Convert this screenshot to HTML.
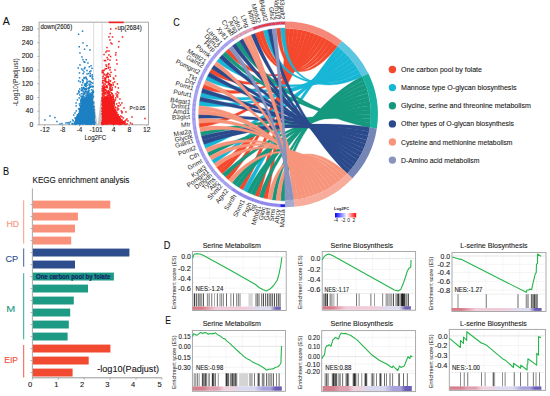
<!DOCTYPE html>
<html><head><meta charset="utf-8"><style>html,body{margin:0;padding:0;background:#fff;overflow:hidden}svg{display:block}</style></head>
<body><svg width="550" height="396" viewBox="0 0 550 396" font-family="'Liberation Sans', sans-serif">
<rect width="550" height="396" fill="#fff"/>
<text x="2.80" y="25.30" font-size="10.8" textLength="7.0" lengthAdjust="spacingAndGlyphs" fill="#111" stroke="#111" stroke-width="0.1">A</text>
<rect x="39.1" y="22.2" width="109.4" height="102.6" fill="none" stroke="#a0a0a0" stroke-width="0.9"/>
<line x1="37.300000000000004" y1="124.9" x2="39.1" y2="124.9" stroke="#888" stroke-width="0.6"/>
<text x="33.20" y="126.90" font-size="7.8" text-anchor="end" textLength="3.8" lengthAdjust="spacingAndGlyphs" fill="#161616" stroke="#161616" stroke-width="0.1">0</text>
<line x1="37.9" y1="118.1" x2="39.1" y2="118.1" stroke="#aaa" stroke-width="0.5"/>
<line x1="37.300000000000004" y1="111.2" x2="39.1" y2="111.2" stroke="#888" stroke-width="0.6"/>
<text x="33.20" y="113.20" font-size="7.8" text-anchor="end" textLength="7.6" lengthAdjust="spacingAndGlyphs" fill="#161616" stroke="#161616" stroke-width="0.1">40</text>
<line x1="37.9" y1="104.4" x2="39.1" y2="104.4" stroke="#aaa" stroke-width="0.5"/>
<line x1="37.300000000000004" y1="97.5" x2="39.1" y2="97.5" stroke="#888" stroke-width="0.6"/>
<text x="33.20" y="99.50" font-size="7.8" text-anchor="end" textLength="7.6" lengthAdjust="spacingAndGlyphs" fill="#161616" stroke="#161616" stroke-width="0.1">80</text>
<line x1="37.9" y1="90.7" x2="39.1" y2="90.7" stroke="#aaa" stroke-width="0.5"/>
<line x1="37.300000000000004" y1="83.8" x2="39.1" y2="83.8" stroke="#888" stroke-width="0.6"/>
<text x="33.20" y="85.80" font-size="7.8" text-anchor="end" textLength="11.5" lengthAdjust="spacingAndGlyphs" fill="#161616" stroke="#161616" stroke-width="0.1">120</text>
<line x1="37.9" y1="77.0" x2="39.1" y2="77.0" stroke="#aaa" stroke-width="0.5"/>
<line x1="37.300000000000004" y1="70.1" x2="39.1" y2="70.1" stroke="#888" stroke-width="0.6"/>
<text x="33.20" y="72.10" font-size="7.8" text-anchor="end" textLength="11.5" lengthAdjust="spacingAndGlyphs" fill="#161616" stroke="#161616" stroke-width="0.1">160</text>
<line x1="37.9" y1="63.2" x2="39.1" y2="63.2" stroke="#aaa" stroke-width="0.5"/>
<line x1="37.300000000000004" y1="56.4" x2="39.1" y2="56.4" stroke="#888" stroke-width="0.6"/>
<text x="33.20" y="58.40" font-size="7.8" text-anchor="end" textLength="11.5" lengthAdjust="spacingAndGlyphs" fill="#161616" stroke="#161616" stroke-width="0.1">200</text>
<line x1="37.9" y1="49.6" x2="39.1" y2="49.6" stroke="#aaa" stroke-width="0.5"/>
<line x1="37.300000000000004" y1="42.7" x2="39.1" y2="42.7" stroke="#888" stroke-width="0.6"/>
<text x="33.20" y="44.70" font-size="7.8" text-anchor="end" textLength="11.5" lengthAdjust="spacingAndGlyphs" fill="#161616" stroke="#161616" stroke-width="0.1">240</text>
<line x1="37.9" y1="35.9" x2="39.1" y2="35.9" stroke="#aaa" stroke-width="0.5"/>
<line x1="37.300000000000004" y1="29.0" x2="39.1" y2="29.0" stroke="#888" stroke-width="0.6"/>
<text x="33.20" y="31.00" font-size="7.8" text-anchor="end" textLength="11.5" lengthAdjust="spacingAndGlyphs" fill="#161616" stroke="#161616" stroke-width="0.1">280</text>
<line x1="44.8" y1="124.8" x2="44.8" y2="126.39999999999999" stroke="#888" stroke-width="0.6"/>
<text x="44.80" y="132.20" font-size="7.6" text-anchor="middle" textLength="9.8" lengthAdjust="spacingAndGlyphs" fill="#161616" stroke="#161616" stroke-width="0.1">-12</text>
<line x1="62.5" y1="124.8" x2="62.5" y2="126.39999999999999" stroke="#888" stroke-width="0.6"/>
<text x="62.50" y="132.20" font-size="7.6" text-anchor="middle" textLength="5.6" lengthAdjust="spacingAndGlyphs" fill="#161616" stroke="#161616" stroke-width="0.1">-8</text>
<line x1="79.5" y1="124.8" x2="79.5" y2="126.39999999999999" stroke="#888" stroke-width="0.6"/>
<text x="79.50" y="132.20" font-size="7.6" text-anchor="middle" textLength="5.6" lengthAdjust="spacingAndGlyphs" fill="#161616" stroke="#161616" stroke-width="0.1">-4</text>
<line x1="113.6" y1="124.8" x2="113.6" y2="126.39999999999999" stroke="#888" stroke-width="0.6"/>
<text x="113.60" y="132.20" font-size="7.6" text-anchor="middle" textLength="3.8" lengthAdjust="spacingAndGlyphs" fill="#161616" stroke="#161616" stroke-width="0.1">4</text>
<line x1="129.3" y1="124.8" x2="129.3" y2="126.39999999999999" stroke="#888" stroke-width="0.6"/>
<text x="129.30" y="132.20" font-size="7.6" text-anchor="middle" textLength="3.8" lengthAdjust="spacingAndGlyphs" fill="#161616" stroke="#161616" stroke-width="0.1">8</text>
<line x1="146.7" y1="124.8" x2="146.7" y2="126.39999999999999" stroke="#888" stroke-width="0.6"/>
<text x="146.70" y="132.20" font-size="7.6" text-anchor="middle" textLength="7.6" lengthAdjust="spacingAndGlyphs" fill="#161616" stroke="#161616" stroke-width="0.1">12</text>
<text x="89.50" y="132.20" font-size="7.6" textLength="13.3" lengthAdjust="spacingAndGlyphs" fill="#161616" stroke="#161616" stroke-width="0.1">-101</text>
<text x="84.40" y="140.20" font-size="6.8" textLength="21.8" lengthAdjust="spacingAndGlyphs" fill="#161616" stroke="#161616" stroke-width="0.1">Log2FC</text>
<text transform="translate(17.60,82.20) rotate(-90.0)" y="0" font-size="6.6" text-anchor="middle" textLength="48.0" lengthAdjust="spacingAndGlyphs" fill="#161616">-Log10(Padjust)</text>
<polygon points="93.0,100 94.2,100 96.9,121.5 97.3,124.6 94,124.6" fill="#c8c8c8"/>
<polygon points="100.6,100 101.9,100 101.9,124.6 97.7,124.6 98.1,121.5" fill="#c8c8c8"/>
<line x1="93.6" y1="22.6" x2="93.6" y2="124.5" stroke="#b4b4b4" stroke-width="0.45"/>
<line x1="102.1" y1="22.6" x2="102.1" y2="124.5" stroke="#b4b4b4" stroke-width="0.45"/>
<polygon points="82,100 86,97 92.8,96 93.5,110 95,124.6 72,124.6 76,121 78.5,113 80.5,104" fill="#1d80c4"/>
<polygon points="102.4,98 106,96 112,97 113.5,104 115,110 118,115 122,120 125,123.6 126,124.6 101.6,124.6" fill="#f41d1d"/>
<rect x="81.8" y="30.4" width="1.5" height="1.5" fill="#1d80c4"/>
<rect x="77.8" y="33.5" width="1.5" height="1.5" fill="#1d80c4"/>
<rect x="82.2" y="42.2" width="1.5" height="1.5" fill="#1d80c4"/>
<rect x="78.5" y="46.0" width="1.5" height="1.5" fill="#1d80c4"/>
<rect x="86.2" y="45.0" width="1.5" height="1.5" fill="#1d80c4"/>
<rect x="83.8" y="48.5" width="1.5" height="1.5" fill="#1d80c4"/>
<rect x="82.2" y="58.9" width="1.5" height="1.5" fill="#1d80c4"/>
<rect x="85.5" y="58.9" width="1.5" height="1.5" fill="#1d80c4"/>
<rect x="83.2" y="61.0" width="1.5" height="1.5" fill="#1d80c4"/>
<rect x="87.2" y="62.2" width="1.5" height="1.5" fill="#1d80c4"/>
<rect x="79.2" y="64.2" width="1.5" height="1.5" fill="#1d80c4"/>
<rect x="77.5" y="67.2" width="1.5" height="1.5" fill="#1d80c4"/>
<rect x="84.2" y="66.8" width="1.5" height="1.5" fill="#1d80c4"/>
<rect x="86.2" y="69.8" width="1.5" height="1.5" fill="#1d80c4"/>
<rect x="83.2" y="71.2" width="1.5" height="1.5" fill="#1d80c4"/>
<rect x="86.2" y="73.2" width="1.5" height="1.5" fill="#1d80c4"/>
<rect x="49.2" y="115.2" width="1.5" height="1.5" fill="#1d80c4"/>
<rect x="54.2" y="116.8" width="1.5" height="1.5" fill="#1d80c4"/>
<rect x="44.2" y="119.2" width="1.5" height="1.5" fill="#1d80c4"/>
<rect x="56.2" y="120.8" width="1.5" height="1.5" fill="#1d80c4"/>
<rect x="79.2" y="52.2" width="1.5" height="1.5" fill="#1d80c4"/>
<rect x="81.2" y="56.2" width="1.5" height="1.5" fill="#1d80c4"/>
<rect x="89.2" y="49.2" width="1.5" height="1.5" fill="#1d80c4"/>
<rect x="61.2" y="122.8" width="1.5" height="1.5" fill="#1d80c4"/>
<rect x="65.2" y="122.2" width="1.5" height="1.5" fill="#1d80c4"/>
<rect x="68.2" y="121.8" width="1.5" height="1.5" fill="#1d80c4"/>
<rect x="59.2" y="123.2" width="1.5" height="1.5" fill="#1d80c4"/>
<rect x="84.0" y="61.5" width="1.5" height="1.5" fill="#1d80c4"/>
<rect x="90.3" y="65.0" width="1.5" height="1.5" fill="#1d80c4"/>
<rect x="88.6" y="66.0" width="1.5" height="1.5" fill="#1d80c4"/>
<rect x="91.3" y="67.6" width="1.5" height="1.5" fill="#1d80c4"/>
<rect x="83.7" y="67.9" width="1.5" height="1.5" fill="#1d80c4"/>
<rect x="80.9" y="68.2" width="1.5" height="1.5" fill="#1d80c4"/>
<rect x="82.1" y="69.4" width="1.5" height="1.5" fill="#1d80c4"/>
<rect x="90.1" y="70.2" width="1.5" height="1.5" fill="#1d80c4"/>
<rect x="89.0" y="70.8" width="1.5" height="1.5" fill="#1d80c4"/>
<rect x="89.5" y="72.6" width="1.5" height="1.5" fill="#1d80c4"/>
<rect x="78.7" y="72.2" width="1.5" height="1.5" fill="#1d80c4"/>
<rect x="87.7" y="72.8" width="1.5" height="1.5" fill="#1d80c4"/>
<rect x="82.3" y="72.9" width="1.5" height="1.5" fill="#1d80c4"/>
<rect x="89.5" y="74.7" width="1.5" height="1.5" fill="#1d80c4"/>
<rect x="91.5" y="74.1" width="1.5" height="1.5" fill="#1d80c4"/>
<rect x="89.8" y="74.9" width="1.5" height="1.5" fill="#1d80c4"/>
<rect x="89.5" y="75.5" width="1.5" height="1.5" fill="#1d80c4"/>
<rect x="91.6" y="75.8" width="1.5" height="1.5" fill="#1d80c4"/>
<rect x="85.2" y="76.4" width="1.5" height="1.5" fill="#1d80c4"/>
<rect x="91.4" y="77.3" width="1.5" height="1.5" fill="#1d80c4"/>
<rect x="84.9" y="77.1" width="1.5" height="1.5" fill="#1d80c4"/>
<rect x="83.4" y="76.8" width="1.5" height="1.5" fill="#1d80c4"/>
<rect x="78.8" y="77.2" width="1.5" height="1.5" fill="#1d80c4"/>
<rect x="83.2" y="77.8" width="1.5" height="1.5" fill="#1d80c4"/>
<rect x="92.1" y="78.3" width="1.5" height="1.5" fill="#1d80c4"/>
<rect x="85.8" y="78.0" width="1.5" height="1.5" fill="#1d80c4"/>
<rect x="86.3" y="79.2" width="1.5" height="1.5" fill="#1d80c4"/>
<rect x="82.0" y="79.7" width="1.5" height="1.5" fill="#1d80c4"/>
<rect x="81.7" y="79.2" width="1.5" height="1.5" fill="#1d80c4"/>
<rect x="89.4" y="80.7" width="1.5" height="1.5" fill="#1d80c4"/>
<rect x="88.2" y="80.5" width="1.5" height="1.5" fill="#1d80c4"/>
<rect x="82.4" y="80.2" width="1.5" height="1.5" fill="#1d80c4"/>
<rect x="77.9" y="80.2" width="1.5" height="1.5" fill="#1d80c4"/>
<rect x="86.3" y="81.7" width="1.5" height="1.5" fill="#1d80c4"/>
<rect x="90.7" y="81.7" width="1.5" height="1.5" fill="#1d80c4"/>
<rect x="86.3" y="81.2" width="1.5" height="1.5" fill="#1d80c4"/>
<rect x="89.4" y="81.2" width="1.5" height="1.5" fill="#1d80c4"/>
<rect x="79.6" y="81.2" width="1.5" height="1.5" fill="#1d80c4"/>
<rect x="85.4" y="82.7" width="1.5" height="1.5" fill="#1d80c4"/>
<rect x="92.0" y="82.4" width="1.5" height="1.5" fill="#1d80c4"/>
<rect x="86.8" y="82.1" width="1.5" height="1.5" fill="#1d80c4"/>
<rect x="82.1" y="82.0" width="1.5" height="1.5" fill="#1d80c4"/>
<rect x="85.2" y="83.5" width="1.5" height="1.5" fill="#1d80c4"/>
<rect x="89.9" y="83.4" width="1.5" height="1.5" fill="#1d80c4"/>
<rect x="88.6" y="83.5" width="1.5" height="1.5" fill="#1d80c4"/>
<rect x="85.2" y="83.5" width="1.5" height="1.5" fill="#1d80c4"/>
<rect x="84.2" y="83.2" width="1.5" height="1.5" fill="#1d80c4"/>
<rect x="84.3" y="84.7" width="1.5" height="1.5" fill="#1d80c4"/>
<rect x="88.5" y="84.3" width="1.5" height="1.5" fill="#1d80c4"/>
<rect x="81.1" y="84.3" width="1.5" height="1.5" fill="#1d80c4"/>
<rect x="83.8" y="84.4" width="1.5" height="1.5" fill="#1d80c4"/>
<rect x="86.3" y="84.6" width="1.5" height="1.5" fill="#1d80c4"/>
<rect x="84.9" y="85.4" width="1.5" height="1.5" fill="#1d80c4"/>
<rect x="89.5" y="85.6" width="1.5" height="1.5" fill="#1d80c4"/>
<rect x="85.0" y="85.6" width="1.5" height="1.5" fill="#1d80c4"/>
<rect x="91.0" y="85.4" width="1.5" height="1.5" fill="#1d80c4"/>
<rect x="92.3" y="85.7" width="1.5" height="1.5" fill="#1d80c4"/>
<rect x="82.8" y="86.6" width="1.5" height="1.5" fill="#1d80c4"/>
<rect x="91.9" y="86.2" width="1.5" height="1.5" fill="#1d80c4"/>
<rect x="89.0" y="86.5" width="1.5" height="1.5" fill="#1d80c4"/>
<rect x="89.4" y="85.9" width="1.5" height="1.5" fill="#1d80c4"/>
<rect x="90.0" y="86.3" width="1.5" height="1.5" fill="#1d80c4"/>
<rect x="88.2" y="87.5" width="1.5" height="1.5" fill="#1d80c4"/>
<rect x="88.3" y="87.5" width="1.5" height="1.5" fill="#1d80c4"/>
<rect x="81.0" y="86.9" width="1.5" height="1.5" fill="#1d80c4"/>
<rect x="86.0" y="87.4" width="1.5" height="1.5" fill="#1d80c4"/>
<rect x="83.3" y="87.4" width="1.5" height="1.5" fill="#1d80c4"/>
<rect x="88.2" y="86.8" width="1.5" height="1.5" fill="#1d80c4"/>
<rect x="81.3" y="87.9" width="1.5" height="1.5" fill="#1d80c4"/>
<rect x="84.5" y="87.9" width="1.5" height="1.5" fill="#1d80c4"/>
<rect x="83.0" y="87.8" width="1.5" height="1.5" fill="#1d80c4"/>
<rect x="86.2" y="88.1" width="1.5" height="1.5" fill="#1d80c4"/>
<rect x="88.0" y="88.3" width="1.5" height="1.5" fill="#1d80c4"/>
<rect x="83.5" y="88.7" width="1.5" height="1.5" fill="#1d80c4"/>
<rect x="79.0" y="88.2" width="1.5" height="1.5" fill="#1d80c4"/>
<rect x="85.5" y="88.9" width="1.5" height="1.5" fill="#1d80c4"/>
<rect x="90.7" y="89.1" width="1.5" height="1.5" fill="#1d80c4"/>
<rect x="81.0" y="89.4" width="1.5" height="1.5" fill="#1d80c4"/>
<rect x="81.7" y="89.3" width="1.5" height="1.5" fill="#1d80c4"/>
<rect x="84.7" y="89.3" width="1.5" height="1.5" fill="#1d80c4"/>
<rect x="92.2" y="89.6" width="1.5" height="1.5" fill="#1d80c4"/>
<rect x="88.4" y="90.1" width="1.5" height="1.5" fill="#1d80c4"/>
<rect x="82.2" y="90.3" width="1.5" height="1.5" fill="#1d80c4"/>
<rect x="87.4" y="90.7" width="1.5" height="1.5" fill="#1d80c4"/>
<rect x="92.4" y="90.4" width="1.5" height="1.5" fill="#1d80c4"/>
<rect x="84.8" y="90.6" width="1.5" height="1.5" fill="#1d80c4"/>
<rect x="80.5" y="89.9" width="1.5" height="1.5" fill="#1d80c4"/>
<rect x="87.4" y="90.4" width="1.5" height="1.5" fill="#1d80c4"/>
<rect x="78.0" y="90.2" width="1.5" height="1.5" fill="#1d80c4"/>
<rect x="85.1" y="91.2" width="1.5" height="1.5" fill="#1d80c4"/>
<rect x="83.2" y="91.0" width="1.5" height="1.5" fill="#1d80c4"/>
<rect x="92.5" y="91.1" width="1.5" height="1.5" fill="#1d80c4"/>
<rect x="92.3" y="91.7" width="1.5" height="1.5" fill="#1d80c4"/>
<rect x="87.8" y="91.0" width="1.5" height="1.5" fill="#1d80c4"/>
<rect x="92.6" y="91.2" width="1.5" height="1.5" fill="#1d80c4"/>
<rect x="85.6" y="91.1" width="1.5" height="1.5" fill="#1d80c4"/>
<rect x="92.6" y="91.2" width="1.5" height="1.5" fill="#1d80c4"/>
<rect x="78.5" y="91.2" width="1.5" height="1.5" fill="#1d80c4"/>
<rect x="88.1" y="92.2" width="1.5" height="1.5" fill="#1d80c4"/>
<rect x="84.0" y="92.5" width="1.5" height="1.5" fill="#1d80c4"/>
<rect x="90.7" y="91.8" width="1.5" height="1.5" fill="#1d80c4"/>
<rect x="87.0" y="92.0" width="1.5" height="1.5" fill="#1d80c4"/>
<rect x="92.0" y="92.5" width="1.5" height="1.5" fill="#1d80c4"/>
<rect x="83.4" y="92.0" width="1.5" height="1.5" fill="#1d80c4"/>
<rect x="82.3" y="92.7" width="1.5" height="1.5" fill="#1d80c4"/>
<rect x="77.9" y="92.2" width="1.5" height="1.5" fill="#1d80c4"/>
<rect x="88.4" y="93.4" width="1.5" height="1.5" fill="#1d80c4"/>
<rect x="89.7" y="92.9" width="1.5" height="1.5" fill="#1d80c4"/>
<rect x="89.9" y="93.1" width="1.5" height="1.5" fill="#1d80c4"/>
<rect x="87.0" y="93.1" width="1.5" height="1.5" fill="#1d80c4"/>
<rect x="84.0" y="93.3" width="1.5" height="1.5" fill="#1d80c4"/>
<rect x="86.1" y="93.1" width="1.5" height="1.5" fill="#1d80c4"/>
<rect x="89.7" y="93.3" width="1.5" height="1.5" fill="#1d80c4"/>
<rect x="80.7" y="93.0" width="1.5" height="1.5" fill="#1d80c4"/>
<rect x="76.6" y="93.2" width="1.5" height="1.5" fill="#1d80c4"/>
<rect x="87.1" y="93.8" width="1.5" height="1.5" fill="#1d80c4"/>
<rect x="90.1" y="94.2" width="1.5" height="1.5" fill="#1d80c4"/>
<rect x="87.5" y="94.5" width="1.5" height="1.5" fill="#1d80c4"/>
<rect x="88.2" y="94.2" width="1.5" height="1.5" fill="#1d80c4"/>
<rect x="91.8" y="94.1" width="1.5" height="1.5" fill="#1d80c4"/>
<rect x="85.2" y="94.6" width="1.5" height="1.5" fill="#1d80c4"/>
<rect x="82.7" y="94.0" width="1.5" height="1.5" fill="#1d80c4"/>
<rect x="90.8" y="93.8" width="1.5" height="1.5" fill="#1d80c4"/>
<rect x="90.9" y="94.4" width="1.5" height="1.5" fill="#1d80c4"/>
<rect x="79.0" y="94.2" width="1.5" height="1.5" fill="#1d80c4"/>
<rect x="91.8" y="94.9" width="1.5" height="1.5" fill="#1d80c4"/>
<rect x="86.3" y="95.3" width="1.5" height="1.5" fill="#1d80c4"/>
<rect x="86.5" y="95.1" width="1.5" height="1.5" fill="#1d80c4"/>
<rect x="82.1" y="95.3" width="1.5" height="1.5" fill="#1d80c4"/>
<rect x="90.6" y="94.8" width="1.5" height="1.5" fill="#1d80c4"/>
<rect x="83.0" y="95.6" width="1.5" height="1.5" fill="#1d80c4"/>
<rect x="90.3" y="95.4" width="1.5" height="1.5" fill="#1d80c4"/>
<rect x="80.4" y="95.5" width="1.5" height="1.5" fill="#1d80c4"/>
<rect x="92.7" y="95.7" width="1.5" height="1.5" fill="#1d80c4"/>
<rect x="89.1" y="94.8" width="1.5" height="1.5" fill="#1d80c4"/>
<rect x="88.4" y="96.7" width="1.5" height="1.5" fill="#1d80c4"/>
<rect x="89.3" y="95.9" width="1.5" height="1.5" fill="#1d80c4"/>
<rect x="83.8" y="96.7" width="1.5" height="1.5" fill="#1d80c4"/>
<rect x="81.9" y="96.4" width="1.5" height="1.5" fill="#1d80c4"/>
<rect x="85.4" y="95.9" width="1.5" height="1.5" fill="#1d80c4"/>
<rect x="88.1" y="95.8" width="1.5" height="1.5" fill="#1d80c4"/>
<rect x="81.4" y="96.1" width="1.5" height="1.5" fill="#1d80c4"/>
<rect x="80.9" y="95.8" width="1.5" height="1.5" fill="#1d80c4"/>
<rect x="87.5" y="96.5" width="1.5" height="1.5" fill="#1d80c4"/>
<rect x="85.6" y="97.1" width="1.5" height="1.5" fill="#1d80c4"/>
<rect x="87.8" y="97.2" width="1.5" height="1.5" fill="#1d80c4"/>
<rect x="92.3" y="97.1" width="1.5" height="1.5" fill="#1d80c4"/>
<rect x="80.6" y="97.4" width="1.5" height="1.5" fill="#1d80c4"/>
<rect x="81.9" y="97.4" width="1.5" height="1.5" fill="#1d80c4"/>
<rect x="86.6" y="97.7" width="1.5" height="1.5" fill="#1d80c4"/>
<rect x="87.2" y="97.4" width="1.5" height="1.5" fill="#1d80c4"/>
<rect x="83.4" y="97.3" width="1.5" height="1.5" fill="#1d80c4"/>
<rect x="83.3" y="97.5" width="1.5" height="1.5" fill="#1d80c4"/>
<rect x="86.7" y="96.9" width="1.5" height="1.5" fill="#1d80c4"/>
<rect x="78.4" y="97.2" width="1.5" height="1.5" fill="#1d80c4"/>
<rect x="82.2" y="98.5" width="1.5" height="1.5" fill="#1d80c4"/>
<rect x="88.5" y="97.8" width="1.5" height="1.5" fill="#1d80c4"/>
<rect x="88.7" y="97.8" width="1.5" height="1.5" fill="#1d80c4"/>
<rect x="81.5" y="98.3" width="1.5" height="1.5" fill="#1d80c4"/>
<rect x="83.0" y="98.6" width="1.5" height="1.5" fill="#1d80c4"/>
<rect x="86.2" y="98.1" width="1.5" height="1.5" fill="#1d80c4"/>
<rect x="90.4" y="97.8" width="1.5" height="1.5" fill="#1d80c4"/>
<rect x="89.5" y="97.8" width="1.5" height="1.5" fill="#1d80c4"/>
<rect x="81.8" y="98.7" width="1.5" height="1.5" fill="#1d80c4"/>
<rect x="88.9" y="98.0" width="1.5" height="1.5" fill="#1d80c4"/>
<rect x="81.4" y="98.7" width="1.5" height="1.5" fill="#1d80c4"/>
<rect x="81.6" y="99.4" width="1.5" height="1.5" fill="#1d80c4"/>
<rect x="84.5" y="99.0" width="1.5" height="1.5" fill="#1d80c4"/>
<rect x="84.2" y="99.4" width="1.5" height="1.5" fill="#1d80c4"/>
<rect x="84.4" y="99.1" width="1.5" height="1.5" fill="#1d80c4"/>
<rect x="81.6" y="99.6" width="1.5" height="1.5" fill="#1d80c4"/>
<rect x="88.4" y="99.6" width="1.5" height="1.5" fill="#1d80c4"/>
<rect x="85.6" y="99.6" width="1.5" height="1.5" fill="#1d80c4"/>
<rect x="86.7" y="99.3" width="1.5" height="1.5" fill="#1d80c4"/>
<rect x="87.4" y="99.5" width="1.5" height="1.5" fill="#1d80c4"/>
<rect x="85.1" y="98.8" width="1.5" height="1.5" fill="#1d80c4"/>
<rect x="80.2" y="99.0" width="1.5" height="1.5" fill="#1d80c4"/>
<rect x="80.3" y="99.6" width="1.5" height="1.5" fill="#1d80c4"/>
<rect x="76.7" y="99.2" width="1.5" height="1.5" fill="#1d80c4"/>
<rect x="86.0" y="100.6" width="1.5" height="1.5" fill="#1d80c4"/>
<rect x="88.0" y="100.2" width="1.5" height="1.5" fill="#1d80c4"/>
<rect x="85.9" y="99.8" width="1.5" height="1.5" fill="#1d80c4"/>
<rect x="81.7" y="99.9" width="1.5" height="1.5" fill="#1d80c4"/>
<rect x="84.7" y="100.1" width="1.5" height="1.5" fill="#1d80c4"/>
<rect x="91.6" y="99.9" width="1.5" height="1.5" fill="#1d80c4"/>
<rect x="83.0" y="100.0" width="1.5" height="1.5" fill="#1d80c4"/>
<rect x="81.8" y="100.0" width="1.5" height="1.5" fill="#1d80c4"/>
<rect x="82.8" y="100.2" width="1.5" height="1.5" fill="#1d80c4"/>
<rect x="80.0" y="100.7" width="1.5" height="1.5" fill="#1d80c4"/>
<rect x="84.6" y="100.7" width="1.5" height="1.5" fill="#1d80c4"/>
<rect x="85.9" y="101.7" width="1.5" height="1.5" fill="#1d80c4"/>
<rect x="81.0" y="101.4" width="1.5" height="1.5" fill="#1d80c4"/>
<rect x="83.4" y="101.4" width="1.5" height="1.5" fill="#1d80c4"/>
<rect x="89.5" y="100.9" width="1.5" height="1.5" fill="#1d80c4"/>
<rect x="82.2" y="100.8" width="1.5" height="1.5" fill="#1d80c4"/>
<rect x="82.6" y="100.8" width="1.5" height="1.5" fill="#1d80c4"/>
<rect x="85.0" y="101.7" width="1.5" height="1.5" fill="#1d80c4"/>
<rect x="84.5" y="101.1" width="1.5" height="1.5" fill="#1d80c4"/>
<rect x="85.9" y="101.0" width="1.5" height="1.5" fill="#1d80c4"/>
<rect x="89.6" y="101.5" width="1.5" height="1.5" fill="#1d80c4"/>
<rect x="81.7" y="101.0" width="1.5" height="1.5" fill="#1d80c4"/>
<rect x="88.7" y="101.7" width="1.5" height="1.5" fill="#1d80c4"/>
<rect x="93.0" y="101.8" width="1.5" height="1.5" fill="#1d80c4"/>
<rect x="80.1" y="102.5" width="1.5" height="1.5" fill="#1d80c4"/>
<rect x="85.0" y="101.8" width="1.5" height="1.5" fill="#1d80c4"/>
<rect x="87.0" y="102.7" width="1.5" height="1.5" fill="#1d80c4"/>
<rect x="86.5" y="102.1" width="1.5" height="1.5" fill="#1d80c4"/>
<rect x="80.6" y="101.8" width="1.5" height="1.5" fill="#1d80c4"/>
<rect x="91.9" y="102.2" width="1.5" height="1.5" fill="#1d80c4"/>
<rect x="92.4" y="101.8" width="1.5" height="1.5" fill="#1d80c4"/>
<rect x="82.7" y="101.8" width="1.5" height="1.5" fill="#1d80c4"/>
<rect x="84.8" y="101.8" width="1.5" height="1.5" fill="#1d80c4"/>
<rect x="82.8" y="102.2" width="1.5" height="1.5" fill="#1d80c4"/>
<rect x="83.5" y="101.8" width="1.5" height="1.5" fill="#1d80c4"/>
<rect x="75.4" y="102.2" width="1.5" height="1.5" fill="#1d80c4"/>
<rect x="86.3" y="103.2" width="1.5" height="1.5" fill="#1d80c4"/>
<rect x="86.7" y="102.8" width="1.5" height="1.5" fill="#1d80c4"/>
<rect x="83.6" y="102.9" width="1.5" height="1.5" fill="#1d80c4"/>
<rect x="86.8" y="103.7" width="1.5" height="1.5" fill="#1d80c4"/>
<rect x="87.6" y="103.6" width="1.5" height="1.5" fill="#1d80c4"/>
<rect x="82.1" y="102.8" width="1.5" height="1.5" fill="#1d80c4"/>
<rect x="86.8" y="103.2" width="1.5" height="1.5" fill="#1d80c4"/>
<rect x="87.2" y="103.1" width="1.5" height="1.5" fill="#1d80c4"/>
<rect x="88.0" y="103.5" width="1.5" height="1.5" fill="#1d80c4"/>
<rect x="92.1" y="103.1" width="1.5" height="1.5" fill="#1d80c4"/>
<rect x="85.5" y="103.6" width="1.5" height="1.5" fill="#1d80c4"/>
<rect x="82.3" y="102.9" width="1.5" height="1.5" fill="#1d80c4"/>
<rect x="78.7" y="103.2" width="1.5" height="1.5" fill="#1d80c4"/>
<rect x="90.8" y="104.1" width="1.5" height="1.5" fill="#1d80c4"/>
<rect x="80.8" y="103.8" width="1.5" height="1.5" fill="#1d80c4"/>
<rect x="82.5" y="103.8" width="1.5" height="1.5" fill="#1d80c4"/>
<rect x="85.1" y="104.3" width="1.5" height="1.5" fill="#1d80c4"/>
<rect x="82.5" y="103.8" width="1.5" height="1.5" fill="#1d80c4"/>
<rect x="89.1" y="103.8" width="1.5" height="1.5" fill="#1d80c4"/>
<rect x="81.8" y="104.0" width="1.5" height="1.5" fill="#1d80c4"/>
<rect x="84.3" y="103.8" width="1.5" height="1.5" fill="#1d80c4"/>
<rect x="85.0" y="104.1" width="1.5" height="1.5" fill="#1d80c4"/>
<rect x="89.8" y="104.3" width="1.5" height="1.5" fill="#1d80c4"/>
<rect x="91.9" y="104.4" width="1.5" height="1.5" fill="#1d80c4"/>
<rect x="89.9" y="104.3" width="1.5" height="1.5" fill="#1d80c4"/>
<rect x="85.3" y="104.6" width="1.5" height="1.5" fill="#1d80c4"/>
<rect x="89.4" y="105.5" width="1.5" height="1.5" fill="#1d80c4"/>
<rect x="82.7" y="105.6" width="1.5" height="1.5" fill="#1d80c4"/>
<rect x="84.4" y="104.9" width="1.5" height="1.5" fill="#1d80c4"/>
<rect x="79.7" y="104.9" width="1.5" height="1.5" fill="#1d80c4"/>
<rect x="82.6" y="105.4" width="1.5" height="1.5" fill="#1d80c4"/>
<rect x="82.9" y="104.8" width="1.5" height="1.5" fill="#1d80c4"/>
<rect x="90.0" y="105.3" width="1.5" height="1.5" fill="#1d80c4"/>
<rect x="79.2" y="104.8" width="1.5" height="1.5" fill="#1d80c4"/>
<rect x="80.7" y="105.1" width="1.5" height="1.5" fill="#1d80c4"/>
<rect x="91.4" y="105.7" width="1.5" height="1.5" fill="#1d80c4"/>
<rect x="87.7" y="105.0" width="1.5" height="1.5" fill="#1d80c4"/>
<rect x="85.0" y="105.1" width="1.5" height="1.5" fill="#1d80c4"/>
<rect x="83.6" y="104.8" width="1.5" height="1.5" fill="#1d80c4"/>
<rect x="75.4" y="105.2" width="1.5" height="1.5" fill="#1d80c4"/>
<rect x="80.0" y="106.3" width="1.5" height="1.5" fill="#1d80c4"/>
<rect x="81.1" y="106.5" width="1.5" height="1.5" fill="#1d80c4"/>
<rect x="85.2" y="106.7" width="1.5" height="1.5" fill="#1d80c4"/>
<rect x="90.4" y="105.9" width="1.5" height="1.5" fill="#1d80c4"/>
<rect x="83.3" y="106.7" width="1.5" height="1.5" fill="#1d80c4"/>
<rect x="85.4" y="106.2" width="1.5" height="1.5" fill="#1d80c4"/>
<rect x="85.2" y="106.5" width="1.5" height="1.5" fill="#1d80c4"/>
<rect x="92.5" y="106.3" width="1.5" height="1.5" fill="#1d80c4"/>
<rect x="93.0" y="106.3" width="1.5" height="1.5" fill="#1d80c4"/>
<rect x="80.1" y="106.6" width="1.5" height="1.5" fill="#1d80c4"/>
<rect x="84.8" y="105.8" width="1.5" height="1.5" fill="#1d80c4"/>
<rect x="93.1" y="105.8" width="1.5" height="1.5" fill="#1d80c4"/>
<rect x="87.2" y="106.2" width="1.5" height="1.5" fill="#1d80c4"/>
<rect x="81.7" y="107.0" width="1.5" height="1.5" fill="#1d80c4"/>
<rect x="81.5" y="107.3" width="1.5" height="1.5" fill="#1d80c4"/>
<rect x="83.8" y="107.5" width="1.5" height="1.5" fill="#1d80c4"/>
<rect x="82.1" y="107.1" width="1.5" height="1.5" fill="#1d80c4"/>
<rect x="82.2" y="107.7" width="1.5" height="1.5" fill="#1d80c4"/>
<rect x="91.1" y="107.6" width="1.5" height="1.5" fill="#1d80c4"/>
<rect x="87.8" y="107.2" width="1.5" height="1.5" fill="#1d80c4"/>
<rect x="80.6" y="107.6" width="1.5" height="1.5" fill="#1d80c4"/>
<rect x="85.8" y="106.8" width="1.5" height="1.5" fill="#1d80c4"/>
<rect x="81.0" y="106.8" width="1.5" height="1.5" fill="#1d80c4"/>
<rect x="89.3" y="107.7" width="1.5" height="1.5" fill="#1d80c4"/>
<rect x="81.4" y="107.5" width="1.5" height="1.5" fill="#1d80c4"/>
<rect x="83.3" y="107.4" width="1.5" height="1.5" fill="#1d80c4"/>
<rect x="90.5" y="108.1" width="1.5" height="1.5" fill="#1d80c4"/>
<rect x="78.4" y="108.3" width="1.5" height="1.5" fill="#1d80c4"/>
<rect x="87.2" y="107.9" width="1.5" height="1.5" fill="#1d80c4"/>
<rect x="84.2" y="108.1" width="1.5" height="1.5" fill="#1d80c4"/>
<rect x="78.7" y="108.1" width="1.5" height="1.5" fill="#1d80c4"/>
<rect x="84.1" y="108.2" width="1.5" height="1.5" fill="#1d80c4"/>
<rect x="89.0" y="108.1" width="1.5" height="1.5" fill="#1d80c4"/>
<rect x="93.3" y="108.6" width="1.5" height="1.5" fill="#1d80c4"/>
<rect x="92.4" y="108.4" width="1.5" height="1.5" fill="#1d80c4"/>
<rect x="88.5" y="108.3" width="1.5" height="1.5" fill="#1d80c4"/>
<rect x="90.5" y="108.1" width="1.5" height="1.5" fill="#1d80c4"/>
<rect x="87.3" y="108.4" width="1.5" height="1.5" fill="#1d80c4"/>
<rect x="86.2" y="108.0" width="1.5" height="1.5" fill="#1d80c4"/>
<rect x="77.9" y="108.2" width="1.5" height="1.5" fill="#1d80c4"/>
<rect x="87.1" y="109.5" width="1.5" height="1.5" fill="#1d80c4"/>
<rect x="89.2" y="109.1" width="1.5" height="1.5" fill="#1d80c4"/>
<rect x="92.5" y="109.0" width="1.5" height="1.5" fill="#1d80c4"/>
<rect x="89.2" y="108.8" width="1.5" height="1.5" fill="#1d80c4"/>
<rect x="89.8" y="109.4" width="1.5" height="1.5" fill="#1d80c4"/>
<rect x="92.9" y="109.6" width="1.5" height="1.5" fill="#1d80c4"/>
<rect x="88.8" y="109.6" width="1.5" height="1.5" fill="#1d80c4"/>
<rect x="89.6" y="109.4" width="1.5" height="1.5" fill="#1d80c4"/>
<rect x="81.3" y="109.3" width="1.5" height="1.5" fill="#1d80c4"/>
<rect x="92.0" y="109.0" width="1.5" height="1.5" fill="#1d80c4"/>
<rect x="93.2" y="109.3" width="1.5" height="1.5" fill="#1d80c4"/>
<rect x="84.2" y="108.8" width="1.5" height="1.5" fill="#1d80c4"/>
<rect x="84.1" y="108.9" width="1.5" height="1.5" fill="#1d80c4"/>
<rect x="92.2" y="110.4" width="1.5" height="1.5" fill="#1d80c4"/>
<rect x="84.0" y="109.9" width="1.5" height="1.5" fill="#1d80c4"/>
<rect x="88.8" y="110.3" width="1.5" height="1.5" fill="#1d80c4"/>
<rect x="89.2" y="110.1" width="1.5" height="1.5" fill="#1d80c4"/>
<rect x="91.9" y="110.0" width="1.5" height="1.5" fill="#1d80c4"/>
<rect x="82.7" y="110.0" width="1.5" height="1.5" fill="#1d80c4"/>
<rect x="87.7" y="110.6" width="1.5" height="1.5" fill="#1d80c4"/>
<rect x="80.6" y="110.4" width="1.5" height="1.5" fill="#1d80c4"/>
<rect x="90.0" y="110.0" width="1.5" height="1.5" fill="#1d80c4"/>
<rect x="78.9" y="110.3" width="1.5" height="1.5" fill="#1d80c4"/>
<rect x="91.0" y="110.6" width="1.5" height="1.5" fill="#1d80c4"/>
<rect x="89.4" y="110.2" width="1.5" height="1.5" fill="#1d80c4"/>
<rect x="84.6" y="110.3" width="1.5" height="1.5" fill="#1d80c4"/>
<rect x="92.2" y="110.1" width="1.5" height="1.5" fill="#1d80c4"/>
<rect x="75.5" y="110.2" width="1.5" height="1.5" fill="#1d80c4"/>
<rect x="80.7" y="110.8" width="1.5" height="1.5" fill="#1d80c4"/>
<rect x="79.6" y="111.3" width="1.5" height="1.5" fill="#1d80c4"/>
<rect x="87.4" y="110.9" width="1.5" height="1.5" fill="#1d80c4"/>
<rect x="80.8" y="111.3" width="1.5" height="1.5" fill="#1d80c4"/>
<rect x="88.1" y="111.4" width="1.5" height="1.5" fill="#1d80c4"/>
<rect x="89.4" y="110.8" width="1.5" height="1.5" fill="#1d80c4"/>
<rect x="85.5" y="111.6" width="1.5" height="1.5" fill="#1d80c4"/>
<rect x="93.0" y="111.1" width="1.5" height="1.5" fill="#1d80c4"/>
<rect x="91.3" y="111.4" width="1.5" height="1.5" fill="#1d80c4"/>
<rect x="92.5" y="111.0" width="1.5" height="1.5" fill="#1d80c4"/>
<rect x="88.9" y="111.6" width="1.5" height="1.5" fill="#1d80c4"/>
<rect x="85.4" y="110.9" width="1.5" height="1.5" fill="#1d80c4"/>
<rect x="80.8" y="110.9" width="1.5" height="1.5" fill="#1d80c4"/>
<rect x="79.2" y="110.9" width="1.5" height="1.5" fill="#1d80c4"/>
<rect x="89.8" y="112.5" width="1.5" height="1.5" fill="#1d80c4"/>
<rect x="90.7" y="112.6" width="1.5" height="1.5" fill="#1d80c4"/>
<rect x="89.0" y="112.7" width="1.5" height="1.5" fill="#1d80c4"/>
<rect x="93.0" y="112.4" width="1.5" height="1.5" fill="#1d80c4"/>
<rect x="93.2" y="111.9" width="1.5" height="1.5" fill="#1d80c4"/>
<rect x="79.0" y="111.8" width="1.5" height="1.5" fill="#1d80c4"/>
<rect x="80.7" y="112.1" width="1.5" height="1.5" fill="#1d80c4"/>
<rect x="84.9" y="112.4" width="1.5" height="1.5" fill="#1d80c4"/>
<rect x="89.5" y="111.8" width="1.5" height="1.5" fill="#1d80c4"/>
<rect x="83.9" y="112.3" width="1.5" height="1.5" fill="#1d80c4"/>
<rect x="83.5" y="111.9" width="1.5" height="1.5" fill="#1d80c4"/>
<rect x="87.1" y="112.1" width="1.5" height="1.5" fill="#1d80c4"/>
<rect x="88.6" y="112.2" width="1.5" height="1.5" fill="#1d80c4"/>
<rect x="93.1" y="112.7" width="1.5" height="1.5" fill="#1d80c4"/>
<rect x="74.3" y="112.2" width="1.5" height="1.5" fill="#1d80c4"/>
<rect x="81.9" y="112.9" width="1.5" height="1.5" fill="#1d80c4"/>
<rect x="85.0" y="113.1" width="1.5" height="1.5" fill="#1d80c4"/>
<rect x="89.4" y="113.7" width="1.5" height="1.5" fill="#1d80c4"/>
<rect x="83.4" y="113.0" width="1.5" height="1.5" fill="#1d80c4"/>
<rect x="85.3" y="113.4" width="1.5" height="1.5" fill="#1d80c4"/>
<rect x="90.2" y="113.3" width="1.5" height="1.5" fill="#1d80c4"/>
<rect x="81.9" y="113.1" width="1.5" height="1.5" fill="#1d80c4"/>
<rect x="91.2" y="113.3" width="1.5" height="1.5" fill="#1d80c4"/>
<rect x="77.8" y="113.2" width="1.5" height="1.5" fill="#1d80c4"/>
<rect x="80.9" y="113.4" width="1.5" height="1.5" fill="#1d80c4"/>
<rect x="78.2" y="113.0" width="1.5" height="1.5" fill="#1d80c4"/>
<rect x="78.5" y="113.2" width="1.5" height="1.5" fill="#1d80c4"/>
<rect x="93.5" y="113.3" width="1.5" height="1.5" fill="#1d80c4"/>
<rect x="83.4" y="113.7" width="1.5" height="1.5" fill="#1d80c4"/>
<rect x="78.5" y="113.1" width="1.5" height="1.5" fill="#1d80c4"/>
<rect x="89.8" y="114.1" width="1.5" height="1.5" fill="#1d80c4"/>
<rect x="76.8" y="114.0" width="1.5" height="1.5" fill="#1d80c4"/>
<rect x="84.4" y="114.1" width="1.5" height="1.5" fill="#1d80c4"/>
<rect x="85.5" y="113.8" width="1.5" height="1.5" fill="#1d80c4"/>
<rect x="80.3" y="114.7" width="1.5" height="1.5" fill="#1d80c4"/>
<rect x="84.2" y="114.2" width="1.5" height="1.5" fill="#1d80c4"/>
<rect x="78.0" y="114.0" width="1.5" height="1.5" fill="#1d80c4"/>
<rect x="93.0" y="114.4" width="1.5" height="1.5" fill="#1d80c4"/>
<rect x="85.3" y="113.8" width="1.5" height="1.5" fill="#1d80c4"/>
<rect x="83.3" y="114.5" width="1.5" height="1.5" fill="#1d80c4"/>
<rect x="84.0" y="114.3" width="1.5" height="1.5" fill="#1d80c4"/>
<rect x="92.1" y="114.4" width="1.5" height="1.5" fill="#1d80c4"/>
<rect x="87.5" y="113.8" width="1.5" height="1.5" fill="#1d80c4"/>
<rect x="76.9" y="114.5" width="1.5" height="1.5" fill="#1d80c4"/>
<rect x="73.0" y="114.2" width="1.5" height="1.5" fill="#1d80c4"/>
<rect x="92.4" y="115.1" width="1.5" height="1.5" fill="#1d80c4"/>
<rect x="93.9" y="115.5" width="1.5" height="1.5" fill="#1d80c4"/>
<rect x="91.9" y="114.9" width="1.5" height="1.5" fill="#1d80c4"/>
<rect x="90.0" y="115.2" width="1.5" height="1.5" fill="#1d80c4"/>
<rect x="93.4" y="115.7" width="1.5" height="1.5" fill="#1d80c4"/>
<rect x="79.9" y="115.2" width="1.5" height="1.5" fill="#1d80c4"/>
<rect x="80.9" y="115.2" width="1.5" height="1.5" fill="#1d80c4"/>
<rect x="81.2" y="115.4" width="1.5" height="1.5" fill="#1d80c4"/>
<rect x="78.3" y="114.9" width="1.5" height="1.5" fill="#1d80c4"/>
<rect x="84.2" y="114.8" width="1.5" height="1.5" fill="#1d80c4"/>
<rect x="82.9" y="115.6" width="1.5" height="1.5" fill="#1d80c4"/>
<rect x="91.8" y="114.9" width="1.5" height="1.5" fill="#1d80c4"/>
<rect x="76.4" y="115.6" width="1.5" height="1.5" fill="#1d80c4"/>
<rect x="93.2" y="115.3" width="1.5" height="1.5" fill="#1d80c4"/>
<rect x="78.5" y="115.0" width="1.5" height="1.5" fill="#1d80c4"/>
<rect x="76.2" y="115.9" width="1.5" height="1.5" fill="#1d80c4"/>
<rect x="83.5" y="116.0" width="1.5" height="1.5" fill="#1d80c4"/>
<rect x="89.4" y="116.1" width="1.5" height="1.5" fill="#1d80c4"/>
<rect x="89.8" y="115.9" width="1.5" height="1.5" fill="#1d80c4"/>
<rect x="85.1" y="116.7" width="1.5" height="1.5" fill="#1d80c4"/>
<rect x="88.5" y="115.8" width="1.5" height="1.5" fill="#1d80c4"/>
<rect x="77.7" y="116.4" width="1.5" height="1.5" fill="#1d80c4"/>
<rect x="82.5" y="116.1" width="1.5" height="1.5" fill="#1d80c4"/>
<rect x="84.4" y="116.3" width="1.5" height="1.5" fill="#1d80c4"/>
<rect x="93.3" y="116.0" width="1.5" height="1.5" fill="#1d80c4"/>
<rect x="86.0" y="116.0" width="1.5" height="1.5" fill="#1d80c4"/>
<rect x="85.6" y="116.5" width="1.5" height="1.5" fill="#1d80c4"/>
<rect x="78.1" y="116.2" width="1.5" height="1.5" fill="#1d80c4"/>
<rect x="88.5" y="115.8" width="1.5" height="1.5" fill="#1d80c4"/>
<rect x="89.7" y="116.2" width="1.5" height="1.5" fill="#1d80c4"/>
<rect x="84.9" y="116.4" width="1.5" height="1.5" fill="#1d80c4"/>
<rect x="84.6" y="116.8" width="1.5" height="1.5" fill="#1d80c4"/>
<rect x="82.5" y="117.1" width="1.5" height="1.5" fill="#1d80c4"/>
<rect x="75.7" y="117.0" width="1.5" height="1.5" fill="#1d80c4"/>
<rect x="83.7" y="117.4" width="1.5" height="1.5" fill="#1d80c4"/>
<rect x="92.6" y="117.1" width="1.5" height="1.5" fill="#1d80c4"/>
<rect x="85.2" y="117.5" width="1.5" height="1.5" fill="#1d80c4"/>
<rect x="92.8" y="117.7" width="1.5" height="1.5" fill="#1d80c4"/>
<rect x="93.7" y="117.1" width="1.5" height="1.5" fill="#1d80c4"/>
<rect x="78.4" y="117.7" width="1.5" height="1.5" fill="#1d80c4"/>
<rect x="76.7" y="117.2" width="1.5" height="1.5" fill="#1d80c4"/>
<rect x="89.0" y="117.3" width="1.5" height="1.5" fill="#1d80c4"/>
<rect x="82.5" y="117.7" width="1.5" height="1.5" fill="#1d80c4"/>
<rect x="80.8" y="117.3" width="1.5" height="1.5" fill="#1d80c4"/>
<rect x="90.8" y="116.9" width="1.5" height="1.5" fill="#1d80c4"/>
<rect x="81.8" y="117.2" width="1.5" height="1.5" fill="#1d80c4"/>
<rect x="74.4" y="117.2" width="1.5" height="1.5" fill="#1d80c4"/>
<rect x="75.7" y="117.8" width="1.5" height="1.5" fill="#1d80c4"/>
<rect x="81.2" y="117.9" width="1.5" height="1.5" fill="#1d80c4"/>
<rect x="93.4" y="118.0" width="1.5" height="1.5" fill="#1d80c4"/>
<rect x="79.9" y="118.5" width="1.5" height="1.5" fill="#1d80c4"/>
<rect x="89.0" y="118.0" width="1.5" height="1.5" fill="#1d80c4"/>
<rect x="90.7" y="118.4" width="1.5" height="1.5" fill="#1d80c4"/>
<rect x="82.1" y="118.4" width="1.5" height="1.5" fill="#1d80c4"/>
<rect x="79.3" y="118.0" width="1.5" height="1.5" fill="#1d80c4"/>
<rect x="91.6" y="118.2" width="1.5" height="1.5" fill="#1d80c4"/>
<rect x="92.0" y="117.9" width="1.5" height="1.5" fill="#1d80c4"/>
<rect x="77.2" y="117.8" width="1.5" height="1.5" fill="#1d80c4"/>
<rect x="88.9" y="118.3" width="1.5" height="1.5" fill="#1d80c4"/>
<rect x="74.7" y="117.8" width="1.5" height="1.5" fill="#1d80c4"/>
<rect x="90.6" y="118.2" width="1.5" height="1.5" fill="#1d80c4"/>
<rect x="91.5" y="117.8" width="1.5" height="1.5" fill="#1d80c4"/>
<rect x="86.0" y="117.9" width="1.5" height="1.5" fill="#1d80c4"/>
<rect x="88.6" y="118.4" width="1.5" height="1.5" fill="#1d80c4"/>
<rect x="93.0" y="118.9" width="1.5" height="1.5" fill="#1d80c4"/>
<rect x="75.0" y="119.4" width="1.5" height="1.5" fill="#1d80c4"/>
<rect x="75.6" y="118.8" width="1.5" height="1.5" fill="#1d80c4"/>
<rect x="83.1" y="119.4" width="1.5" height="1.5" fill="#1d80c4"/>
<rect x="91.9" y="119.5" width="1.5" height="1.5" fill="#1d80c4"/>
<rect x="75.2" y="119.4" width="1.5" height="1.5" fill="#1d80c4"/>
<rect x="90.9" y="118.9" width="1.5" height="1.5" fill="#1d80c4"/>
<rect x="89.1" y="119.0" width="1.5" height="1.5" fill="#1d80c4"/>
<rect x="79.8" y="118.8" width="1.5" height="1.5" fill="#1d80c4"/>
<rect x="89.1" y="119.3" width="1.5" height="1.5" fill="#1d80c4"/>
<rect x="92.1" y="119.2" width="1.5" height="1.5" fill="#1d80c4"/>
<rect x="76.9" y="119.0" width="1.5" height="1.5" fill="#1d80c4"/>
<rect x="79.1" y="119.7" width="1.5" height="1.5" fill="#1d80c4"/>
<rect x="77.9" y="118.8" width="1.5" height="1.5" fill="#1d80c4"/>
<rect x="80.9" y="118.8" width="1.5" height="1.5" fill="#1d80c4"/>
<rect x="82.4" y="119.4" width="1.5" height="1.5" fill="#1d80c4"/>
<rect x="87.0" y="118.9" width="1.5" height="1.5" fill="#1d80c4"/>
<rect x="71.8" y="119.2" width="1.5" height="1.5" fill="#1d80c4"/>
<rect x="82.4" y="120.3" width="1.5" height="1.5" fill="#1d80c4"/>
<rect x="92.2" y="119.9" width="1.5" height="1.5" fill="#1d80c4"/>
<rect x="78.6" y="120.2" width="1.5" height="1.5" fill="#1d80c4"/>
<rect x="84.3" y="120.7" width="1.5" height="1.5" fill="#1d80c4"/>
<rect x="84.7" y="120.4" width="1.5" height="1.5" fill="#1d80c4"/>
<rect x="81.9" y="120.5" width="1.5" height="1.5" fill="#1d80c4"/>
<rect x="90.6" y="120.0" width="1.5" height="1.5" fill="#1d80c4"/>
<rect x="75.3" y="120.0" width="1.5" height="1.5" fill="#1d80c4"/>
<rect x="80.5" y="120.6" width="1.5" height="1.5" fill="#1d80c4"/>
<rect x="78.6" y="120.4" width="1.5" height="1.5" fill="#1d80c4"/>
<rect x="86.5" y="120.7" width="1.5" height="1.5" fill="#1d80c4"/>
<rect x="75.5" y="120.5" width="1.5" height="1.5" fill="#1d80c4"/>
<rect x="80.1" y="119.9" width="1.5" height="1.5" fill="#1d80c4"/>
<rect x="86.3" y="120.6" width="1.5" height="1.5" fill="#1d80c4"/>
<rect x="85.3" y="119.8" width="1.5" height="1.5" fill="#1d80c4"/>
<rect x="93.5" y="120.1" width="1.5" height="1.5" fill="#1d80c4"/>
<rect x="86.4" y="120.5" width="1.5" height="1.5" fill="#1d80c4"/>
<rect x="78.5" y="120.2" width="1.5" height="1.5" fill="#1d80c4"/>
<rect x="72.6" y="120.2" width="1.5" height="1.5" fill="#1d80c4"/>
<rect x="87.9" y="121.2" width="1.5" height="1.5" fill="#1d80c4"/>
<rect x="91.3" y="120.8" width="1.5" height="1.5" fill="#1d80c4"/>
<rect x="78.8" y="120.9" width="1.5" height="1.5" fill="#1d80c4"/>
<rect x="92.9" y="121.5" width="1.5" height="1.5" fill="#1d80c4"/>
<rect x="91.9" y="121.3" width="1.5" height="1.5" fill="#1d80c4"/>
<rect x="74.5" y="121.2" width="1.5" height="1.5" fill="#1d80c4"/>
<rect x="77.2" y="120.8" width="1.5" height="1.5" fill="#1d80c4"/>
<rect x="84.6" y="121.0" width="1.5" height="1.5" fill="#1d80c4"/>
<rect x="74.6" y="121.3" width="1.5" height="1.5" fill="#1d80c4"/>
<rect x="92.7" y="121.7" width="1.5" height="1.5" fill="#1d80c4"/>
<rect x="82.5" y="120.9" width="1.5" height="1.5" fill="#1d80c4"/>
<rect x="89.1" y="120.9" width="1.5" height="1.5" fill="#1d80c4"/>
<rect x="84.0" y="120.8" width="1.5" height="1.5" fill="#1d80c4"/>
<rect x="93.9" y="121.3" width="1.5" height="1.5" fill="#1d80c4"/>
<rect x="81.8" y="121.0" width="1.5" height="1.5" fill="#1d80c4"/>
<rect x="84.3" y="121.7" width="1.5" height="1.5" fill="#1d80c4"/>
<rect x="81.6" y="121.0" width="1.5" height="1.5" fill="#1d80c4"/>
<rect x="83.5" y="121.7" width="1.5" height="1.5" fill="#1d80c4"/>
<rect x="69.7" y="121.2" width="1.5" height="1.5" fill="#1d80c4"/>
<rect x="78.1" y="122.6" width="1.5" height="1.5" fill="#1d80c4"/>
<rect x="82.9" y="121.9" width="1.5" height="1.5" fill="#1d80c4"/>
<rect x="71.6" y="122.7" width="1.5" height="1.5" fill="#1d80c4"/>
<rect x="81.4" y="122.2" width="1.5" height="1.5" fill="#1d80c4"/>
<rect x="92.2" y="122.3" width="1.5" height="1.5" fill="#1d80c4"/>
<rect x="82.3" y="122.0" width="1.5" height="1.5" fill="#1d80c4"/>
<rect x="88.1" y="122.0" width="1.5" height="1.5" fill="#1d80c4"/>
<rect x="81.6" y="122.5" width="1.5" height="1.5" fill="#1d80c4"/>
<rect x="84.8" y="121.9" width="1.5" height="1.5" fill="#1d80c4"/>
<rect x="75.2" y="122.4" width="1.5" height="1.5" fill="#1d80c4"/>
<rect x="87.7" y="121.9" width="1.5" height="1.5" fill="#1d80c4"/>
<rect x="94.1" y="121.9" width="1.5" height="1.5" fill="#1d80c4"/>
<rect x="74.3" y="121.8" width="1.5" height="1.5" fill="#1d80c4"/>
<rect x="81.0" y="122.4" width="1.5" height="1.5" fill="#1d80c4"/>
<rect x="90.8" y="121.9" width="1.5" height="1.5" fill="#1d80c4"/>
<rect x="87.0" y="121.9" width="1.5" height="1.5" fill="#1d80c4"/>
<rect x="84.2" y="122.0" width="1.5" height="1.5" fill="#1d80c4"/>
<rect x="78.8" y="121.8" width="1.5" height="1.5" fill="#1d80c4"/>
<rect x="87.5" y="121.9" width="1.5" height="1.5" fill="#1d80c4"/>
<rect x="88.6" y="122.1" width="1.5" height="1.5" fill="#1d80c4"/>
<rect x="84.4" y="122.4" width="1.5" height="1.5" fill="#1d80c4"/>
<rect x="66.8" y="122.2" width="1.5" height="1.5" fill="#1d80c4"/>
<rect x="75.7" y="123.1" width="1.5" height="1.5" fill="#1d80c4"/>
<rect x="91.0" y="122.9" width="1.5" height="1.5" fill="#1d80c4"/>
<rect x="79.2" y="123.2" width="1.5" height="1.5" fill="#1d80c4"/>
<rect x="93.6" y="122.9" width="1.5" height="1.5" fill="#1d80c4"/>
<rect x="85.3" y="123.5" width="1.5" height="1.5" fill="#1d80c4"/>
<rect x="87.2" y="122.8" width="1.5" height="1.5" fill="#1d80c4"/>
<rect x="92.8" y="123.1" width="1.5" height="1.5" fill="#1d80c4"/>
<rect x="90.4" y="123.4" width="1.5" height="1.5" fill="#1d80c4"/>
<rect x="79.3" y="123.6" width="1.5" height="1.5" fill="#1d80c4"/>
<rect x="85.9" y="123.1" width="1.5" height="1.5" fill="#1d80c4"/>
<rect x="87.3" y="123.3" width="1.5" height="1.5" fill="#1d80c4"/>
<rect x="86.8" y="123.4" width="1.5" height="1.5" fill="#1d80c4"/>
<rect x="89.0" y="122.9" width="1.5" height="1.5" fill="#1d80c4"/>
<rect x="81.2" y="122.8" width="1.5" height="1.5" fill="#1d80c4"/>
<rect x="88.8" y="123.5" width="1.5" height="1.5" fill="#1d80c4"/>
<rect x="90.0" y="122.8" width="1.5" height="1.5" fill="#1d80c4"/>
<rect x="82.2" y="123.2" width="1.5" height="1.5" fill="#1d80c4"/>
<rect x="71.5" y="123.0" width="1.5" height="1.5" fill="#1d80c4"/>
<rect x="93.6" y="123.6" width="1.5" height="1.5" fill="#1d80c4"/>
<rect x="74.6" y="123.6" width="1.5" height="1.5" fill="#1d80c4"/>
<rect x="85.2" y="123.1" width="1.5" height="1.5" fill="#1d80c4"/>
<rect x="85.1" y="123.0" width="1.5" height="1.5" fill="#1d80c4"/>
<rect x="68.4" y="123.2" width="1.5" height="1.5" fill="#1d80c4"/>
<rect x="110.0" y="28.2" width="1.5" height="1.5" fill="#f41d1d"/>
<rect x="115.2" y="27.8" width="1.5" height="1.5" fill="#f41d1d"/>
<rect x="109.5" y="32.8" width="1.5" height="1.5" fill="#f41d1d"/>
<rect x="108.2" y="36.2" width="1.5" height="1.5" fill="#f41d1d"/>
<rect x="111.8" y="36.2" width="1.5" height="1.5" fill="#f41d1d"/>
<rect x="121.8" y="36.2" width="1.5" height="1.5" fill="#f41d1d"/>
<rect x="109.2" y="39.2" width="1.5" height="1.5" fill="#f41d1d"/>
<rect x="110.2" y="42.2" width="1.5" height="1.5" fill="#f41d1d"/>
<rect x="118.2" y="40.8" width="1.5" height="1.5" fill="#f41d1d"/>
<rect x="111.2" y="43.2" width="1.5" height="1.5" fill="#f41d1d"/>
<rect x="106.2" y="46.8" width="1.5" height="1.5" fill="#f41d1d"/>
<rect x="117.8" y="46.2" width="1.5" height="1.5" fill="#f41d1d"/>
<rect x="108.2" y="50.2" width="1.5" height="1.5" fill="#f41d1d"/>
<rect x="115.2" y="52.0" width="1.5" height="1.5" fill="#f41d1d"/>
<rect x="108.2" y="54.2" width="1.5" height="1.5" fill="#f41d1d"/>
<rect x="109.8" y="55.8" width="1.5" height="1.5" fill="#f41d1d"/>
<rect x="144.2" y="117.8" width="1.5" height="1.5" fill="#f41d1d"/>
<rect x="131.2" y="116.2" width="1.5" height="1.5" fill="#f41d1d"/>
<rect x="121.2" y="102.2" width="1.5" height="1.5" fill="#f41d1d"/>
<rect x="117.2" y="105.2" width="1.5" height="1.5" fill="#f41d1d"/>
<rect x="127.2" y="120.2" width="1.5" height="1.5" fill="#f41d1d"/>
<rect x="125.2" y="111.2" width="1.5" height="1.5" fill="#f41d1d"/>
<rect x="123.2" y="107.2" width="1.5" height="1.5" fill="#f41d1d"/>
<rect x="106.3" y="50.2" width="1.5" height="1.5" fill="#f41d1d"/>
<rect x="105.2" y="51.3" width="1.5" height="1.5" fill="#f41d1d"/>
<rect x="103.3" y="53.8" width="1.5" height="1.5" fill="#f41d1d"/>
<rect x="114.9" y="54.2" width="1.5" height="1.5" fill="#f41d1d"/>
<rect x="106.4" y="56.8" width="1.5" height="1.5" fill="#f41d1d"/>
<rect x="107.2" y="58.6" width="1.5" height="1.5" fill="#f41d1d"/>
<rect x="109.2" y="59.4" width="1.5" height="1.5" fill="#f41d1d"/>
<rect x="115.8" y="59.2" width="1.5" height="1.5" fill="#f41d1d"/>
<rect x="103.6" y="59.8" width="1.5" height="1.5" fill="#f41d1d"/>
<rect x="104.8" y="59.9" width="1.5" height="1.5" fill="#f41d1d"/>
<rect x="108.2" y="63.1" width="1.5" height="1.5" fill="#f41d1d"/>
<rect x="116.3" y="63.2" width="1.5" height="1.5" fill="#f41d1d"/>
<rect x="107.8" y="64.0" width="1.5" height="1.5" fill="#f41d1d"/>
<rect x="105.3" y="64.2" width="1.5" height="1.5" fill="#f41d1d"/>
<rect x="105.8" y="65.5" width="1.5" height="1.5" fill="#f41d1d"/>
<rect x="107.8" y="66.5" width="1.5" height="1.5" fill="#f41d1d"/>
<rect x="109.4" y="66.7" width="1.5" height="1.5" fill="#f41d1d"/>
<rect x="107.6" y="67.4" width="1.5" height="1.5" fill="#f41d1d"/>
<rect x="105.6" y="67.9" width="1.5" height="1.5" fill="#f41d1d"/>
<rect x="104.6" y="68.0" width="1.5" height="1.5" fill="#f41d1d"/>
<rect x="103.4" y="69.3" width="1.5" height="1.5" fill="#f41d1d"/>
<rect x="109.2" y="69.1" width="1.5" height="1.5" fill="#f41d1d"/>
<rect x="114.3" y="69.2" width="1.5" height="1.5" fill="#f41d1d"/>
<rect x="102.9" y="70.0" width="1.5" height="1.5" fill="#f41d1d"/>
<rect x="101.7" y="69.9" width="1.5" height="1.5" fill="#f41d1d"/>
<rect x="101.7" y="71.3" width="1.5" height="1.5" fill="#f41d1d"/>
<rect x="110.3" y="71.6" width="1.5" height="1.5" fill="#f41d1d"/>
<rect x="102.3" y="71.9" width="1.5" height="1.5" fill="#f41d1d"/>
<rect x="101.7" y="71.8" width="1.5" height="1.5" fill="#f41d1d"/>
<rect x="107.1" y="72.5" width="1.5" height="1.5" fill="#f41d1d"/>
<rect x="105.7" y="73.7" width="1.5" height="1.5" fill="#f41d1d"/>
<rect x="107.1" y="73.3" width="1.5" height="1.5" fill="#f41d1d"/>
<rect x="103.2" y="73.2" width="1.5" height="1.5" fill="#f41d1d"/>
<rect x="103.7" y="74.0" width="1.5" height="1.5" fill="#f41d1d"/>
<rect x="109.1" y="73.8" width="1.5" height="1.5" fill="#f41d1d"/>
<rect x="106.5" y="74.0" width="1.5" height="1.5" fill="#f41d1d"/>
<rect x="102.4" y="75.5" width="1.5" height="1.5" fill="#f41d1d"/>
<rect x="105.3" y="75.1" width="1.5" height="1.5" fill="#f41d1d"/>
<rect x="109.5" y="75.5" width="1.5" height="1.5" fill="#f41d1d"/>
<rect x="114.9" y="75.2" width="1.5" height="1.5" fill="#f41d1d"/>
<rect x="106.4" y="75.8" width="1.5" height="1.5" fill="#f41d1d"/>
<rect x="107.5" y="76.7" width="1.5" height="1.5" fill="#f41d1d"/>
<rect x="107.5" y="75.8" width="1.5" height="1.5" fill="#f41d1d"/>
<rect x="105.7" y="76.9" width="1.5" height="1.5" fill="#f41d1d"/>
<rect x="104.2" y="77.2" width="1.5" height="1.5" fill="#f41d1d"/>
<rect x="102.2" y="77.4" width="1.5" height="1.5" fill="#f41d1d"/>
<rect x="112.7" y="77.2" width="1.5" height="1.5" fill="#f41d1d"/>
<rect x="104.4" y="78.7" width="1.5" height="1.5" fill="#f41d1d"/>
<rect x="104.3" y="77.8" width="1.5" height="1.5" fill="#f41d1d"/>
<rect x="104.8" y="78.7" width="1.5" height="1.5" fill="#f41d1d"/>
<rect x="113.1" y="78.2" width="1.5" height="1.5" fill="#f41d1d"/>
<rect x="108.0" y="79.2" width="1.5" height="1.5" fill="#f41d1d"/>
<rect x="102.4" y="79.6" width="1.5" height="1.5" fill="#f41d1d"/>
<rect x="104.6" y="79.4" width="1.5" height="1.5" fill="#f41d1d"/>
<rect x="102.1" y="80.0" width="1.5" height="1.5" fill="#f41d1d"/>
<rect x="104.2" y="80.0" width="1.5" height="1.5" fill="#f41d1d"/>
<rect x="109.4" y="80.3" width="1.5" height="1.5" fill="#f41d1d"/>
<rect x="104.8" y="80.3" width="1.5" height="1.5" fill="#f41d1d"/>
<rect x="109.7" y="80.3" width="1.5" height="1.5" fill="#f41d1d"/>
<rect x="107.5" y="81.2" width="1.5" height="1.5" fill="#f41d1d"/>
<rect x="105.6" y="80.9" width="1.5" height="1.5" fill="#f41d1d"/>
<rect x="105.8" y="81.6" width="1.5" height="1.5" fill="#f41d1d"/>
<rect x="104.5" y="81.1" width="1.5" height="1.5" fill="#f41d1d"/>
<rect x="107.4" y="81.3" width="1.5" height="1.5" fill="#f41d1d"/>
<rect x="113.9" y="81.2" width="1.5" height="1.5" fill="#f41d1d"/>
<rect x="101.9" y="81.9" width="1.5" height="1.5" fill="#f41d1d"/>
<rect x="108.9" y="82.7" width="1.5" height="1.5" fill="#f41d1d"/>
<rect x="102.1" y="81.8" width="1.5" height="1.5" fill="#f41d1d"/>
<rect x="107.6" y="82.0" width="1.5" height="1.5" fill="#f41d1d"/>
<rect x="107.9" y="81.8" width="1.5" height="1.5" fill="#f41d1d"/>
<rect x="112.3" y="82.2" width="1.5" height="1.5" fill="#f41d1d"/>
<rect x="108.3" y="83.3" width="1.5" height="1.5" fill="#f41d1d"/>
<rect x="109.9" y="83.6" width="1.5" height="1.5" fill="#f41d1d"/>
<rect x="107.6" y="83.6" width="1.5" height="1.5" fill="#f41d1d"/>
<rect x="103.2" y="83.2" width="1.5" height="1.5" fill="#f41d1d"/>
<rect x="104.6" y="83.4" width="1.5" height="1.5" fill="#f41d1d"/>
<rect x="116.7" y="83.2" width="1.5" height="1.5" fill="#f41d1d"/>
<rect x="109.3" y="84.7" width="1.5" height="1.5" fill="#f41d1d"/>
<rect x="110.8" y="84.1" width="1.5" height="1.5" fill="#f41d1d"/>
<rect x="110.0" y="84.7" width="1.5" height="1.5" fill="#f41d1d"/>
<rect x="102.7" y="84.5" width="1.5" height="1.5" fill="#f41d1d"/>
<rect x="108.7" y="84.2" width="1.5" height="1.5" fill="#f41d1d"/>
<rect x="112.5" y="84.2" width="1.5" height="1.5" fill="#f41d1d"/>
<rect x="110.8" y="85.2" width="1.5" height="1.5" fill="#f41d1d"/>
<rect x="104.0" y="85.4" width="1.5" height="1.5" fill="#f41d1d"/>
<rect x="105.8" y="85.4" width="1.5" height="1.5" fill="#f41d1d"/>
<rect x="106.0" y="85.0" width="1.5" height="1.5" fill="#f41d1d"/>
<rect x="101.8" y="85.6" width="1.5" height="1.5" fill="#f41d1d"/>
<rect x="106.5" y="86.3" width="1.5" height="1.5" fill="#f41d1d"/>
<rect x="106.5" y="86.7" width="1.5" height="1.5" fill="#f41d1d"/>
<rect x="109.3" y="86.1" width="1.5" height="1.5" fill="#f41d1d"/>
<rect x="104.8" y="86.4" width="1.5" height="1.5" fill="#f41d1d"/>
<rect x="103.0" y="86.7" width="1.5" height="1.5" fill="#f41d1d"/>
<rect x="101.9" y="86.2" width="1.5" height="1.5" fill="#f41d1d"/>
<rect x="114.7" y="86.2" width="1.5" height="1.5" fill="#f41d1d"/>
<rect x="103.7" y="87.7" width="1.5" height="1.5" fill="#f41d1d"/>
<rect x="109.4" y="87.0" width="1.5" height="1.5" fill="#f41d1d"/>
<rect x="106.1" y="86.8" width="1.5" height="1.5" fill="#f41d1d"/>
<rect x="102.6" y="86.9" width="1.5" height="1.5" fill="#f41d1d"/>
<rect x="111.5" y="87.1" width="1.5" height="1.5" fill="#f41d1d"/>
<rect x="103.9" y="86.8" width="1.5" height="1.5" fill="#f41d1d"/>
<rect x="117.6" y="87.2" width="1.5" height="1.5" fill="#f41d1d"/>
<rect x="110.9" y="88.6" width="1.5" height="1.5" fill="#f41d1d"/>
<rect x="109.4" y="88.0" width="1.5" height="1.5" fill="#f41d1d"/>
<rect x="103.1" y="88.0" width="1.5" height="1.5" fill="#f41d1d"/>
<rect x="102.0" y="87.9" width="1.5" height="1.5" fill="#f41d1d"/>
<rect x="108.8" y="88.2" width="1.5" height="1.5" fill="#f41d1d"/>
<rect x="101.5" y="88.1" width="1.5" height="1.5" fill="#f41d1d"/>
<rect x="110.1" y="88.6" width="1.5" height="1.5" fill="#f41d1d"/>
<rect x="110.8" y="89.3" width="1.5" height="1.5" fill="#f41d1d"/>
<rect x="105.3" y="89.3" width="1.5" height="1.5" fill="#f41d1d"/>
<rect x="104.3" y="88.8" width="1.5" height="1.5" fill="#f41d1d"/>
<rect x="104.1" y="89.2" width="1.5" height="1.5" fill="#f41d1d"/>
<rect x="102.6" y="88.8" width="1.5" height="1.5" fill="#f41d1d"/>
<rect x="103.9" y="89.1" width="1.5" height="1.5" fill="#f41d1d"/>
<rect x="111.3" y="89.2" width="1.5" height="1.5" fill="#f41d1d"/>
<rect x="107.6" y="90.1" width="1.5" height="1.5" fill="#f41d1d"/>
<rect x="105.5" y="90.1" width="1.5" height="1.5" fill="#f41d1d"/>
<rect x="108.0" y="90.6" width="1.5" height="1.5" fill="#f41d1d"/>
<rect x="109.7" y="90.0" width="1.5" height="1.5" fill="#f41d1d"/>
<rect x="102.9" y="89.8" width="1.5" height="1.5" fill="#f41d1d"/>
<rect x="107.5" y="90.0" width="1.5" height="1.5" fill="#f41d1d"/>
<rect x="101.4" y="90.1" width="1.5" height="1.5" fill="#f41d1d"/>
<rect x="103.8" y="90.0" width="1.5" height="1.5" fill="#f41d1d"/>
<rect x="104.4" y="91.5" width="1.5" height="1.5" fill="#f41d1d"/>
<rect x="103.5" y="91.7" width="1.5" height="1.5" fill="#f41d1d"/>
<rect x="102.6" y="91.3" width="1.5" height="1.5" fill="#f41d1d"/>
<rect x="108.9" y="91.5" width="1.5" height="1.5" fill="#f41d1d"/>
<rect x="106.6" y="91.6" width="1.5" height="1.5" fill="#f41d1d"/>
<rect x="108.1" y="91.4" width="1.5" height="1.5" fill="#f41d1d"/>
<rect x="102.2" y="90.9" width="1.5" height="1.5" fill="#f41d1d"/>
<rect x="106.3" y="91.3" width="1.5" height="1.5" fill="#f41d1d"/>
<rect x="116.5" y="91.2" width="1.5" height="1.5" fill="#f41d1d"/>
<rect x="106.5" y="92.3" width="1.5" height="1.5" fill="#f41d1d"/>
<rect x="110.5" y="92.1" width="1.5" height="1.5" fill="#f41d1d"/>
<rect x="107.4" y="92.4" width="1.5" height="1.5" fill="#f41d1d"/>
<rect x="108.5" y="92.1" width="1.5" height="1.5" fill="#f41d1d"/>
<rect x="104.4" y="92.2" width="1.5" height="1.5" fill="#f41d1d"/>
<rect x="107.9" y="92.4" width="1.5" height="1.5" fill="#f41d1d"/>
<rect x="102.8" y="92.2" width="1.5" height="1.5" fill="#f41d1d"/>
<rect x="107.4" y="91.9" width="1.5" height="1.5" fill="#f41d1d"/>
<rect x="117.8" y="92.2" width="1.5" height="1.5" fill="#f41d1d"/>
<rect x="106.8" y="93.0" width="1.5" height="1.5" fill="#f41d1d"/>
<rect x="101.6" y="93.0" width="1.5" height="1.5" fill="#f41d1d"/>
<rect x="103.1" y="93.2" width="1.5" height="1.5" fill="#f41d1d"/>
<rect x="111.4" y="92.8" width="1.5" height="1.5" fill="#f41d1d"/>
<rect x="105.2" y="93.4" width="1.5" height="1.5" fill="#f41d1d"/>
<rect x="108.2" y="92.8" width="1.5" height="1.5" fill="#f41d1d"/>
<rect x="103.8" y="93.0" width="1.5" height="1.5" fill="#f41d1d"/>
<rect x="111.2" y="93.2" width="1.5" height="1.5" fill="#f41d1d"/>
<rect x="115.3" y="93.2" width="1.5" height="1.5" fill="#f41d1d"/>
<rect x="103.0" y="94.4" width="1.5" height="1.5" fill="#f41d1d"/>
<rect x="109.4" y="94.2" width="1.5" height="1.5" fill="#f41d1d"/>
<rect x="107.4" y="94.5" width="1.5" height="1.5" fill="#f41d1d"/>
<rect x="112.1" y="94.4" width="1.5" height="1.5" fill="#f41d1d"/>
<rect x="101.8" y="94.3" width="1.5" height="1.5" fill="#f41d1d"/>
<rect x="108.8" y="94.1" width="1.5" height="1.5" fill="#f41d1d"/>
<rect x="109.0" y="94.1" width="1.5" height="1.5" fill="#f41d1d"/>
<rect x="108.2" y="94.4" width="1.5" height="1.5" fill="#f41d1d"/>
<rect x="108.9" y="94.7" width="1.5" height="1.5" fill="#f41d1d"/>
<rect x="116.8" y="94.2" width="1.5" height="1.5" fill="#f41d1d"/>
<rect x="103.9" y="95.4" width="1.5" height="1.5" fill="#f41d1d"/>
<rect x="108.4" y="94.8" width="1.5" height="1.5" fill="#f41d1d"/>
<rect x="109.9" y="95.0" width="1.5" height="1.5" fill="#f41d1d"/>
<rect x="106.9" y="95.3" width="1.5" height="1.5" fill="#f41d1d"/>
<rect x="109.6" y="95.5" width="1.5" height="1.5" fill="#f41d1d"/>
<rect x="106.6" y="95.7" width="1.5" height="1.5" fill="#f41d1d"/>
<rect x="106.4" y="95.3" width="1.5" height="1.5" fill="#f41d1d"/>
<rect x="112.7" y="95.1" width="1.5" height="1.5" fill="#f41d1d"/>
<rect x="109.5" y="95.7" width="1.5" height="1.5" fill="#f41d1d"/>
<rect x="102.2" y="95.5" width="1.5" height="1.5" fill="#f41d1d"/>
<rect x="116.0" y="95.2" width="1.5" height="1.5" fill="#f41d1d"/>
<rect x="111.3" y="95.9" width="1.5" height="1.5" fill="#f41d1d"/>
<rect x="106.9" y="96.4" width="1.5" height="1.5" fill="#f41d1d"/>
<rect x="109.4" y="96.7" width="1.5" height="1.5" fill="#f41d1d"/>
<rect x="110.6" y="96.6" width="1.5" height="1.5" fill="#f41d1d"/>
<rect x="102.0" y="96.2" width="1.5" height="1.5" fill="#f41d1d"/>
<rect x="111.9" y="96.7" width="1.5" height="1.5" fill="#f41d1d"/>
<rect x="110.1" y="96.1" width="1.5" height="1.5" fill="#f41d1d"/>
<rect x="110.2" y="96.3" width="1.5" height="1.5" fill="#f41d1d"/>
<rect x="109.0" y="96.4" width="1.5" height="1.5" fill="#f41d1d"/>
<rect x="111.3" y="96.5" width="1.5" height="1.5" fill="#f41d1d"/>
<rect x="112.6" y="96.2" width="1.5" height="1.5" fill="#f41d1d"/>
<rect x="116.9" y="96.2" width="1.5" height="1.5" fill="#f41d1d"/>
<rect x="101.8" y="97.7" width="1.5" height="1.5" fill="#f41d1d"/>
<rect x="105.0" y="97.2" width="1.5" height="1.5" fill="#f41d1d"/>
<rect x="101.7" y="96.9" width="1.5" height="1.5" fill="#f41d1d"/>
<rect x="112.2" y="97.0" width="1.5" height="1.5" fill="#f41d1d"/>
<rect x="104.8" y="97.6" width="1.5" height="1.5" fill="#f41d1d"/>
<rect x="104.1" y="97.4" width="1.5" height="1.5" fill="#f41d1d"/>
<rect x="108.0" y="97.6" width="1.5" height="1.5" fill="#f41d1d"/>
<rect x="106.9" y="97.1" width="1.5" height="1.5" fill="#f41d1d"/>
<rect x="104.3" y="97.1" width="1.5" height="1.5" fill="#f41d1d"/>
<rect x="101.2" y="96.9" width="1.5" height="1.5" fill="#f41d1d"/>
<rect x="115.0" y="97.2" width="1.5" height="1.5" fill="#f41d1d"/>
<rect x="112.6" y="98.1" width="1.5" height="1.5" fill="#f41d1d"/>
<rect x="104.2" y="98.0" width="1.5" height="1.5" fill="#f41d1d"/>
<rect x="108.8" y="98.2" width="1.5" height="1.5" fill="#f41d1d"/>
<rect x="102.6" y="98.3" width="1.5" height="1.5" fill="#f41d1d"/>
<rect x="104.5" y="97.9" width="1.5" height="1.5" fill="#f41d1d"/>
<rect x="110.7" y="97.9" width="1.5" height="1.5" fill="#f41d1d"/>
<rect x="106.5" y="98.5" width="1.5" height="1.5" fill="#f41d1d"/>
<rect x="107.8" y="98.6" width="1.5" height="1.5" fill="#f41d1d"/>
<rect x="105.0" y="98.7" width="1.5" height="1.5" fill="#f41d1d"/>
<rect x="101.7" y="98.6" width="1.5" height="1.5" fill="#f41d1d"/>
<rect x="106.3" y="97.8" width="1.5" height="1.5" fill="#f41d1d"/>
<rect x="119.2" y="98.2" width="1.5" height="1.5" fill="#f41d1d"/>
<rect x="110.2" y="99.6" width="1.5" height="1.5" fill="#f41d1d"/>
<rect x="101.3" y="99.1" width="1.5" height="1.5" fill="#f41d1d"/>
<rect x="106.9" y="99.7" width="1.5" height="1.5" fill="#f41d1d"/>
<rect x="112.3" y="98.9" width="1.5" height="1.5" fill="#f41d1d"/>
<rect x="113.3" y="99.3" width="1.5" height="1.5" fill="#f41d1d"/>
<rect x="104.9" y="98.8" width="1.5" height="1.5" fill="#f41d1d"/>
<rect x="106.4" y="99.3" width="1.5" height="1.5" fill="#f41d1d"/>
<rect x="106.7" y="99.1" width="1.5" height="1.5" fill="#f41d1d"/>
<rect x="112.8" y="99.2" width="1.5" height="1.5" fill="#f41d1d"/>
<rect x="105.0" y="99.5" width="1.5" height="1.5" fill="#f41d1d"/>
<rect x="104.2" y="99.2" width="1.5" height="1.5" fill="#f41d1d"/>
<rect x="114.8" y="99.2" width="1.5" height="1.5" fill="#f41d1d"/>
<rect x="108.9" y="100.3" width="1.5" height="1.5" fill="#f41d1d"/>
<rect x="109.5" y="100.4" width="1.5" height="1.5" fill="#f41d1d"/>
<rect x="107.7" y="100.1" width="1.5" height="1.5" fill="#f41d1d"/>
<rect x="103.0" y="99.8" width="1.5" height="1.5" fill="#f41d1d"/>
<rect x="102.7" y="100.2" width="1.5" height="1.5" fill="#f41d1d"/>
<rect x="101.3" y="100.4" width="1.5" height="1.5" fill="#f41d1d"/>
<rect x="105.4" y="100.0" width="1.5" height="1.5" fill="#f41d1d"/>
<rect x="105.1" y="100.2" width="1.5" height="1.5" fill="#f41d1d"/>
<rect x="103.8" y="100.6" width="1.5" height="1.5" fill="#f41d1d"/>
<rect x="107.2" y="99.8" width="1.5" height="1.5" fill="#f41d1d"/>
<rect x="102.3" y="100.6" width="1.5" height="1.5" fill="#f41d1d"/>
<rect x="108.4" y="100.0" width="1.5" height="1.5" fill="#f41d1d"/>
<rect x="113.9" y="100.2" width="1.5" height="1.5" fill="#f41d1d"/>
<rect x="113.0" y="101.4" width="1.5" height="1.5" fill="#f41d1d"/>
<rect x="101.8" y="101.2" width="1.5" height="1.5" fill="#f41d1d"/>
<rect x="111.7" y="101.3" width="1.5" height="1.5" fill="#f41d1d"/>
<rect x="103.8" y="101.0" width="1.5" height="1.5" fill="#f41d1d"/>
<rect x="102.0" y="101.3" width="1.5" height="1.5" fill="#f41d1d"/>
<rect x="103.5" y="101.2" width="1.5" height="1.5" fill="#f41d1d"/>
<rect x="112.4" y="101.7" width="1.5" height="1.5" fill="#f41d1d"/>
<rect x="107.4" y="101.5" width="1.5" height="1.5" fill="#f41d1d"/>
<rect x="102.9" y="101.7" width="1.5" height="1.5" fill="#f41d1d"/>
<rect x="112.1" y="101.2" width="1.5" height="1.5" fill="#f41d1d"/>
<rect x="112.3" y="101.0" width="1.5" height="1.5" fill="#f41d1d"/>
<rect x="113.5" y="101.1" width="1.5" height="1.5" fill="#f41d1d"/>
<rect x="113.1" y="102.5" width="1.5" height="1.5" fill="#f41d1d"/>
<rect x="102.1" y="102.0" width="1.5" height="1.5" fill="#f41d1d"/>
<rect x="109.5" y="102.7" width="1.5" height="1.5" fill="#f41d1d"/>
<rect x="109.8" y="101.8" width="1.5" height="1.5" fill="#f41d1d"/>
<rect x="105.6" y="102.1" width="1.5" height="1.5" fill="#f41d1d"/>
<rect x="103.3" y="102.0" width="1.5" height="1.5" fill="#f41d1d"/>
<rect x="107.7" y="102.1" width="1.5" height="1.5" fill="#f41d1d"/>
<rect x="104.6" y="102.2" width="1.5" height="1.5" fill="#f41d1d"/>
<rect x="113.2" y="102.3" width="1.5" height="1.5" fill="#f41d1d"/>
<rect x="110.8" y="102.7" width="1.5" height="1.5" fill="#f41d1d"/>
<rect x="101.6" y="102.6" width="1.5" height="1.5" fill="#f41d1d"/>
<rect x="102.4" y="101.9" width="1.5" height="1.5" fill="#f41d1d"/>
<rect x="118.4" y="102.2" width="1.5" height="1.5" fill="#f41d1d"/>
<rect x="107.3" y="103.5" width="1.5" height="1.5" fill="#f41d1d"/>
<rect x="106.7" y="102.9" width="1.5" height="1.5" fill="#f41d1d"/>
<rect x="104.0" y="102.9" width="1.5" height="1.5" fill="#f41d1d"/>
<rect x="101.6" y="103.7" width="1.5" height="1.5" fill="#f41d1d"/>
<rect x="113.4" y="103.1" width="1.5" height="1.5" fill="#f41d1d"/>
<rect x="106.5" y="103.0" width="1.5" height="1.5" fill="#f41d1d"/>
<rect x="111.3" y="103.2" width="1.5" height="1.5" fill="#f41d1d"/>
<rect x="103.4" y="103.6" width="1.5" height="1.5" fill="#f41d1d"/>
<rect x="113.2" y="102.8" width="1.5" height="1.5" fill="#f41d1d"/>
<rect x="107.1" y="103.0" width="1.5" height="1.5" fill="#f41d1d"/>
<rect x="109.4" y="103.1" width="1.5" height="1.5" fill="#f41d1d"/>
<rect x="115.9" y="103.2" width="1.5" height="1.5" fill="#f41d1d"/>
<rect x="107.7" y="104.2" width="1.5" height="1.5" fill="#f41d1d"/>
<rect x="110.1" y="104.2" width="1.5" height="1.5" fill="#f41d1d"/>
<rect x="113.6" y="104.2" width="1.5" height="1.5" fill="#f41d1d"/>
<rect x="111.5" y="104.7" width="1.5" height="1.5" fill="#f41d1d"/>
<rect x="109.3" y="104.3" width="1.5" height="1.5" fill="#f41d1d"/>
<rect x="111.5" y="104.5" width="1.5" height="1.5" fill="#f41d1d"/>
<rect x="103.7" y="104.2" width="1.5" height="1.5" fill="#f41d1d"/>
<rect x="103.2" y="103.8" width="1.5" height="1.5" fill="#f41d1d"/>
<rect x="110.1" y="104.1" width="1.5" height="1.5" fill="#f41d1d"/>
<rect x="104.5" y="103.8" width="1.5" height="1.5" fill="#f41d1d"/>
<rect x="101.4" y="104.4" width="1.5" height="1.5" fill="#f41d1d"/>
<rect x="105.8" y="104.2" width="1.5" height="1.5" fill="#f41d1d"/>
<rect x="119.7" y="104.2" width="1.5" height="1.5" fill="#f41d1d"/>
<rect x="104.1" y="105.7" width="1.5" height="1.5" fill="#f41d1d"/>
<rect x="103.6" y="105.3" width="1.5" height="1.5" fill="#f41d1d"/>
<rect x="109.8" y="105.0" width="1.5" height="1.5" fill="#f41d1d"/>
<rect x="113.1" y="105.4" width="1.5" height="1.5" fill="#f41d1d"/>
<rect x="110.7" y="104.9" width="1.5" height="1.5" fill="#f41d1d"/>
<rect x="112.3" y="105.0" width="1.5" height="1.5" fill="#f41d1d"/>
<rect x="109.4" y="105.5" width="1.5" height="1.5" fill="#f41d1d"/>
<rect x="105.4" y="105.0" width="1.5" height="1.5" fill="#f41d1d"/>
<rect x="105.6" y="105.7" width="1.5" height="1.5" fill="#f41d1d"/>
<rect x="110.0" y="105.2" width="1.5" height="1.5" fill="#f41d1d"/>
<rect x="108.7" y="105.4" width="1.5" height="1.5" fill="#f41d1d"/>
<rect x="104.6" y="104.8" width="1.5" height="1.5" fill="#f41d1d"/>
<rect x="118.0" y="105.2" width="1.5" height="1.5" fill="#f41d1d"/>
<rect x="114.5" y="106.4" width="1.5" height="1.5" fill="#f41d1d"/>
<rect x="112.8" y="106.7" width="1.5" height="1.5" fill="#f41d1d"/>
<rect x="107.9" y="106.2" width="1.5" height="1.5" fill="#f41d1d"/>
<rect x="107.6" y="106.1" width="1.5" height="1.5" fill="#f41d1d"/>
<rect x="111.6" y="106.3" width="1.5" height="1.5" fill="#f41d1d"/>
<rect x="102.8" y="106.7" width="1.5" height="1.5" fill="#f41d1d"/>
<rect x="108.3" y="106.5" width="1.5" height="1.5" fill="#f41d1d"/>
<rect x="108.6" y="106.3" width="1.5" height="1.5" fill="#f41d1d"/>
<rect x="109.0" y="105.9" width="1.5" height="1.5" fill="#f41d1d"/>
<rect x="102.9" y="106.5" width="1.5" height="1.5" fill="#f41d1d"/>
<rect x="105.9" y="105.9" width="1.5" height="1.5" fill="#f41d1d"/>
<rect x="112.3" y="106.5" width="1.5" height="1.5" fill="#f41d1d"/>
<rect x="102.9" y="107.5" width="1.5" height="1.5" fill="#f41d1d"/>
<rect x="104.1" y="107.4" width="1.5" height="1.5" fill="#f41d1d"/>
<rect x="110.9" y="107.0" width="1.5" height="1.5" fill="#f41d1d"/>
<rect x="101.1" y="107.3" width="1.5" height="1.5" fill="#f41d1d"/>
<rect x="112.2" y="107.3" width="1.5" height="1.5" fill="#f41d1d"/>
<rect x="114.9" y="107.0" width="1.5" height="1.5" fill="#f41d1d"/>
<rect x="111.4" y="107.2" width="1.5" height="1.5" fill="#f41d1d"/>
<rect x="109.3" y="107.1" width="1.5" height="1.5" fill="#f41d1d"/>
<rect x="104.3" y="107.3" width="1.5" height="1.5" fill="#f41d1d"/>
<rect x="109.6" y="107.7" width="1.5" height="1.5" fill="#f41d1d"/>
<rect x="109.6" y="107.2" width="1.5" height="1.5" fill="#f41d1d"/>
<rect x="110.2" y="107.4" width="1.5" height="1.5" fill="#f41d1d"/>
<rect x="116.7" y="107.2" width="1.5" height="1.5" fill="#f41d1d"/>
<rect x="106.6" y="107.8" width="1.5" height="1.5" fill="#f41d1d"/>
<rect x="103.5" y="108.1" width="1.5" height="1.5" fill="#f41d1d"/>
<rect x="110.9" y="108.4" width="1.5" height="1.5" fill="#f41d1d"/>
<rect x="108.1" y="108.6" width="1.5" height="1.5" fill="#f41d1d"/>
<rect x="105.8" y="108.1" width="1.5" height="1.5" fill="#f41d1d"/>
<rect x="111.9" y="108.4" width="1.5" height="1.5" fill="#f41d1d"/>
<rect x="107.2" y="108.6" width="1.5" height="1.5" fill="#f41d1d"/>
<rect x="101.5" y="108.3" width="1.5" height="1.5" fill="#f41d1d"/>
<rect x="113.4" y="108.6" width="1.5" height="1.5" fill="#f41d1d"/>
<rect x="103.9" y="108.6" width="1.5" height="1.5" fill="#f41d1d"/>
<rect x="108.7" y="108.7" width="1.5" height="1.5" fill="#f41d1d"/>
<rect x="105.8" y="108.4" width="1.5" height="1.5" fill="#f41d1d"/>
<rect x="110.3" y="108.7" width="1.5" height="1.5" fill="#f41d1d"/>
<rect x="117.8" y="108.2" width="1.5" height="1.5" fill="#f41d1d"/>
<rect x="111.1" y="108.8" width="1.5" height="1.5" fill="#f41d1d"/>
<rect x="113.5" y="108.9" width="1.5" height="1.5" fill="#f41d1d"/>
<rect x="103.9" y="109.7" width="1.5" height="1.5" fill="#f41d1d"/>
<rect x="108.4" y="109.5" width="1.5" height="1.5" fill="#f41d1d"/>
<rect x="106.1" y="109.0" width="1.5" height="1.5" fill="#f41d1d"/>
<rect x="106.5" y="109.7" width="1.5" height="1.5" fill="#f41d1d"/>
<rect x="103.9" y="109.7" width="1.5" height="1.5" fill="#f41d1d"/>
<rect x="114.0" y="109.4" width="1.5" height="1.5" fill="#f41d1d"/>
<rect x="105.0" y="109.5" width="1.5" height="1.5" fill="#f41d1d"/>
<rect x="114.4" y="109.3" width="1.5" height="1.5" fill="#f41d1d"/>
<rect x="104.3" y="109.4" width="1.5" height="1.5" fill="#f41d1d"/>
<rect x="115.1" y="109.3" width="1.5" height="1.5" fill="#f41d1d"/>
<rect x="117.0" y="109.2" width="1.5" height="1.5" fill="#f41d1d"/>
<rect x="101.8" y="109.8" width="1.5" height="1.5" fill="#f41d1d"/>
<rect x="106.7" y="110.0" width="1.5" height="1.5" fill="#f41d1d"/>
<rect x="108.5" y="109.8" width="1.5" height="1.5" fill="#f41d1d"/>
<rect x="109.4" y="110.4" width="1.5" height="1.5" fill="#f41d1d"/>
<rect x="105.8" y="110.3" width="1.5" height="1.5" fill="#f41d1d"/>
<rect x="109.0" y="110.5" width="1.5" height="1.5" fill="#f41d1d"/>
<rect x="109.7" y="110.4" width="1.5" height="1.5" fill="#f41d1d"/>
<rect x="109.5" y="110.6" width="1.5" height="1.5" fill="#f41d1d"/>
<rect x="102.5" y="109.9" width="1.5" height="1.5" fill="#f41d1d"/>
<rect x="114.0" y="110.6" width="1.5" height="1.5" fill="#f41d1d"/>
<rect x="101.2" y="110.6" width="1.5" height="1.5" fill="#f41d1d"/>
<rect x="110.2" y="110.6" width="1.5" height="1.5" fill="#f41d1d"/>
<rect x="111.6" y="110.1" width="1.5" height="1.5" fill="#f41d1d"/>
<rect x="120.6" y="110.2" width="1.5" height="1.5" fill="#f41d1d"/>
<rect x="108.2" y="111.0" width="1.5" height="1.5" fill="#f41d1d"/>
<rect x="106.6" y="111.7" width="1.5" height="1.5" fill="#f41d1d"/>
<rect x="108.1" y="111.0" width="1.5" height="1.5" fill="#f41d1d"/>
<rect x="116.1" y="111.7" width="1.5" height="1.5" fill="#f41d1d"/>
<rect x="103.7" y="110.9" width="1.5" height="1.5" fill="#f41d1d"/>
<rect x="112.2" y="111.1" width="1.5" height="1.5" fill="#f41d1d"/>
<rect x="108.3" y="111.4" width="1.5" height="1.5" fill="#f41d1d"/>
<rect x="105.2" y="111.3" width="1.5" height="1.5" fill="#f41d1d"/>
<rect x="104.2" y="111.0" width="1.5" height="1.5" fill="#f41d1d"/>
<rect x="109.4" y="111.2" width="1.5" height="1.5" fill="#f41d1d"/>
<rect x="114.7" y="110.9" width="1.5" height="1.5" fill="#f41d1d"/>
<rect x="115.1" y="111.0" width="1.5" height="1.5" fill="#f41d1d"/>
<rect x="106.3" y="110.9" width="1.5" height="1.5" fill="#f41d1d"/>
<rect x="105.9" y="111.7" width="1.5" height="1.5" fill="#f41d1d"/>
<rect x="121.4" y="111.2" width="1.5" height="1.5" fill="#f41d1d"/>
<rect x="111.9" y="111.9" width="1.5" height="1.5" fill="#f41d1d"/>
<rect x="107.8" y="111.9" width="1.5" height="1.5" fill="#f41d1d"/>
<rect x="104.9" y="112.1" width="1.5" height="1.5" fill="#f41d1d"/>
<rect x="103.6" y="112.4" width="1.5" height="1.5" fill="#f41d1d"/>
<rect x="109.2" y="112.0" width="1.5" height="1.5" fill="#f41d1d"/>
<rect x="105.0" y="111.9" width="1.5" height="1.5" fill="#f41d1d"/>
<rect x="102.8" y="112.2" width="1.5" height="1.5" fill="#f41d1d"/>
<rect x="102.2" y="112.3" width="1.5" height="1.5" fill="#f41d1d"/>
<rect x="105.0" y="112.5" width="1.5" height="1.5" fill="#f41d1d"/>
<rect x="105.2" y="112.6" width="1.5" height="1.5" fill="#f41d1d"/>
<rect x="115.8" y="112.7" width="1.5" height="1.5" fill="#f41d1d"/>
<rect x="104.6" y="112.7" width="1.5" height="1.5" fill="#f41d1d"/>
<rect x="108.4" y="112.6" width="1.5" height="1.5" fill="#f41d1d"/>
<rect x="108.3" y="112.3" width="1.5" height="1.5" fill="#f41d1d"/>
<rect x="121.2" y="112.2" width="1.5" height="1.5" fill="#f41d1d"/>
<rect x="115.1" y="113.5" width="1.5" height="1.5" fill="#f41d1d"/>
<rect x="107.8" y="112.8" width="1.5" height="1.5" fill="#f41d1d"/>
<rect x="105.3" y="113.2" width="1.5" height="1.5" fill="#f41d1d"/>
<rect x="106.9" y="113.3" width="1.5" height="1.5" fill="#f41d1d"/>
<rect x="101.1" y="113.2" width="1.5" height="1.5" fill="#f41d1d"/>
<rect x="115.2" y="113.7" width="1.5" height="1.5" fill="#f41d1d"/>
<rect x="112.0" y="113.4" width="1.5" height="1.5" fill="#f41d1d"/>
<rect x="110.6" y="113.7" width="1.5" height="1.5" fill="#f41d1d"/>
<rect x="113.6" y="113.2" width="1.5" height="1.5" fill="#f41d1d"/>
<rect x="108.9" y="113.7" width="1.5" height="1.5" fill="#f41d1d"/>
<rect x="109.8" y="113.3" width="1.5" height="1.5" fill="#f41d1d"/>
<rect x="105.9" y="113.4" width="1.5" height="1.5" fill="#f41d1d"/>
<rect x="108.8" y="113.7" width="1.5" height="1.5" fill="#f41d1d"/>
<rect x="116.9" y="113.7" width="1.5" height="1.5" fill="#f41d1d"/>
<rect x="102.2" y="114.1" width="1.5" height="1.5" fill="#f41d1d"/>
<rect x="114.4" y="114.3" width="1.5" height="1.5" fill="#f41d1d"/>
<rect x="105.2" y="113.9" width="1.5" height="1.5" fill="#f41d1d"/>
<rect x="105.1" y="113.9" width="1.5" height="1.5" fill="#f41d1d"/>
<rect x="103.3" y="114.5" width="1.5" height="1.5" fill="#f41d1d"/>
<rect x="104.1" y="113.9" width="1.5" height="1.5" fill="#f41d1d"/>
<rect x="111.1" y="113.9" width="1.5" height="1.5" fill="#f41d1d"/>
<rect x="114.5" y="114.4" width="1.5" height="1.5" fill="#f41d1d"/>
<rect x="115.3" y="114.5" width="1.5" height="1.5" fill="#f41d1d"/>
<rect x="112.9" y="114.0" width="1.5" height="1.5" fill="#f41d1d"/>
<rect x="107.9" y="114.1" width="1.5" height="1.5" fill="#f41d1d"/>
<rect x="107.4" y="114.7" width="1.5" height="1.5" fill="#f41d1d"/>
<rect x="108.1" y="114.5" width="1.5" height="1.5" fill="#f41d1d"/>
<rect x="117.7" y="114.2" width="1.5" height="1.5" fill="#f41d1d"/>
<rect x="110.8" y="115.5" width="1.5" height="1.5" fill="#f41d1d"/>
<rect x="105.0" y="115.0" width="1.5" height="1.5" fill="#f41d1d"/>
<rect x="107.4" y="115.2" width="1.5" height="1.5" fill="#f41d1d"/>
<rect x="108.1" y="115.7" width="1.5" height="1.5" fill="#f41d1d"/>
<rect x="111.4" y="115.0" width="1.5" height="1.5" fill="#f41d1d"/>
<rect x="106.9" y="115.3" width="1.5" height="1.5" fill="#f41d1d"/>
<rect x="103.7" y="115.1" width="1.5" height="1.5" fill="#f41d1d"/>
<rect x="102.1" y="115.4" width="1.5" height="1.5" fill="#f41d1d"/>
<rect x="115.8" y="115.6" width="1.5" height="1.5" fill="#f41d1d"/>
<rect x="111.2" y="115.1" width="1.5" height="1.5" fill="#f41d1d"/>
<rect x="110.5" y="115.3" width="1.5" height="1.5" fill="#f41d1d"/>
<rect x="104.0" y="115.3" width="1.5" height="1.5" fill="#f41d1d"/>
<rect x="109.5" y="114.9" width="1.5" height="1.5" fill="#f41d1d"/>
<rect x="108.5" y="115.6" width="1.5" height="1.5" fill="#f41d1d"/>
<rect x="120.0" y="115.2" width="1.5" height="1.5" fill="#f41d1d"/>
<rect x="112.2" y="116.3" width="1.5" height="1.5" fill="#f41d1d"/>
<rect x="106.3" y="116.2" width="1.5" height="1.5" fill="#f41d1d"/>
<rect x="108.2" y="116.4" width="1.5" height="1.5" fill="#f41d1d"/>
<rect x="116.7" y="116.1" width="1.5" height="1.5" fill="#f41d1d"/>
<rect x="110.6" y="116.3" width="1.5" height="1.5" fill="#f41d1d"/>
<rect x="112.9" y="116.0" width="1.5" height="1.5" fill="#f41d1d"/>
<rect x="105.4" y="116.7" width="1.5" height="1.5" fill="#f41d1d"/>
<rect x="103.6" y="116.4" width="1.5" height="1.5" fill="#f41d1d"/>
<rect x="105.6" y="116.2" width="1.5" height="1.5" fill="#f41d1d"/>
<rect x="109.0" y="116.0" width="1.5" height="1.5" fill="#f41d1d"/>
<rect x="104.1" y="116.7" width="1.5" height="1.5" fill="#f41d1d"/>
<rect x="101.7" y="115.9" width="1.5" height="1.5" fill="#f41d1d"/>
<rect x="114.2" y="116.1" width="1.5" height="1.5" fill="#f41d1d"/>
<rect x="104.5" y="116.5" width="1.5" height="1.5" fill="#f41d1d"/>
<rect x="118.5" y="116.0" width="1.5" height="1.5" fill="#f41d1d"/>
<rect x="121.2" y="116.2" width="1.5" height="1.5" fill="#f41d1d"/>
<rect x="112.1" y="117.6" width="1.5" height="1.5" fill="#f41d1d"/>
<rect x="113.3" y="116.9" width="1.5" height="1.5" fill="#f41d1d"/>
<rect x="109.2" y="117.5" width="1.5" height="1.5" fill="#f41d1d"/>
<rect x="103.8" y="116.8" width="1.5" height="1.5" fill="#f41d1d"/>
<rect x="119.5" y="117.7" width="1.5" height="1.5" fill="#f41d1d"/>
<rect x="113.1" y="116.8" width="1.5" height="1.5" fill="#f41d1d"/>
<rect x="114.1" y="117.7" width="1.5" height="1.5" fill="#f41d1d"/>
<rect x="115.6" y="117.5" width="1.5" height="1.5" fill="#f41d1d"/>
<rect x="109.2" y="117.4" width="1.5" height="1.5" fill="#f41d1d"/>
<rect x="118.3" y="117.2" width="1.5" height="1.5" fill="#f41d1d"/>
<rect x="102.3" y="116.9" width="1.5" height="1.5" fill="#f41d1d"/>
<rect x="118.8" y="117.5" width="1.5" height="1.5" fill="#f41d1d"/>
<rect x="118.4" y="116.9" width="1.5" height="1.5" fill="#f41d1d"/>
<rect x="102.9" y="117.4" width="1.5" height="1.5" fill="#f41d1d"/>
<rect x="109.0" y="117.2" width="1.5" height="1.5" fill="#f41d1d"/>
<rect x="105.3" y="117.5" width="1.5" height="1.5" fill="#f41d1d"/>
<rect x="115.6" y="117.5" width="1.5" height="1.5" fill="#f41d1d"/>
<rect x="122.6" y="117.2" width="1.5" height="1.5" fill="#f41d1d"/>
<rect x="110.0" y="118.1" width="1.5" height="1.5" fill="#f41d1d"/>
<rect x="110.1" y="118.7" width="1.5" height="1.5" fill="#f41d1d"/>
<rect x="116.6" y="117.9" width="1.5" height="1.5" fill="#f41d1d"/>
<rect x="114.0" y="118.6" width="1.5" height="1.5" fill="#f41d1d"/>
<rect x="107.7" y="118.6" width="1.5" height="1.5" fill="#f41d1d"/>
<rect x="119.3" y="117.8" width="1.5" height="1.5" fill="#f41d1d"/>
<rect x="113.1" y="118.1" width="1.5" height="1.5" fill="#f41d1d"/>
<rect x="110.0" y="118.3" width="1.5" height="1.5" fill="#f41d1d"/>
<rect x="117.7" y="118.4" width="1.5" height="1.5" fill="#f41d1d"/>
<rect x="118.3" y="118.0" width="1.5" height="1.5" fill="#f41d1d"/>
<rect x="116.5" y="118.1" width="1.5" height="1.5" fill="#f41d1d"/>
<rect x="104.5" y="118.6" width="1.5" height="1.5" fill="#f41d1d"/>
<rect x="112.2" y="118.0" width="1.5" height="1.5" fill="#f41d1d"/>
<rect x="118.4" y="118.2" width="1.5" height="1.5" fill="#f41d1d"/>
<rect x="114.1" y="118.7" width="1.5" height="1.5" fill="#f41d1d"/>
<rect x="107.3" y="118.3" width="1.5" height="1.5" fill="#f41d1d"/>
<rect x="111.6" y="118.0" width="1.5" height="1.5" fill="#f41d1d"/>
<rect x="126.2" y="118.2" width="1.5" height="1.5" fill="#f41d1d"/>
<rect x="106.3" y="119.4" width="1.5" height="1.5" fill="#f41d1d"/>
<rect x="113.4" y="119.1" width="1.5" height="1.5" fill="#f41d1d"/>
<rect x="114.6" y="119.1" width="1.5" height="1.5" fill="#f41d1d"/>
<rect x="116.8" y="119.1" width="1.5" height="1.5" fill="#f41d1d"/>
<rect x="117.7" y="119.0" width="1.5" height="1.5" fill="#f41d1d"/>
<rect x="104.4" y="119.1" width="1.5" height="1.5" fill="#f41d1d"/>
<rect x="103.5" y="119.6" width="1.5" height="1.5" fill="#f41d1d"/>
<rect x="121.2" y="119.2" width="1.5" height="1.5" fill="#f41d1d"/>
<rect x="105.8" y="119.6" width="1.5" height="1.5" fill="#f41d1d"/>
<rect x="118.2" y="119.0" width="1.5" height="1.5" fill="#f41d1d"/>
<rect x="107.1" y="119.2" width="1.5" height="1.5" fill="#f41d1d"/>
<rect x="103.6" y="119.0" width="1.5" height="1.5" fill="#f41d1d"/>
<rect x="109.0" y="118.9" width="1.5" height="1.5" fill="#f41d1d"/>
<rect x="103.9" y="119.4" width="1.5" height="1.5" fill="#f41d1d"/>
<rect x="107.0" y="119.7" width="1.5" height="1.5" fill="#f41d1d"/>
<rect x="120.5" y="119.4" width="1.5" height="1.5" fill="#f41d1d"/>
<rect x="106.5" y="119.5" width="1.5" height="1.5" fill="#f41d1d"/>
<rect x="107.8" y="119.6" width="1.5" height="1.5" fill="#f41d1d"/>
<rect x="125.4" y="119.2" width="1.5" height="1.5" fill="#f41d1d"/>
<rect x="116.1" y="120.5" width="1.5" height="1.5" fill="#f41d1d"/>
<rect x="108.3" y="119.9" width="1.5" height="1.5" fill="#f41d1d"/>
<rect x="108.9" y="120.7" width="1.5" height="1.5" fill="#f41d1d"/>
<rect x="101.7" y="120.0" width="1.5" height="1.5" fill="#f41d1d"/>
<rect x="107.6" y="120.2" width="1.5" height="1.5" fill="#f41d1d"/>
<rect x="119.8" y="119.9" width="1.5" height="1.5" fill="#f41d1d"/>
<rect x="103.2" y="119.8" width="1.5" height="1.5" fill="#f41d1d"/>
<rect x="108.3" y="120.5" width="1.5" height="1.5" fill="#f41d1d"/>
<rect x="110.7" y="120.4" width="1.5" height="1.5" fill="#f41d1d"/>
<rect x="112.0" y="120.1" width="1.5" height="1.5" fill="#f41d1d"/>
<rect x="109.7" y="119.8" width="1.5" height="1.5" fill="#f41d1d"/>
<rect x="121.5" y="120.5" width="1.5" height="1.5" fill="#f41d1d"/>
<rect x="103.0" y="120.0" width="1.5" height="1.5" fill="#f41d1d"/>
<rect x="117.9" y="120.3" width="1.5" height="1.5" fill="#f41d1d"/>
<rect x="117.1" y="120.5" width="1.5" height="1.5" fill="#f41d1d"/>
<rect x="104.1" y="120.6" width="1.5" height="1.5" fill="#f41d1d"/>
<rect x="105.3" y="119.9" width="1.5" height="1.5" fill="#f41d1d"/>
<rect x="117.1" y="120.6" width="1.5" height="1.5" fill="#f41d1d"/>
<rect x="107.5" y="120.1" width="1.5" height="1.5" fill="#f41d1d"/>
<rect x="124.3" y="120.2" width="1.5" height="1.5" fill="#f41d1d"/>
<rect x="123.7" y="120.9" width="1.5" height="1.5" fill="#f41d1d"/>
<rect x="122.6" y="121.6" width="1.5" height="1.5" fill="#f41d1d"/>
<rect x="123.8" y="121.0" width="1.5" height="1.5" fill="#f41d1d"/>
<rect x="105.5" y="121.2" width="1.5" height="1.5" fill="#f41d1d"/>
<rect x="104.8" y="121.7" width="1.5" height="1.5" fill="#f41d1d"/>
<rect x="114.0" y="121.6" width="1.5" height="1.5" fill="#f41d1d"/>
<rect x="112.2" y="121.2" width="1.5" height="1.5" fill="#f41d1d"/>
<rect x="122.9" y="120.9" width="1.5" height="1.5" fill="#f41d1d"/>
<rect x="106.1" y="121.6" width="1.5" height="1.5" fill="#f41d1d"/>
<rect x="114.5" y="121.5" width="1.5" height="1.5" fill="#f41d1d"/>
<rect x="123.8" y="121.5" width="1.5" height="1.5" fill="#f41d1d"/>
<rect x="114.9" y="121.5" width="1.5" height="1.5" fill="#f41d1d"/>
<rect x="113.1" y="121.0" width="1.5" height="1.5" fill="#f41d1d"/>
<rect x="108.4" y="121.7" width="1.5" height="1.5" fill="#f41d1d"/>
<rect x="113.0" y="120.8" width="1.5" height="1.5" fill="#f41d1d"/>
<rect x="115.7" y="121.7" width="1.5" height="1.5" fill="#f41d1d"/>
<rect x="115.3" y="121.2" width="1.5" height="1.5" fill="#f41d1d"/>
<rect x="111.4" y="121.4" width="1.5" height="1.5" fill="#f41d1d"/>
<rect x="115.0" y="121.2" width="1.5" height="1.5" fill="#f41d1d"/>
<rect x="121.7" y="121.6" width="1.5" height="1.5" fill="#f41d1d"/>
<rect x="118.4" y="121.9" width="1.5" height="1.5" fill="#f41d1d"/>
<rect x="112.8" y="122.0" width="1.5" height="1.5" fill="#f41d1d"/>
<rect x="105.9" y="122.7" width="1.5" height="1.5" fill="#f41d1d"/>
<rect x="106.5" y="122.6" width="1.5" height="1.5" fill="#f41d1d"/>
<rect x="121.2" y="122.2" width="1.5" height="1.5" fill="#f41d1d"/>
<rect x="101.5" y="121.9" width="1.5" height="1.5" fill="#f41d1d"/>
<rect x="116.6" y="122.5" width="1.5" height="1.5" fill="#f41d1d"/>
<rect x="109.5" y="122.3" width="1.5" height="1.5" fill="#f41d1d"/>
<rect x="104.8" y="122.4" width="1.5" height="1.5" fill="#f41d1d"/>
<rect x="119.9" y="122.5" width="1.5" height="1.5" fill="#f41d1d"/>
<rect x="114.6" y="122.3" width="1.5" height="1.5" fill="#f41d1d"/>
<rect x="100.9" y="122.0" width="1.5" height="1.5" fill="#f41d1d"/>
<rect x="110.8" y="121.8" width="1.5" height="1.5" fill="#f41d1d"/>
<rect x="102.7" y="122.7" width="1.5" height="1.5" fill="#f41d1d"/>
<rect x="117.5" y="122.3" width="1.5" height="1.5" fill="#f41d1d"/>
<rect x="117.7" y="122.6" width="1.5" height="1.5" fill="#f41d1d"/>
<rect x="116.4" y="122.2" width="1.5" height="1.5" fill="#f41d1d"/>
<rect x="110.4" y="122.7" width="1.5" height="1.5" fill="#f41d1d"/>
<rect x="124.1" y="121.9" width="1.5" height="1.5" fill="#f41d1d"/>
<rect x="120.8" y="122.4" width="1.5" height="1.5" fill="#f41d1d"/>
<rect x="109.2" y="122.4" width="1.5" height="1.5" fill="#f41d1d"/>
<rect x="129.7" y="122.2" width="1.5" height="1.5" fill="#f41d1d"/>
<rect x="116.6" y="122.8" width="1.5" height="1.5" fill="#f41d1d"/>
<rect x="125.1" y="123.7" width="1.5" height="1.5" fill="#f41d1d"/>
<rect x="121.3" y="123.0" width="1.5" height="1.5" fill="#f41d1d"/>
<rect x="120.3" y="122.9" width="1.5" height="1.5" fill="#f41d1d"/>
<rect x="115.6" y="123.1" width="1.5" height="1.5" fill="#f41d1d"/>
<rect x="113.5" y="123.0" width="1.5" height="1.5" fill="#f41d1d"/>
<rect x="102.8" y="123.2" width="1.5" height="1.5" fill="#f41d1d"/>
<rect x="107.2" y="122.9" width="1.5" height="1.5" fill="#f41d1d"/>
<rect x="109.8" y="122.9" width="1.5" height="1.5" fill="#f41d1d"/>
<rect x="101.5" y="123.7" width="1.5" height="1.5" fill="#f41d1d"/>
<rect x="102.3" y="123.6" width="1.5" height="1.5" fill="#f41d1d"/>
<rect x="112.1" y="122.9" width="1.5" height="1.5" fill="#f41d1d"/>
<rect x="112.4" y="123.3" width="1.5" height="1.5" fill="#f41d1d"/>
<rect x="102.4" y="123.3" width="1.5" height="1.5" fill="#f41d1d"/>
<rect x="101.1" y="123.0" width="1.5" height="1.5" fill="#f41d1d"/>
<rect x="120.0" y="123.6" width="1.5" height="1.5" fill="#f41d1d"/>
<rect x="105.6" y="123.2" width="1.5" height="1.5" fill="#f41d1d"/>
<rect x="126.3" y="123.1" width="1.5" height="1.5" fill="#f41d1d"/>
<rect x="104.0" y="123.0" width="1.5" height="1.5" fill="#f41d1d"/>
<rect x="124.1" y="123.1" width="1.5" height="1.5" fill="#f41d1d"/>
<rect x="118.8" y="123.7" width="1.5" height="1.5" fill="#f41d1d"/>
<rect x="117.6" y="122.9" width="1.5" height="1.5" fill="#f41d1d"/>
<rect x="113.8" y="123.1" width="1.5" height="1.5" fill="#f41d1d"/>
<rect x="131.4" y="123.2" width="1.5" height="1.5" fill="#f41d1d"/>
<rect x="108.7" y="21.6" width="15" height="1.6" fill="#f41d1d"/>
<text x="40.40" y="29.40" font-size="6.8" textLength="31.8" lengthAdjust="spacingAndGlyphs" fill="#161616" stroke="#161616" stroke-width="0.1">down(2606)</text>
<text x="117.40" y="30.00" font-size="6.8" textLength="24.4" lengthAdjust="spacingAndGlyphs" fill="#161616" stroke="#161616" stroke-width="0.1">up(2684)</text>
<text x="129.60" y="110.30" font-size="5.6" textLength="15.6" lengthAdjust="spacingAndGlyphs" fill="#161616" stroke="#161616" stroke-width="0.1">P&lt;0.05</text>
<text x="3.00" y="174.80" font-size="10.8" textLength="6.1" lengthAdjust="spacingAndGlyphs" fill="#111" stroke="#111" stroke-width="0.1">B</text>
<text x="32.50" y="182.90" font-size="8.4" textLength="96.8" lengthAdjust="spacingAndGlyphs" fill="#161616" stroke="#161616" stroke-width="0.1">KEGG enrichment analysis</text>
<line x1="32.4" y1="188.4" x2="32.4" y2="377.8" stroke="#a0a0a0" stroke-width="0.9"/>
<line x1="32.4" y1="377.8" x2="161.9" y2="377.8" stroke="#8c8c8c" stroke-width="0.9"/>
<line x1="32.4" y1="377.8" x2="32.4" y2="379.8" stroke="#8c8c8c" stroke-width="0.6"/>
<text x="30.10" y="387.40" font-size="7.8" text-anchor="middle" textLength="4.2" lengthAdjust="spacingAndGlyphs" fill="#161616" stroke="#161616" stroke-width="0.1">0</text>
<line x1="58.3" y1="377.8" x2="58.3" y2="379.8" stroke="#8c8c8c" stroke-width="0.6"/>
<text x="56.30" y="387.40" font-size="7.8" text-anchor="middle" textLength="4.2" lengthAdjust="spacingAndGlyphs" fill="#161616" stroke="#161616" stroke-width="0.1">1</text>
<line x1="84.2" y1="377.8" x2="84.2" y2="379.8" stroke="#8c8c8c" stroke-width="0.6"/>
<text x="82.20" y="387.40" font-size="7.8" text-anchor="middle" textLength="4.2" lengthAdjust="spacingAndGlyphs" fill="#161616" stroke="#161616" stroke-width="0.1">2</text>
<line x1="110.1" y1="377.8" x2="110.1" y2="379.8" stroke="#8c8c8c" stroke-width="0.6"/>
<text x="107.30" y="387.40" font-size="7.8" text-anchor="middle" textLength="4.2" lengthAdjust="spacingAndGlyphs" fill="#161616" stroke="#161616" stroke-width="0.1">3</text>
<line x1="136.0" y1="377.8" x2="136.0" y2="379.8" stroke="#8c8c8c" stroke-width="0.6"/>
<text x="133.20" y="387.40" font-size="7.8" text-anchor="middle" textLength="4.2" lengthAdjust="spacingAndGlyphs" fill="#161616" stroke="#161616" stroke-width="0.1">4</text>
<line x1="161.9" y1="377.8" x2="161.9" y2="379.8" stroke="#8c8c8c" stroke-width="0.6"/>
<text x="159.60" y="387.40" font-size="7.8" text-anchor="middle" textLength="4.2" lengthAdjust="spacingAndGlyphs" fill="#161616" stroke="#161616" stroke-width="0.1">5</text>
<rect x="32.9" y="200.6" width="77.4" height="7.9" fill="#f9917a"/>
<line x1="30.4" y1="204.6" x2="32.4" y2="204.6" stroke="#8c8c8c" stroke-width="0.6"/>
<rect x="32.9" y="212.6" width="45.0" height="7.9" fill="#f9917a"/>
<line x1="30.4" y1="216.6" x2="32.4" y2="216.6" stroke="#8c8c8c" stroke-width="0.6"/>
<rect x="32.9" y="224.6" width="42.1" height="7.9" fill="#f9917a"/>
<line x1="30.4" y1="228.6" x2="32.4" y2="228.6" stroke="#8c8c8c" stroke-width="0.6"/>
<rect x="32.9" y="236.6" width="38.3" height="7.9" fill="#f9917a"/>
<line x1="30.4" y1="240.6" x2="32.4" y2="240.6" stroke="#8c8c8c" stroke-width="0.6"/>
<rect x="32.9" y="248.6" width="96.5" height="7.9" fill="#2d4d8c"/>
<line x1="30.4" y1="252.6" x2="32.4" y2="252.6" stroke="#8c8c8c" stroke-width="0.6"/>
<rect x="32.9" y="260.6" width="42.1" height="7.9" fill="#2d4d8c"/>
<line x1="30.4" y1="264.6" x2="32.4" y2="264.6" stroke="#8c8c8c" stroke-width="0.6"/>
<rect x="32.9" y="272.6" width="81.0" height="7.9" fill="#1c9a84"/>
<line x1="30.4" y1="276.6" x2="32.4" y2="276.6" stroke="#8c8c8c" stroke-width="0.6"/>
<rect x="32.9" y="284.6" width="55.1" height="7.9" fill="#1c9a84"/>
<line x1="30.4" y1="288.6" x2="32.4" y2="288.6" stroke="#8c8c8c" stroke-width="0.6"/>
<rect x="32.9" y="296.6" width="40.9" height="7.9" fill="#1c9a84"/>
<line x1="30.4" y1="300.6" x2="32.4" y2="300.6" stroke="#8c8c8c" stroke-width="0.6"/>
<rect x="32.9" y="308.6" width="37.3" height="7.9" fill="#1c9a84"/>
<line x1="30.4" y1="312.6" x2="32.4" y2="312.6" stroke="#8c8c8c" stroke-width="0.6"/>
<rect x="32.9" y="320.6" width="35.9" height="7.9" fill="#1c9a84"/>
<line x1="30.4" y1="324.6" x2="32.4" y2="324.6" stroke="#8c8c8c" stroke-width="0.6"/>
<rect x="32.9" y="332.6" width="34.7" height="7.9" fill="#1c9a84"/>
<line x1="30.4" y1="336.6" x2="32.4" y2="336.6" stroke="#8c8c8c" stroke-width="0.6"/>
<rect x="32.9" y="344.6" width="77.5" height="7.9" fill="#f24a30"/>
<line x1="30.4" y1="348.6" x2="32.4" y2="348.6" stroke="#8c8c8c" stroke-width="0.6"/>
<rect x="32.9" y="356.6" width="55.8" height="7.9" fill="#f24a30"/>
<line x1="30.4" y1="360.6" x2="32.4" y2="360.6" stroke="#8c8c8c" stroke-width="0.6"/>
<rect x="32.9" y="368.6" width="39.7" height="7.9" fill="#f24a30"/>
<line x1="30.4" y1="372.6" x2="32.4" y2="372.6" stroke="#8c8c8c" stroke-width="0.6"/>
<text x="36.00" y="278.90" font-size="6.6" textLength="74.3" lengthAdjust="spacingAndGlyphs" font-weight="bold" fill="#16286a" stroke="#16286a" stroke-width="0.2">One carbon pool by folate</text>
<line x1="23.7" y1="200.3" x2="23.7" y2="243.6" stroke="#f9917a" stroke-width="0.9"/>
<text x="6.50" y="226.90" font-size="9.6" textLength="12.7" lengthAdjust="spacingAndGlyphs" fill="#f9917a" stroke="#f9917a" stroke-width="0.1">HD</text>
<line x1="23.7" y1="248.5" x2="23.7" y2="266.7" stroke="#2d4d8c" stroke-width="0.9"/>
<text x="5.50" y="261.60" font-size="9.6" textLength="12.7" lengthAdjust="spacingAndGlyphs" fill="#2d4d8c" stroke="#2d4d8c" stroke-width="0.1">CP</text>
<line x1="23.7" y1="273.2" x2="23.7" y2="339.3" stroke="#1c9a84" stroke-width="0.9"/>
<text x="6.30" y="311.80" font-size="9.6" textLength="9.0" lengthAdjust="spacingAndGlyphs" fill="#1c9a84" stroke="#1c9a84" stroke-width="0.1">M</text>
<line x1="23.7" y1="345" x2="23.7" y2="377.5" stroke="#f24a30" stroke-width="0.9"/>
<text x="4.20" y="363.20" font-size="9.6" textLength="13.8" lengthAdjust="spacingAndGlyphs" fill="#f24a30" stroke="#f24a30" stroke-width="0.1">EIP</text>
<text x="97.20" y="372.00" font-size="9.0" textLength="61.8" lengthAdjust="spacingAndGlyphs" fill="#161616" stroke="#161616" stroke-width="0.1">-log10(Padjust)</text>
<text x="173.20" y="25.60" font-size="10.8" textLength="6.5" lengthAdjust="spacingAndGlyphs" fill="#111" stroke="#111" stroke-width="0.1">C</text>
<path d="M334.01,43.98 A85.8,85.8 0 0 1 337.52,46.55 C313.89,77.08 282.38,88.61 276.26,28.44 A86.4,86.4 0 0 1 280.62,28.11 C283.69,88.51 311.96,75.67 334.01,43.98 Z" fill="#f4482c" stroke="#f4482c" stroke-width="0.3"/>
<path d="M330.39,41.59 A85.8,85.8 0 0 1 334.01,43.98 C311.96,75.67 277.24,89.67 259.14,31.96 A86.4,86.4 0 0 1 263.34,30.76 C278.50,89.31 309.96,74.35 330.39,41.59 Z" fill="#f4482c" stroke="#f4482c" stroke-width="0.3"/>
<path d="M326.64,39.38 A85.8,85.8 0 0 1 330.39,41.59 C309.96,74.35 276.00,90.09 254.99,33.38 A86.4,86.4 0 0 1 259.14,31.96 C277.24,89.67 307.90,73.14 326.64,39.38 Z" fill="#f4482c" stroke="#f4482c" stroke-width="0.3"/>
<path d="M322.79,37.37 A85.8,85.8 0 0 1 326.64,39.38 C307.90,73.14 267.14,95.61 225.47,51.78 A86.4,86.4 0 0 1 228.72,48.84 C268.12,94.73 305.78,72.03 322.79,37.37 Z" fill="#f4482c" stroke="#f4482c" stroke-width="0.3"/>
<path d="M318.84,35.55 A85.8,85.8 0 0 1 322.79,37.37 C305.78,72.03 262.34,101.82 209.46,72.47 A86.4,86.4 0 0 1 211.68,68.70 C263.00,100.69 303.61,71.03 318.84,35.55 Z" fill="#f4482c" stroke="#f4482c" stroke-width="0.3"/>
<path d="M314.80,33.94 A85.8,85.8 0 0 1 318.84,35.55 C303.61,71.03 260.27,106.64 202.56,88.54 A86.4,86.4 0 0 1 203.98,84.39 C260.69,105.40 301.39,70.15 314.80,33.94 Z" fill="#f4482c" stroke="#f4482c" stroke-width="0.3"/>
<path d="M310.69,32.53 A85.8,85.8 0 0 1 314.80,33.94 C301.39,70.15 259.38,118.33 199.60,127.48 A86.4,86.4 0 0 1 199.04,123.14 C259.21,117.02 299.13,69.37 310.69,32.53 Z" fill="#f4482c" stroke="#f4482c" stroke-width="0.3"/>
<path d="M306.51,31.34 A85.8,85.8 0 0 1 310.69,32.53 C299.13,69.37 265.33,131.28 219.44,170.68 A86.4,86.4 0 0 1 216.68,167.29 C264.50,130.27 296.83,68.72 306.51,31.34 Z" fill="#f4482c" stroke="#f4482c" stroke-width="0.3"/>
<path d="M302.27,30.36 A85.8,85.8 0 0 1 306.51,31.34 C296.83,68.72 266.21,132.26 222.38,173.93 A86.4,86.4 0 0 1 219.44,170.68 C265.33,131.28 294.50,68.18 302.27,30.36 Z" fill="#f4482c" stroke="#f4482c" stroke-width="0.3"/>
<path d="M297.99,29.59 A85.8,85.8 0 0 1 302.27,30.36 C294.50,68.18 268.12,134.07 228.72,179.96 A86.4,86.4 0 0 1 225.47,177.02 C267.14,133.19 292.15,67.75 297.99,29.59 Z" fill="#f4482c" stroke="#f4482c" stroke-width="0.3"/>
<path d="M293.68,29.04 A85.8,85.8 0 0 1 297.99,29.59 C292.15,67.75 272.42,137.06 243.07,189.94 A86.4,86.4 0 0 1 239.30,187.72 C271.29,136.40 289.77,67.45 293.68,29.04 Z" fill="#f4482c" stroke="#f4482c" stroke-width="0.3"/>
<path d="M289.35,28.71 A85.8,85.8 0 0 1 293.68,29.04 C289.77,67.45 277.24,139.13 259.14,196.84 A86.4,86.4 0 0 1 254.99,195.42 C276.00,138.71 287.39,67.27 289.35,28.71 Z" fill="#f4482c" stroke="#f4482c" stroke-width="0.3"/>
<path d="M285.00,28.60 A85.8,85.8 0 0 1 289.35,28.71 C287.39,67.27 279.78,139.79 267.61,199.03 A86.4,86.4 0 0 1 263.34,198.04 C278.50,139.49 285.00,67.21 285.00,28.60 Z" fill="#f4482c" stroke="#f4482c" stroke-width="0.3"/>
<path d="M360.02,72.76 A85.8,85.8 0 0 1 362.03,76.61 C327.37,93.62 283.69,88.51 280.62,28.11 A86.4,86.4 0 0 1 285.00,28.00 C285.00,88.48 326.26,91.50 360.02,72.76 Z" fill="#18b6d6" stroke="#18b6d6" stroke-width="0.3"/>
<path d="M357.81,69.01 A85.8,85.8 0 0 1 360.02,72.76 C326.26,91.50 278.50,89.31 263.34,30.76 A86.4,86.4 0 0 1 267.61,29.77 C279.78,89.01 325.05,89.44 357.81,69.01 Z" fill="#18b6d6" stroke="#18b6d6" stroke-width="0.3"/>
<path d="M355.42,65.39 A85.8,85.8 0 0 1 357.81,69.01 C325.05,89.44 264.50,98.53 216.68,61.51 A86.4,86.4 0 0 1 219.44,58.12 C265.33,97.52 323.73,87.44 355.42,65.39 Z" fill="#18b6d6" stroke="#18b6d6" stroke-width="0.3"/>
<path d="M352.85,61.88 A85.8,85.8 0 0 1 355.42,65.39 C323.73,87.44 261.18,104.18 205.60,80.33 A86.4,86.4 0 0 1 207.43,76.35 C261.73,102.98 322.32,85.51 352.85,61.88 Z" fill="#18b6d6" stroke="#18b6d6" stroke-width="0.3"/>
<path d="M350.10,58.51 A85.8,85.8 0 0 1 352.85,61.88 C322.32,85.51 259.61,109.18 200.37,97.01 A86.4,86.4 0 0 1 201.36,92.74 C259.91,107.90 320.81,83.66 350.10,58.51 Z" fill="#18b6d6" stroke="#18b6d6" stroke-width="0.3"/>
<path d="M347.19,55.29 A85.8,85.8 0 0 1 350.10,58.51 C320.81,83.66 259.21,111.78 199.04,105.66 A86.4,86.4 0 0 1 199.60,101.32 C259.38,110.47 319.20,81.89 347.19,55.29 Z" fill="#18b6d6" stroke="#18b6d6" stroke-width="0.3"/>
<path d="M344.11,52.21 A85.8,85.8 0 0 1 347.19,55.29 C319.20,81.89 261.18,124.62 205.60,148.47 A86.4,86.4 0 0 1 203.98,144.41 C260.69,123.40 317.51,80.20 344.11,52.21 Z" fill="#18b6d6" stroke="#18b6d6" stroke-width="0.3"/>
<path d="M340.89,49.30 A85.8,85.8 0 0 1 344.11,52.21 C317.51,80.20 263.73,129.21 214.09,163.76 A86.4,86.4 0 0 1 211.68,160.10 C263.00,128.11 315.74,78.59 340.89,49.30 Z" fill="#18b6d6" stroke="#18b6d6" stroke-width="0.3"/>
<path d="M337.52,46.55 A85.8,85.8 0 0 1 340.89,49.30 C315.74,78.59 273.58,137.67 246.95,191.97 A86.4,86.4 0 0 1 243.07,189.94 C272.42,137.06 313.89,77.08 337.52,46.55 Z" fill="#18b6d6" stroke="#18b6d6" stroke-width="0.3"/>
<path d="M370.36,123.08 A85.8,85.8 0 0 1 369.81,127.39 C331.65,121.55 270.19,93.13 235.64,43.49 A86.4,86.4 0 0 1 239.30,41.08 C271.29,92.40 331.95,119.17 370.36,123.08 Z" fill="#14997f" stroke="#14997f" stroke-width="0.3"/>
<path d="M370.69,118.75 A85.8,85.8 0 0 1 370.36,123.08 C331.95,119.17 266.21,96.54 222.38,54.87 A86.4,86.4 0 0 1 225.47,51.78 C267.14,95.61 332.13,116.79 370.69,118.75 Z" fill="#14997f" stroke="#14997f" stroke-width="0.3"/>
<path d="M370.80,114.40 A85.8,85.8 0 0 1 370.69,118.75 C332.13,116.79 259.91,120.90 201.36,136.06 A86.4,86.4 0 0 1 200.37,131.79 C259.61,119.62 332.19,114.40 370.80,114.40 Z" fill="#14997f" stroke="#14997f" stroke-width="0.3"/>
<path d="M370.69,110.05 A85.8,85.8 0 0 1 370.80,114.40 C332.19,114.40 262.34,126.98 209.46,156.33 A86.4,86.4 0 0 1 207.43,152.45 C261.73,125.82 332.13,112.01 370.69,110.05 Z" fill="#14997f" stroke="#14997f" stroke-width="0.3"/>
<path d="M370.36,105.72 A85.8,85.8 0 0 1 370.69,110.05 C332.13,112.01 267.14,133.19 225.47,177.02 A86.4,86.4 0 0 1 222.38,173.93 C266.21,132.26 331.95,109.63 370.36,105.72 Z" fill="#14997f" stroke="#14997f" stroke-width="0.3"/>
<path d="M369.81,101.41 A85.8,85.8 0 0 1 370.36,105.72 C331.95,109.63 270.19,135.67 235.64,185.31 A86.4,86.4 0 0 1 232.11,182.72 C269.13,134.90 331.65,107.25 369.81,101.41 Z" fill="#14997f" stroke="#14997f" stroke-width="0.3"/>
<path d="M369.04,97.13 A85.8,85.8 0 0 1 369.81,101.41 C331.65,107.25 271.29,136.40 239.30,187.72 A86.4,86.4 0 0 1 235.64,185.31 C270.19,135.67 331.22,104.90 369.04,97.13 Z" fill="#14997f" stroke="#14997f" stroke-width="0.3"/>
<path d="M368.06,92.89 A85.8,85.8 0 0 1 369.04,97.13 C331.22,104.90 274.78,138.22 250.93,193.80 A86.4,86.4 0 0 1 246.95,191.97 C273.58,137.67 330.68,102.57 368.06,92.89 Z" fill="#14997f" stroke="#14997f" stroke-width="0.3"/>
<path d="M366.87,88.71 A85.8,85.8 0 0 1 368.06,92.89 C330.68,102.57 276.00,138.71 254.99,195.42 A86.4,86.4 0 0 1 250.93,193.80 C274.78,138.22 330.03,100.27 366.87,88.71 Z" fill="#14997f" stroke="#14997f" stroke-width="0.3"/>
<path d="M365.46,84.60 A85.8,85.8 0 0 1 366.87,88.71 C330.03,100.27 278.50,139.49 263.34,198.04 A86.4,86.4 0 0 1 259.14,196.84 C277.24,139.13 329.25,98.01 365.46,84.60 Z" fill="#14997f" stroke="#14997f" stroke-width="0.3"/>
<path d="M363.85,80.56 A85.8,85.8 0 0 1 365.46,84.60 C329.25,98.01 282.38,140.19 276.26,200.36 A86.4,86.4 0 0 1 271.92,199.80 C281.07,140.02 328.37,95.79 363.85,80.56 Z" fill="#14997f" stroke="#14997f" stroke-width="0.3"/>
<path d="M362.03,76.61 A85.8,85.8 0 0 1 363.85,80.56 C328.37,95.79 285.00,140.32 285.00,200.80 A86.4,86.4 0 0 1 280.62,200.69 C283.69,140.29 327.37,93.62 362.03,76.61 Z" fill="#14997f" stroke="#14997f" stroke-width="0.3"/>
<path d="M350.10,170.29 A85.8,85.8 0 0 1 347.19,173.51 C319.20,146.91 279.78,89.01 267.61,29.77 A86.4,86.4 0 0 1 271.92,29.00 C281.07,88.78 320.81,145.14 350.10,170.29 Z" fill="#2b4a8c" stroke="#2b4a8c" stroke-width="0.3"/>
<path d="M352.85,166.92 A85.8,85.8 0 0 1 350.10,170.29 C320.81,145.14 274.78,90.58 250.93,35.00 A86.4,86.4 0 0 1 254.99,33.38 C276.00,90.09 322.32,143.29 352.85,166.92 Z" fill="#2b4a8c" stroke="#2b4a8c" stroke-width="0.3"/>
<path d="M355.42,163.41 A85.8,85.8 0 0 1 352.85,166.92 C322.32,143.29 271.29,92.40 239.30,41.08 A86.4,86.4 0 0 1 243.07,38.86 C272.42,91.74 323.73,141.36 355.42,163.41 Z" fill="#2b4a8c" stroke="#2b4a8c" stroke-width="0.3"/>
<path d="M357.81,159.79 A85.8,85.8 0 0 1 355.42,163.41 C323.73,141.36 269.13,93.90 232.11,46.08 A86.4,86.4 0 0 1 235.64,43.49 C270.19,93.13 325.05,139.36 357.81,159.79 Z" fill="#2b4a8c" stroke="#2b4a8c" stroke-width="0.3"/>
<path d="M360.02,156.04 A85.8,85.8 0 0 1 357.81,159.79 C325.05,139.36 265.33,97.52 219.44,58.12 A86.4,86.4 0 0 1 222.38,54.87 C266.21,96.54 326.26,137.30 360.02,156.04 Z" fill="#2b4a8c" stroke="#2b4a8c" stroke-width="0.3"/>
<path d="M362.03,152.19 A85.8,85.8 0 0 1 360.02,156.04 C326.26,137.30 263.00,100.69 211.68,68.70 A86.4,86.4 0 0 1 214.09,65.04 C263.73,99.59 327.37,135.18 362.03,152.19 Z" fill="#2b4a8c" stroke="#2b4a8c" stroke-width="0.3"/>
<path d="M363.85,148.24 A85.8,85.8 0 0 1 362.03,152.19 C327.37,135.18 261.73,102.98 207.43,76.35 A86.4,86.4 0 0 1 209.46,72.47 C262.34,101.82 328.37,133.01 363.85,148.24 Z" fill="#2b4a8c" stroke="#2b4a8c" stroke-width="0.3"/>
<path d="M365.46,144.20 A85.8,85.8 0 0 1 363.85,148.24 C328.37,133.01 259.91,107.90 201.36,92.74 A86.4,86.4 0 0 1 202.56,88.54 C260.27,106.64 329.25,130.79 365.46,144.20 Z" fill="#2b4a8c" stroke="#2b4a8c" stroke-width="0.3"/>
<path d="M366.87,140.09 A85.8,85.8 0 0 1 365.46,144.20 C329.25,130.79 259.38,110.47 199.60,101.32 A86.4,86.4 0 0 1 200.37,97.01 C259.61,109.18 330.03,128.53 366.87,140.09 Z" fill="#2b4a8c" stroke="#2b4a8c" stroke-width="0.3"/>
<path d="M368.06,135.91 A85.8,85.8 0 0 1 366.87,140.09 C330.03,128.53 259.11,115.71 198.71,118.78 A86.4,86.4 0 0 1 198.60,114.40 C259.08,114.40 330.68,126.23 368.06,135.91 Z" fill="#2b4a8c" stroke="#2b4a8c" stroke-width="0.3"/>
<path d="M369.04,131.67 A85.8,85.8 0 0 1 368.06,135.91 C330.68,126.23 260.27,122.16 202.56,140.26 A86.4,86.4 0 0 1 201.36,136.06 C259.91,120.90 331.22,123.90 369.04,131.67 Z" fill="#2b4a8c" stroke="#2b4a8c" stroke-width="0.3"/>
<path d="M369.81,127.39 A85.8,85.8 0 0 1 369.04,131.67 C331.22,123.90 260.69,123.40 203.98,144.41 A86.4,86.4 0 0 1 202.56,140.26 C260.27,122.16 331.65,121.55 369.81,127.39 Z" fill="#2b4a8c" stroke="#2b4a8c" stroke-width="0.3"/>
<path d="M297.99,199.21 A85.8,85.8 0 0 1 293.68,199.76 C289.77,161.35 273.58,91.13 246.95,36.83 A86.4,86.4 0 0 1 250.93,35.00 C274.78,90.58 292.15,161.05 297.99,199.21 Z" fill="#f7957c" stroke="#f7957c" stroke-width="0.3"/>
<path d="M302.27,198.44 A85.8,85.8 0 0 1 297.99,199.21 C292.15,161.05 272.42,91.74 243.07,38.86 A86.4,86.4 0 0 1 246.95,36.83 C273.58,91.13 294.50,160.62 302.27,198.44 Z" fill="#f7957c" stroke="#f7957c" stroke-width="0.3"/>
<path d="M306.51,197.46 A85.8,85.8 0 0 1 302.27,198.44 C294.50,160.62 263.73,99.59 214.09,65.04 A86.4,86.4 0 0 1 216.68,61.51 C264.50,98.53 296.83,160.08 306.51,197.46 Z" fill="#f7957c" stroke="#f7957c" stroke-width="0.3"/>
<path d="M310.69,196.27 A85.8,85.8 0 0 1 306.51,197.46 C296.83,160.08 260.69,105.40 203.98,84.39 A86.4,86.4 0 0 1 205.60,80.33 C261.18,104.18 299.13,159.43 310.69,196.27 Z" fill="#f7957c" stroke="#f7957c" stroke-width="0.3"/>
<path d="M314.80,194.86 A85.8,85.8 0 0 1 310.69,196.27 C299.13,159.43 259.11,113.09 198.71,110.02 A86.4,86.4 0 0 1 199.04,105.66 C259.21,111.78 301.39,158.65 314.80,194.86 Z" fill="#f7957c" stroke="#f7957c" stroke-width="0.3"/>
<path d="M318.84,193.25 A85.8,85.8 0 0 1 314.80,194.86 C301.39,158.65 259.08,114.40 198.60,114.40 A86.4,86.4 0 0 1 198.71,110.02 C259.11,113.09 303.61,157.77 318.84,193.25 Z" fill="#f7957c" stroke="#f7957c" stroke-width="0.3"/>
<path d="M322.79,191.43 A85.8,85.8 0 0 1 318.84,193.25 C303.61,157.77 259.21,117.02 199.04,123.14 A86.4,86.4 0 0 1 198.71,118.78 C259.11,115.71 305.78,156.77 322.79,191.43 Z" fill="#f7957c" stroke="#f7957c" stroke-width="0.3"/>
<path d="M326.64,189.42 A85.8,85.8 0 0 1 322.79,191.43 C305.78,156.77 259.61,119.62 200.37,131.79 A86.4,86.4 0 0 1 199.60,127.48 C259.38,118.33 307.90,155.66 326.64,189.42 Z" fill="#f7957c" stroke="#f7957c" stroke-width="0.3"/>
<path d="M330.39,187.21 A85.8,85.8 0 0 1 326.64,189.42 C307.90,155.66 261.73,125.82 207.43,152.45 A86.4,86.4 0 0 1 205.60,148.47 C261.18,124.62 309.96,154.45 330.39,187.21 Z" fill="#f7957c" stroke="#f7957c" stroke-width="0.3"/>
<path d="M334.01,184.82 A85.8,85.8 0 0 1 330.39,187.21 C309.96,154.45 263.00,128.11 211.68,160.10 A86.4,86.4 0 0 1 209.46,156.33 C262.34,126.98 311.96,153.13 334.01,184.82 Z" fill="#f7957c" stroke="#f7957c" stroke-width="0.3"/>
<path d="M337.52,182.25 A85.8,85.8 0 0 1 334.01,184.82 C311.96,153.13 264.50,130.27 216.68,167.29 A86.4,86.4 0 0 1 214.09,163.76 C263.73,129.21 313.89,151.72 337.52,182.25 Z" fill="#f7957c" stroke="#f7957c" stroke-width="0.3"/>
<path d="M340.89,179.50 A85.8,85.8 0 0 1 337.52,182.25 C313.89,151.72 269.13,134.90 232.11,182.72 A86.4,86.4 0 0 1 228.72,179.96 C268.12,134.07 315.74,150.21 340.89,179.50 Z" fill="#f7957c" stroke="#f7957c" stroke-width="0.3"/>
<path d="M344.11,176.59 A85.8,85.8 0 0 1 340.89,179.50 C315.74,150.21 281.07,140.02 271.92,199.80 A86.4,86.4 0 0 1 267.61,199.03 C279.78,139.79 317.51,148.60 344.11,176.59 Z" fill="#f7957c" stroke="#f7957c" stroke-width="0.3"/>
<path d="M347.19,173.51 A85.8,85.8 0 0 1 344.11,176.59 C317.51,148.60 283.69,140.29 280.62,200.69 A86.4,86.4 0 0 1 276.26,200.36 C282.38,140.19 319.20,146.91 347.19,173.51 Z" fill="#f7957c" stroke="#f7957c" stroke-width="0.3"/>
<path d="M289.35,200.09 A85.8,85.8 0 0 1 285.00,200.20 C285.00,161.59 281.07,88.78 271.92,29.00 A86.4,86.4 0 0 1 276.26,28.44 C282.38,88.61 287.39,161.53 289.35,200.09 Z" fill="#8893bf" stroke="#8893bf" stroke-width="0.3"/>
<path d="M293.68,199.76 A85.8,85.8 0 0 1 289.35,200.09 C287.39,161.53 268.12,94.73 228.72,48.84 A86.4,86.4 0 0 1 232.11,46.08 C269.13,93.90 289.77,161.35 293.68,199.76 Z" fill="#8893bf" stroke="#8893bf" stroke-width="0.3"/>
<path d="M285.00,21.50 A92.9,92.9 0 0 1 341.86,40.94 L337.52,46.55 A85.8,85.8 0 0 0 285.00,28.60 Z" fill="#f6887a"/>
<path d="M341.86,40.94 A92.9,92.9 0 0 1 368.41,73.49 L362.03,76.61 A85.8,85.8 0 0 0 337.52,46.55 Z" fill="#5cc6e0"/>
<path d="M368.41,73.49 A92.9,92.9 0 0 1 376.83,128.47 L369.81,127.39 A85.8,85.8 0 0 0 362.03,76.61 Z" fill="#18b09e"/>
<path d="M376.83,128.47 A92.9,92.9 0 0 1 352.33,178.41 L347.19,173.51 A85.8,85.8 0 0 0 369.81,127.39 Z" fill="#7585b6"/>
<path d="M352.33,178.41 A92.9,92.9 0 0 1 294.40,206.82 L293.68,199.76 A85.8,85.8 0 0 0 347.19,173.51 Z" fill="#f8ad9c"/>
<path d="M294.40,206.82 A92.9,92.9 0 0 1 285.00,207.30 L285.00,200.20 A85.8,85.8 0 0 0 293.68,199.76 Z" fill="#a5acd0"/>
<path d="M280.30,21.82 A92.7,92.7 0 0 1 285.00,21.70 L285.00,24.50 A89.9,89.9 0 0 0 280.45,24.62 Z" fill="#ee3a3e" stroke="#7a70d8" stroke-width="0.35"/>
<text transform="translate(282.59,19.43) rotate(88.5)" font-size="6.5" text-anchor="end" dy="2.2" fill="#1e1e1e">B3galt2</text>
<path d="M275.62,22.18 A92.7,92.7 0 0 1 280.30,21.82 L280.45,24.62 A89.9,89.9 0 0 0 275.90,24.96 Z" fill="#ee3a3e" stroke="#7a70d8" stroke-width="0.35"/>
<text transform="translate(277.79,19.67) rotate(85.6)" font-size="6.5" text-anchor="end" dy="2.2" fill="#1e1e1e">Aldh1l2</text>
<path d="M270.96,22.77 A92.7,92.7 0 0 1 275.62,22.18 L275.90,24.96 A89.9,89.9 0 0 0 271.39,25.54 Z" fill="#ee3a3e" stroke="#7a70d8" stroke-width="0.35"/>
<text transform="translate(273.00,20.16) rotate(82.7)" font-size="6.5" text-anchor="end" dy="2.2" fill="#1e1e1e">Gls2</text>
<path d="M261.76,24.66 A92.7,92.7 0 0 1 270.96,22.77 L271.39,25.54 A89.9,89.9 0 0 0 262.47,27.37 Z" fill="#ee3a3e" stroke="#7a70d8" stroke-width="0.35"/>
<text transform="translate(265.88,21.34) rotate(78.4)" font-size="6.5" text-anchor="end" dy="2.2" fill="#1e1e1e">B4galt2</text>
<path d="M257.25,25.95 A92.7,92.7 0 0 1 261.76,24.66 L262.47,27.37 A89.9,89.9 0 0 0 258.09,28.62 Z" fill="#ee3a3e" stroke="#7a70d8" stroke-width="0.35"/>
<text transform="translate(258.87,23.07) rotate(74.0)" font-size="6.5" text-anchor="end" dy="2.2" fill="#1e1e1e">Mthfd2</text>
<path d="M252.80,27.47 A92.7,92.7 0 0 1 257.25,25.95 L258.09,28.62 A89.9,89.9 0 0 0 253.78,30.10 Z" fill="#ee3a3e" stroke="#7a70d8" stroke-width="0.35"/>
<text transform="translate(254.27,24.51) rotate(71.1)" font-size="6.5" text-anchor="end" dy="2.2" fill="#1e1e1e">Mthfr</text>
<path d="M244.18,31.17 A92.7,92.7 0 0 1 252.80,27.47 L253.78,30.10 A89.9,89.9 0 0 0 245.41,33.69 Z" fill="#f0a0a6" stroke="#7a70d8" stroke-width="0.35"/>
<text transform="translate(247.54,27.10) rotate(66.8)" font-size="6.5" text-anchor="end" dy="2.2" fill="#1e1e1e">Lfng</text>
<path d="M240.01,33.35 A92.7,92.7 0 0 1 244.18,31.17 L245.41,33.69 A89.9,89.9 0 0 0 241.37,35.80 Z" fill="#f0a0a6" stroke="#7a70d8" stroke-width="0.35"/>
<text transform="translate(241.02,30.20) rotate(62.4)" font-size="6.5" text-anchor="end" dy="2.2" fill="#1e1e1e">Cdo1</text>
<path d="M235.97,35.73 A92.7,92.7 0 0 1 240.01,33.35 L241.37,35.80 A89.9,89.9 0 0 0 237.45,38.11 Z" fill="#f0a0a6" stroke="#7a70d8" stroke-width="0.35"/>
<text transform="translate(236.81,32.53) rotate(59.5)" font-size="6.5" text-anchor="end" dy="2.2" fill="#1e1e1e">Arsg</text>
<path d="M232.04,38.32 A92.7,92.7 0 0 1 235.97,35.73 L237.45,38.11 A89.9,89.9 0 0 0 233.64,40.61 Z" fill="#f0a0a6" stroke="#7a70d8" stroke-width="0.35"/>
<text transform="translate(232.72,35.08) rotate(56.6)" font-size="6.5" text-anchor="end" dy="2.2" fill="#1e1e1e">Cryab</text>
<path d="M224.62,44.06 A92.7,92.7 0 0 1 232.04,38.32 L233.64,40.61 A89.9,89.9 0 0 0 226.44,46.19 Z" fill="#aca4f2" stroke="#7a70d8" stroke-width="0.35"/>
<text transform="translate(226.85,39.28) rotate(52.3)" font-size="6.5" text-anchor="end" dy="2.2" fill="#1e1e1e">Xylt1</text>
<path d="M221.13,47.21 A92.7,92.7 0 0 1 224.62,44.06 L226.44,46.19 A89.9,89.9 0 0 0 223.06,49.24 Z" fill="#aca4f2" stroke="#7a70d8" stroke-width="0.35"/>
<text transform="translate(221.31,43.91) rotate(47.9)" font-size="6.5" text-anchor="end" dy="2.2" fill="#1e1e1e">Large1</text>
<path d="M217.81,50.53 A92.7,92.7 0 0 1 221.13,47.21 L223.06,49.24 A89.9,89.9 0 0 0 219.84,52.46 Z" fill="#aca4f2" stroke="#7a70d8" stroke-width="0.35"/>
<text transform="translate(217.82,47.22) rotate(45.0)" font-size="6.5" text-anchor="end" dy="2.2" fill="#1e1e1e">Dpm2</text>
<path d="M214.66,54.02 A92.7,92.7 0 0 1 217.81,50.53 L219.84,52.46 A89.9,89.9 0 0 0 216.79,55.84 Z" fill="#aca4f2" stroke="#7a70d8" stroke-width="0.35"/>
<text transform="translate(214.51,50.71) rotate(42.1)" font-size="6.5" text-anchor="end" dy="2.2" fill="#1e1e1e">Fkrp</text>
<path d="M208.92,61.44 A92.7,92.7 0 0 1 214.66,54.02 L216.79,55.84 A89.9,89.9 0 0 0 211.21,63.04 Z" fill="#aca4f2" stroke="#7a70d8" stroke-width="0.35"/>
<text transform="translate(209.88,56.25) rotate(37.7)" font-size="6.5" text-anchor="end" dy="2.2" fill="#1e1e1e">Pomk</text>
<path d="M206.33,65.37 A92.7,92.7 0 0 1 208.92,61.44 L211.21,63.04 A89.9,89.9 0 0 0 208.71,66.85 Z" fill="#aca4f2" stroke="#7a70d8" stroke-width="0.35"/>
<text transform="translate(205.68,62.12) rotate(33.4)" font-size="6.5" text-anchor="end" dy="2.2" fill="#1e1e1e">Mettl21</text>
<path d="M203.95,69.41 A92.7,92.7 0 0 1 206.33,65.37 L208.71,66.85 A89.9,89.9 0 0 0 206.40,70.77 Z" fill="#aca4f2" stroke="#7a70d8" stroke-width="0.35"/>
<text transform="translate(203.13,66.21) rotate(30.5)" font-size="6.5" text-anchor="end" dy="2.2" fill="#1e1e1e">Galnt2</text>
<path d="M199.81,77.84 A92.7,92.7 0 0 1 203.95,69.41 L206.40,70.77 A89.9,89.9 0 0 0 202.39,78.95 Z" fill="#aca4f2" stroke="#7a70d8" stroke-width="0.35"/>
<text transform="translate(199.71,72.56) rotate(26.1)" font-size="6.5" text-anchor="end" dy="2.2" fill="#1e1e1e">Pomgnt2</text>
<path d="M198.07,82.20 A92.7,92.7 0 0 1 199.81,77.84 L202.39,78.95 A89.9,89.9 0 0 0 200.70,83.18 Z" fill="#aca4f2" stroke="#7a70d8" stroke-width="0.35"/>
<text transform="translate(196.78,79.16) rotate(21.8)" font-size="6.5" text-anchor="end" dy="2.2" fill="#1e1e1e">Tkt</text>
<path d="M196.55,86.65 A92.7,92.7 0 0 1 198.07,82.20 L200.70,83.18 A89.9,89.9 0 0 0 199.22,87.49 Z" fill="#aca4f2" stroke="#7a70d8" stroke-width="0.35"/>
<text transform="translate(195.11,83.67) rotate(18.9)" font-size="6.5" text-anchor="end" dy="2.2" fill="#1e1e1e">Dnr</text>
<path d="M195.26,91.16 A92.7,92.7 0 0 1 196.55,86.65 L199.22,87.49 A89.9,89.9 0 0 0 197.97,91.87 Z" fill="#aca4f2" stroke="#7a70d8" stroke-width="0.35"/>
<text transform="translate(193.67,88.27) rotate(16.0)" font-size="6.5" text-anchor="end" dy="2.2" fill="#1e1e1e">Pomt1</text>
<path d="M193.37,100.36 A92.7,92.7 0 0 1 195.26,91.16 L197.97,91.87 A89.9,89.9 0 0 0 196.14,100.79 Z" fill="#aca4f2" stroke="#7a70d8" stroke-width="0.35"/>
<text transform="translate(191.94,95.28) rotate(11.6)" font-size="6.5" text-anchor="end" dy="2.2" fill="#1e1e1e">Pofut1</text>
<path d="M192.78,105.02 A92.7,92.7 0 0 1 193.37,100.36 L196.14,100.79 A89.9,89.9 0 0 0 195.56,105.30 Z" fill="#aca4f2" stroke="#7a70d8" stroke-width="0.35"/>
<text transform="translate(190.76,102.40) rotate(7.3)" font-size="6.5" text-anchor="end" dy="2.2" fill="#1e1e1e">B4gat1</text>
<path d="M192.42,109.70 A92.7,92.7 0 0 1 192.78,105.02 L195.56,105.30 A89.9,89.9 0 0 0 195.22,109.85 Z" fill="#aca4f2" stroke="#7a70d8" stroke-width="0.35"/>
<text transform="translate(190.27,107.19) rotate(4.4)" font-size="6.5" text-anchor="end" dy="2.2" fill="#1e1e1e">Dnmt1</text>
<path d="M192.30,114.40 A92.7,92.7 0 0 1 192.42,109.70 L195.22,109.85 A89.9,89.9 0 0 0 195.10,114.40 Z" fill="#aca4f2" stroke="#7a70d8" stroke-width="0.35"/>
<text transform="translate(190.03,111.99) rotate(1.5)" font-size="6.5" text-anchor="end" dy="2.2" fill="#1e1e1e">Amd1</text>
<path d="M192.42,119.10 A92.7,92.7 0 0 1 192.30,114.40 L195.10,114.40 A89.9,89.9 0 0 0 195.22,118.95 Z" fill="#aca4f2" stroke="#7a70d8" stroke-width="0.35"/>
<text transform="translate(190.03,116.81) rotate(-1.5)" font-size="6.5" text-anchor="end" dy="2.2" fill="#1e1e1e">B3glct</text>
<path d="M193.37,128.44 A92.7,92.7 0 0 1 192.42,119.10 L195.22,118.95 A89.9,89.9 0 0 0 196.14,128.01 Z" fill="#aca4f2" stroke="#7a70d8" stroke-width="0.35"/>
<text transform="translate(190.49,124.01) rotate(-5.8)" font-size="6.5" text-anchor="end" dy="2.2" fill="#1e1e1e">Mtr</text>
<path d="M194.20,133.06 A92.7,92.7 0 0 1 193.37,128.44 L196.14,128.01 A89.9,89.9 0 0 0 196.94,132.50 Z" fill="#aca4f2" stroke="#7a70d8" stroke-width="0.35"/>
<text transform="translate(191.49,131.16) rotate(-10.2)" font-size="6.5" text-anchor="end" dy="2.2" fill="#1e1e1e">Mat2a</text>
<path d="M195.26,137.64 A92.7,92.7 0 0 1 194.20,133.06 L196.94,132.50 A89.9,89.9 0 0 0 197.97,136.93 Z" fill="#aca4f2" stroke="#7a70d8" stroke-width="0.35"/>
<text transform="translate(192.46,135.87) rotate(-13.1)" font-size="6.5" text-anchor="end" dy="2.2" fill="#1e1e1e">Glyctk</text>
<path d="M196.55,142.15 A92.7,92.7 0 0 1 195.26,137.64 L197.97,136.93 A89.9,89.9 0 0 0 199.22,141.31 Z" fill="#aca4f2" stroke="#7a70d8" stroke-width="0.35"/>
<text transform="translate(193.67,140.53) rotate(-16.0)" font-size="6.5" text-anchor="end" dy="2.2" fill="#1e1e1e">Galnt1</text>
<path d="M199.81,150.96 A92.7,92.7 0 0 1 196.55,142.15 L199.22,141.31 A89.9,89.9 0 0 0 202.39,149.85 Z" fill="#aca4f2" stroke="#7a70d8" stroke-width="0.35"/>
<text transform="translate(195.91,147.39) rotate(-20.3)" font-size="6.5" text-anchor="end" dy="2.2" fill="#1e1e1e">Pomt2</text>
<path d="M201.77,155.22 A92.7,92.7 0 0 1 199.81,150.96 L202.39,149.85 A89.9,89.9 0 0 0 204.29,153.99 Z" fill="#aca4f2" stroke="#7a70d8" stroke-width="0.35"/>
<text transform="translate(198.68,154.06) rotate(-24.7)" font-size="6.5" text-anchor="end" dy="2.2" fill="#1e1e1e">Cth</text>
<path d="M206.33,163.43 A92.7,92.7 0 0 1 201.77,155.22 L204.29,153.99 A89.9,89.9 0 0 0 208.71,161.95 Z" fill="#aca4f2" stroke="#7a70d8" stroke-width="0.35"/>
<text transform="translate(201.94,160.50) rotate(-29.0)" font-size="6.5" text-anchor="end" dy="2.2" fill="#1e1e1e">Gnmt</text>
<path d="M208.92,167.36 A92.7,92.7 0 0 1 206.33,163.43 L208.71,161.95 A89.9,89.9 0 0 0 211.21,165.76 Z" fill="#aca4f2" stroke="#7a70d8" stroke-width="0.35"/>
<text transform="translate(205.68,166.68) rotate(-33.4)" font-size="6.5" text-anchor="end" dy="2.2" fill="#1e1e1e">Kyat3</text>
<path d="M211.70,171.14 A92.7,92.7 0 0 1 208.92,167.36 L211.21,165.76 A89.9,89.9 0 0 0 213.91,169.43 Z" fill="#aca4f2" stroke="#7a70d8" stroke-width="0.35"/>
<text transform="translate(208.43,170.63) rotate(-36.3)" font-size="6.5" text-anchor="end" dy="2.2" fill="#1e1e1e">Pomgnt1</text>
<path d="M214.66,174.78 A92.7,92.7 0 0 1 211.70,171.14 L213.91,169.43 A89.9,89.9 0 0 0 216.79,172.96 Z" fill="#aca4f2" stroke="#7a70d8" stroke-width="0.35"/>
<text transform="translate(211.37,174.43) rotate(-39.2)" font-size="6.5" text-anchor="end" dy="2.2" fill="#1e1e1e">Dmgdh</text>
<path d="M217.81,178.27 A92.7,92.7 0 0 1 214.66,174.78 L216.79,172.96 A89.9,89.9 0 0 0 219.84,176.34 Z" fill="#aca4f2" stroke="#7a70d8" stroke-width="0.35"/>
<text transform="translate(214.51,178.09) rotate(-42.1)" font-size="6.5" text-anchor="end" dy="2.2" fill="#1e1e1e">Tyms</text>
<path d="M221.13,181.59 A92.7,92.7 0 0 1 217.81,178.27 L219.84,176.34 A89.9,89.9 0 0 0 223.06,179.56 Z" fill="#aca4f2" stroke="#7a70d8" stroke-width="0.35"/>
<text transform="translate(217.82,181.58) rotate(-45.0)" font-size="6.5" text-anchor="end" dy="2.2" fill="#1e1e1e">Atic</text>
<path d="M224.62,184.74 A92.7,92.7 0 0 1 221.13,181.59 L223.06,179.56 A89.9,89.9 0 0 0 226.44,182.61 Z" fill="#aca4f2" stroke="#7a70d8" stroke-width="0.35"/>
<text transform="translate(221.31,184.89) rotate(-47.9)" font-size="6.5" text-anchor="end" dy="2.2" fill="#1e1e1e">Shmt2</text>
<path d="M232.04,190.48 A92.7,92.7 0 0 1 224.62,184.74 L226.44,182.61 A89.9,89.9 0 0 0 233.64,188.19 Z" fill="#aca4f2" stroke="#7a70d8" stroke-width="0.35"/>
<text transform="translate(226.85,189.52) rotate(-52.3)" font-size="6.5" text-anchor="end" dy="2.2" fill="#1e1e1e">Agxt2</text>
<path d="M240.01,195.45 A92.7,92.7 0 0 1 232.04,190.48 L233.64,188.19 A89.9,89.9 0 0 0 241.37,193.00 Z" fill="#928af0" stroke="#7a70d8" stroke-width="0.35"/>
<text transform="translate(234.75,195.02) rotate(-58.1)" font-size="6.5" text-anchor="end" dy="2.2" fill="#1e1e1e">Sardh</text>
<path d="M248.44,199.59 A92.7,92.7 0 0 1 240.01,195.45 L241.37,193.00 A89.9,89.9 0 0 0 249.55,197.01 Z" fill="#928af0" stroke="#7a70d8" stroke-width="0.35"/>
<text transform="translate(243.16,199.69) rotate(-63.9)" font-size="6.5" text-anchor="end" dy="2.2" fill="#1e1e1e">Shmt1</text>
<path d="M252.80,201.33 A92.7,92.7 0 0 1 248.44,199.59 L249.55,197.01 A89.9,89.9 0 0 0 253.78,198.70 Z" fill="#928af0" stroke="#7a70d8" stroke-width="0.35"/>
<text transform="translate(249.76,202.62) rotate(-68.2)" font-size="6.5" text-anchor="end" dy="2.2" fill="#1e1e1e">Psph</text>
<path d="M257.25,202.85 A92.7,92.7 0 0 1 252.80,201.33 L253.78,198.70 A89.9,89.9 0 0 0 258.09,200.18 Z" fill="#928af0" stroke="#7a70d8" stroke-width="0.35"/>
<text transform="translate(254.27,204.29) rotate(-71.1)" font-size="6.5" text-anchor="end" dy="2.2" fill="#1e1e1e">Tst</text>
<path d="M261.76,204.14 A92.7,92.7 0 0 1 257.25,202.85 L258.09,200.18 A89.9,89.9 0 0 0 262.47,201.43 Z" fill="#928af0" stroke="#7a70d8" stroke-width="0.35"/>
<text transform="translate(258.87,205.73) rotate(-74.0)" font-size="6.5" text-anchor="end" dy="2.2" fill="#1e1e1e">Mthfd1</text>
<path d="M266.34,205.20 A92.7,92.7 0 0 1 261.76,204.14 L262.47,201.43 A89.9,89.9 0 0 0 266.90,202.46 Z" fill="#928af0" stroke="#7a70d8" stroke-width="0.35"/>
<text transform="translate(263.53,206.94) rotate(-76.9)" font-size="6.5" text-anchor="end" dy="2.2" fill="#1e1e1e">Gldc</text>
<path d="M270.96,206.03 A92.7,92.7 0 0 1 266.34,205.20 L266.90,202.46 A89.9,89.9 0 0 0 271.39,203.26 Z" fill="#928af0" stroke="#7a70d8" stroke-width="0.35"/>
<text transform="translate(268.24,207.91) rotate(-79.8)" font-size="6.5" text-anchor="end" dy="2.2" fill="#1e1e1e">Gart</text>
<path d="M275.62,206.62 A92.7,92.7 0 0 1 270.96,206.03 L271.39,203.26 A89.9,89.9 0 0 0 275.90,203.84 Z" fill="#928af0" stroke="#7a70d8" stroke-width="0.35"/>
<text transform="translate(273.00,208.64) rotate(-82.7)" font-size="6.5" text-anchor="end" dy="2.2" fill="#1e1e1e">Sms</text>
<path d="M280.30,206.98 A92.7,92.7 0 0 1 275.62,206.62 L275.90,203.84 A89.9,89.9 0 0 0 280.45,204.18 Z" fill="#928af0" stroke="#7a70d8" stroke-width="0.35"/>
<text transform="translate(277.79,209.13) rotate(-85.6)" font-size="6.5" text-anchor="end" dy="2.2" fill="#1e1e1e">Ahcy</text>
<path d="M285.00,207.10 A92.7,92.7 0 0 1 280.30,206.98 L280.45,204.18 A89.9,89.9 0 0 0 285.00,204.30 Z" fill="#1c1cdc" stroke="#7a70d8" stroke-width="0.35"/>
<text transform="translate(282.59,209.37) rotate(-88.5)" font-size="6.5" text-anchor="end" dy="2.2" fill="#1e1e1e">Mat1a</text>
<circle cx="392.4" cy="69.5" r="3.7" fill="#f4482c"/>
<text x="401.00" y="72.10" font-size="7.7" textLength="81.0" lengthAdjust="spacingAndGlyphs" fill="#161616" stroke="#161616" stroke-width="0.1">One carbon pool by folate</text>
<circle cx="392.4" cy="87.6" r="3.7" fill="#18b6d6"/>
<text x="401.00" y="90.22" font-size="7.7" textLength="115.5" lengthAdjust="spacingAndGlyphs" fill="#161616" stroke="#161616" stroke-width="0.1">Mannose type O-glycan biosynthesis</text>
<circle cx="392.4" cy="105.7" r="3.7" fill="#14997f"/>
<text x="401.00" y="108.34" font-size="7.7" textLength="129.8" lengthAdjust="spacingAndGlyphs" fill="#161616" stroke="#161616" stroke-width="0.1">Glycine, serine and threonine metabolism</text>
<circle cx="392.4" cy="123.9" r="3.7" fill="#2b4a8c"/>
<text x="401.00" y="126.46" font-size="7.7" textLength="113.0" lengthAdjust="spacingAndGlyphs" fill="#161616" stroke="#161616" stroke-width="0.1">Other types of O-glycan biosynthesis</text>
<circle cx="392.4" cy="142.0" r="3.7" fill="#f7957c"/>
<text x="401.00" y="144.58" font-size="7.7" textLength="111.5" lengthAdjust="spacingAndGlyphs" fill="#161616" stroke="#161616" stroke-width="0.1">Cysteine and methionine metabolism</text>
<circle cx="392.4" cy="160.1" r="3.7" fill="#8893bf"/>
<text x="401.00" y="162.70" font-size="7.7" textLength="78.5" lengthAdjust="spacingAndGlyphs" fill="#161616" stroke="#161616" stroke-width="0.1">D-Amino acid metabolism</text>
<defs><linearGradient id="lfc" x1="0" x2="1" y1="0" y2="0"><stop offset="0" stop-color="#0000ff"/><stop offset="0.56" stop-color="#ffffff"/><stop offset="1" stop-color="#ff0000"/></linearGradient></defs>
<text x="334.10" y="210.40" font-size="4.3" textLength="15.0" lengthAdjust="spacingAndGlyphs" font-weight="bold" fill="#222">Log2FC</text>
<rect x="335" y="213" width="21.2" height="4.5" fill="url(#lfc)"/>
<text x="335.80" y="222.40" font-size="5.0" text-anchor="middle" fill="#222">-4</text>
<text x="343.30" y="222.40" font-size="5.0" text-anchor="middle" fill="#222">-2</text>
<text x="348.60" y="222.40" font-size="5.0" text-anchor="middle" fill="#222">0</text>
<text x="354.00" y="222.40" font-size="5.0" text-anchor="middle" fill="#222">2</text>
<text x="163.70" y="249.00" font-size="10.4" textLength="6.6" lengthAdjust="spacingAndGlyphs" fill="#111" stroke="#111" stroke-width="0.1">D</text>
<text x="165.20" y="323.80" font-size="10.4" textLength="5.6" lengthAdjust="spacingAndGlyphs" fill="#111" stroke="#111" stroke-width="0.1">E</text>
<text x="202.70" y="248.30" font-size="8.0" textLength="58.1" lengthAdjust="spacingAndGlyphs" fill="#161616" stroke="#161616" stroke-width="0.1">Serine Metabolism</text>
<rect x="192.6" y="251.5" width="93.6" height="59.0" fill="#fff" stroke="#a0a0a0" stroke-width="0.9"/>
<line x1="209.4" y1="252.5" x2="209.4" y2="293.5" stroke="#efefef" stroke-width="0.5"/>
<line x1="226.3" y1="252.5" x2="226.3" y2="293.5" stroke="#efefef" stroke-width="0.5"/>
<line x1="243.1" y1="252.5" x2="243.1" y2="293.5" stroke="#efefef" stroke-width="0.5"/>
<line x1="260.0" y1="252.5" x2="260.0" y2="293.5" stroke="#efefef" stroke-width="0.5"/>
<line x1="276.8" y1="252.5" x2="276.8" y2="293.5" stroke="#efefef" stroke-width="0.5"/>
<line x1="193.6" y1="256.8" x2="285.2" y2="256.8" stroke="#d4d4d4" stroke-width="0.6"/>
<text x="190.80" y="259.40" font-size="7.6" text-anchor="end" textLength="9.6" lengthAdjust="spacingAndGlyphs" fill="#161616" stroke="#161616" stroke-width="0.1">0.0</text>
<line x1="193.6" y1="268.1" x2="285.2" y2="268.1" stroke="#ececec" stroke-width="0.6"/>
<text x="190.80" y="270.70" font-size="7.6" text-anchor="end" textLength="12.8" lengthAdjust="spacingAndGlyphs" fill="#161616" stroke="#161616" stroke-width="0.1">-0.2</text>
<line x1="193.6" y1="278.0" x2="285.2" y2="278.0" stroke="#ececec" stroke-width="0.6"/>
<text x="190.80" y="280.60" font-size="7.6" text-anchor="end" textLength="12.8" lengthAdjust="spacingAndGlyphs" fill="#161616" stroke="#161616" stroke-width="0.1">-0.4</text>
<line x1="193.6" y1="288.2" x2="285.2" y2="288.2" stroke="#ececec" stroke-width="0.6"/>
<text x="190.80" y="290.80" font-size="7.6" text-anchor="end" textLength="12.8" lengthAdjust="spacingAndGlyphs" fill="#161616" stroke="#161616" stroke-width="0.1">-0.6</text>
<line x1="193.6" y1="293.5" x2="285.2" y2="293.5" stroke="#dcdcdc" stroke-width="0.5"/>
<polyline points="192.7,258.2 193.5,255.5 194.5,254.0 197.0,253.8 200.0,254.0 203.6,255.5 230.0,270.0 255.5,284.5 259.0,287.5 262.7,289.6 266.4,290.9 270.0,289.1 273.6,285.5 277.3,280.0 279.1,273.6 280.9,264.5 281.8,257.3" fill="none" stroke="#25b54c" stroke-width="1.1" stroke-linejoin="round"/>
<rect x="193.6" y="293.5" width="1.8181818181818181" height="13.1" fill="#999"/>
<rect x="194.1" y="293.5" width="0.8" height="13.1" fill="#222"/>
<rect x="196.0" y="293.5" width="0.8" height="13.1" fill="#444"/>
<rect x="197.8" y="293.5" width="0.8" height="13.1" fill="#333"/>
<rect x="199.6" y="293.5" width="0.8" height="13.1" fill="#111"/>
<rect x="201.4" y="293.5" width="0.8" height="13.1" fill="#555"/>
<rect x="203.2" y="293.5" width="0.8" height="13.1" fill="#333"/>
<rect x="206.9" y="293.5" width="0.8" height="13.1" fill="#666"/>
<rect x="208.7" y="293.5" width="0.8" height="13.1" fill="#444"/>
<rect x="211.4" y="293.5" width="0.8" height="13.1" fill="#555"/>
<rect x="214.1" y="293.5" width="0.8" height="13.1" fill="#999"/>
<rect x="216.9" y="293.5" width="0.8" height="13.1" fill="#444"/>
<rect x="219.6" y="293.5" width="0.8" height="13.1" fill="#666"/>
<rect x="221.4" y="293.5" width="0.8" height="13.1" fill="#555"/>
<rect x="223.2" y="293.5" width="0.8" height="13.1" fill="#777"/>
<rect x="226.0" y="293.5" width="0.8" height="13.1" fill="#444"/>
<rect x="230.5" y="293.5" width="0.8" height="13.1" fill="#666"/>
<rect x="233.2" y="293.5" width="0.8" height="13.1" fill="#555"/>
<rect x="236.0" y="293.5" width="0.8" height="13.1" fill="#777"/>
<rect x="237.8" y="293.5" width="0.8" height="13.1" fill="#444"/>
<rect x="239.6" y="293.5" width="0.8" height="13.1" fill="#666"/>
<rect x="248.5" y="293.5" width="4.181818181818182" height="13.1" fill="#d6d6d6"/>
<rect x="255.1" y="293.5" width="4.909090909090909" height="13.1" fill="#aaaaaa"/>
<rect x="257.2" y="293.5" width="0.8" height="13.1" fill="#777"/>
<rect x="261.4" y="293.5" width="0.8" height="13.1" fill="#333"/>
<rect x="263.2" y="293.5" width="0.8" height="13.1" fill="#222"/>
<rect x="265.1" y="293.5" width="0.8" height="13.1" fill="#444"/>
<rect x="266.9" y="293.5" width="0.8" height="13.1" fill="#222"/>
<rect x="268.7" y="293.5" width="0.8" height="13.1" fill="#333"/>
<rect x="270.5" y="293.5" width="0.8" height="13.1" fill="#111"/>
<rect x="272.3" y="293.5" width="0.8" height="13.1" fill="#333"/>
<rect x="274.1" y="293.5" width="0.8" height="13.1" fill="#222"/>
<rect x="276.0" y="293.5" width="0.8" height="13.1" fill="#444"/>
<rect x="277.8" y="293.5" width="0.8" height="13.1" fill="#111"/>
<rect x="279.6" y="293.5" width="0.8" height="13.1" fill="#222"/>
<defs><linearGradient id="g2177" x1="0" x2="1"><stop offset="0.029" stop-color="#d77b89"/><stop offset="0.105" stop-color="#d77b89"/><stop offset="0.261" stop-color="#f1cbd9"/><stop offset="0.584" stop-color="#f1cbd9"/><stop offset="0.759" stop-color="#dcdcf0"/><stop offset="0.880" stop-color="#dcdcf0"/><stop offset="0.944" stop-color="#7566b4"/><stop offset="0.984" stop-color="#7566b4"/></linearGradient></defs>
<rect x="192.7" y="306.6" width="88.2" height="3.3" fill="url(#g2177)"/>
<text x="195.60" y="291.00" font-size="6.6" textLength="27.7" lengthAdjust="spacingAndGlyphs" fill="#161616" stroke="#161616" stroke-width="0.1">NES:-1.24</text>
<text transform="translate(173.80,282.40) rotate(-90.0)" y="2" font-size="5.9" text-anchor="middle" textLength="53.5" lengthAdjust="spacingAndGlyphs" fill="#222">Enrichment score (ES)</text>
<text x="330.50" y="248.10" font-size="8.0" textLength="62.6" lengthAdjust="spacingAndGlyphs" fill="#161616" stroke="#161616" stroke-width="0.1">Serine Biosynthesis</text>
<rect x="322.2" y="251.5" width="93.4" height="58.7" fill="#fff" stroke="#a0a0a0" stroke-width="0.9"/>
<line x1="339.0" y1="252.5" x2="339.0" y2="293.6" stroke="#efefef" stroke-width="0.5"/>
<line x1="355.8" y1="252.5" x2="355.8" y2="293.6" stroke="#efefef" stroke-width="0.5"/>
<line x1="372.6" y1="252.5" x2="372.6" y2="293.6" stroke="#efefef" stroke-width="0.5"/>
<line x1="389.4" y1="252.5" x2="389.4" y2="293.6" stroke="#efefef" stroke-width="0.5"/>
<line x1="406.3" y1="252.5" x2="406.3" y2="293.6" stroke="#efefef" stroke-width="0.5"/>
<line x1="323.2" y1="258.6" x2="414.6" y2="258.6" stroke="#d4d4d4" stroke-width="0.6"/>
<text x="320.40" y="261.20" font-size="7.6" text-anchor="end" textLength="9.6" lengthAdjust="spacingAndGlyphs" fill="#161616" stroke="#161616" stroke-width="0.1">0.0</text>
<line x1="323.2" y1="269.3" x2="414.6" y2="269.3" stroke="#ececec" stroke-width="0.6"/>
<text x="320.40" y="271.90" font-size="7.6" text-anchor="end" textLength="12.8" lengthAdjust="spacingAndGlyphs" fill="#161616" stroke="#161616" stroke-width="0.1">-0.2</text>
<line x1="323.2" y1="279.4" x2="414.6" y2="279.4" stroke="#ececec" stroke-width="0.6"/>
<text x="320.40" y="282.00" font-size="7.6" text-anchor="end" textLength="12.8" lengthAdjust="spacingAndGlyphs" fill="#161616" stroke="#161616" stroke-width="0.1">-0.4</text>
<line x1="323.2" y1="289.8" x2="414.6" y2="289.8" stroke="#ececec" stroke-width="0.6"/>
<text x="320.40" y="292.40" font-size="7.6" text-anchor="end" textLength="12.8" lengthAdjust="spacingAndGlyphs" fill="#161616" stroke="#161616" stroke-width="0.1">-0.6</text>
<line x1="323.2" y1="293.6" x2="414.6" y2="293.6" stroke="#dcdcdc" stroke-width="0.5"/>
<polyline points="322.3,260.0 323.2,258.0 324.4,256.4 326.5,254.8 328.9,254.0 332.5,255.5 394.4,290.0 398.0,290.9 400.7,289.6 402.0,286.5 403.5,282.7 405.5,277.0 407.1,271.8 408.9,268.2 410.7,267.3 411.1,260.0" fill="none" stroke="#25b54c" stroke-width="1.1" stroke-linejoin="round"/>
<rect x="322.7" y="293.6" width="4.545454545454546" height="12.6" fill="#9a9a9a"/>
<rect x="325.1" y="293.6" width="0.8" height="12.6" fill="#444"/>
<rect x="327.2" y="293.6" width="0.8" height="12.6" fill="#111"/>
<rect x="329.1" y="293.6" width="5.454545454545454" height="12.6" fill="#c4c4c4"/>
<rect x="330.5" y="293.6" width="0.8" height="12.6" fill="#777"/>
<rect x="336.9" y="293.6" width="0.8" height="12.6" fill="#666"/>
<rect x="356.0" y="293.6" width="0.8" height="12.6" fill="#555"/>
<rect x="358.7" y="293.6" width="0.8" height="12.6" fill="#777"/>
<rect x="370.5" y="293.6" width="0.8" height="12.6" fill="#555"/>
<rect x="374.1" y="293.6" width="0.8" height="12.6" fill="#888"/>
<rect x="382.3" y="293.6" width="0.8" height="12.6" fill="#666"/>
<rect x="385.5" y="293.6" width="3.272727272727273" height="12.6" fill="#a8a8a8"/>
<rect x="389.6" y="293.6" width="0.8" height="12.6" fill="#444"/>
<rect x="391.4" y="293.6" width="0.8" height="12.6" fill="#666"/>
<rect x="393.2" y="293.6" width="0.8" height="12.6" fill="#222"/>
<rect x="395.6" y="293.6" width="0.8" height="12.6" fill="#444"/>
<rect x="396.9" y="293.6" width="0.8" height="12.6" fill="#333"/>
<rect x="398.1" y="293.6" width="0.8" height="12.6" fill="#111"/>
<rect x="399.6" y="293.6" width="0.8" height="12.6" fill="#333"/>
<rect x="400.9" y="293.6" width="4.545454545454546" height="12.6" fill="#3a3a3a"/>
<rect x="402.3" y="293.6" width="0.8" height="12.6" fill="#111"/>
<rect x="406.5" y="293.6" width="0.8" height="12.6" fill="#222"/>
<rect x="408.0" y="293.6" width="0.8" height="12.6" fill="#333"/>
<defs><linearGradient id="g3473" x1="0" x2="1"><stop offset="0.029" stop-color="#d77b89"/><stop offset="0.105" stop-color="#d77b89"/><stop offset="0.259" stop-color="#f1cbd9"/><stop offset="0.576" stop-color="#f1cbd9"/><stop offset="0.749" stop-color="#dcdcf0"/><stop offset="0.870" stop-color="#dcdcf0"/><stop offset="0.936" stop-color="#6f60b0"/><stop offset="0.982" stop-color="#6f60b0"/></linearGradient></defs>
<rect x="322.7" y="306.2" width="88.2" height="3.4" fill="url(#g3473)"/>
<text x="324.60" y="292.00" font-size="6.6" textLength="24.3" lengthAdjust="spacingAndGlyphs" fill="#161616" stroke="#161616" stroke-width="0.1">NES:-1.17</text>
<text transform="translate(300.30,282.25) rotate(-90.0)" y="2" font-size="5.9" text-anchor="middle" textLength="53.5" lengthAdjust="spacingAndGlyphs" fill="#222">Enrichment score (ES)</text>
<text x="460.20" y="248.10" font-size="8.0" textLength="67.4" lengthAdjust="spacingAndGlyphs" fill="#161616" stroke="#161616" stroke-width="0.1">L-serine Biosynthesis</text>
<rect x="452" y="252.6" width="94.0" height="58.9" fill="#fff" stroke="#a0a0a0" stroke-width="0.9"/>
<line x1="468.9" y1="253.6" x2="468.9" y2="294.2" stroke="#efefef" stroke-width="0.5"/>
<line x1="485.8" y1="253.6" x2="485.8" y2="294.2" stroke="#efefef" stroke-width="0.5"/>
<line x1="502.8" y1="253.6" x2="502.8" y2="294.2" stroke="#efefef" stroke-width="0.5"/>
<line x1="519.7" y1="253.6" x2="519.7" y2="294.2" stroke="#efefef" stroke-width="0.5"/>
<line x1="536.6" y1="253.6" x2="536.6" y2="294.2" stroke="#efefef" stroke-width="0.5"/>
<line x1="453" y1="256" x2="545" y2="256" stroke="#d4d4d4" stroke-width="0.6"/>
<text x="450.20" y="258.60" font-size="7.6" text-anchor="end" textLength="9.6" lengthAdjust="spacingAndGlyphs" fill="#161616" stroke="#161616" stroke-width="0.1">0.0</text>
<line x1="453" y1="264.4" x2="545" y2="264.4" stroke="#ececec" stroke-width="0.6"/>
<text x="450.20" y="267.00" font-size="7.6" text-anchor="end" textLength="12.8" lengthAdjust="spacingAndGlyphs" fill="#161616" stroke="#161616" stroke-width="0.1">-0.2</text>
<line x1="453" y1="272.6" x2="545" y2="272.6" stroke="#ececec" stroke-width="0.6"/>
<text x="450.20" y="275.20" font-size="7.6" text-anchor="end" textLength="12.8" lengthAdjust="spacingAndGlyphs" fill="#161616" stroke="#161616" stroke-width="0.1">-0.4</text>
<line x1="453" y1="281.4" x2="545" y2="281.4" stroke="#ececec" stroke-width="0.6"/>
<text x="450.20" y="284.00" font-size="7.6" text-anchor="end" textLength="12.8" lengthAdjust="spacingAndGlyphs" fill="#161616" stroke="#161616" stroke-width="0.1">-0.6</text>
<line x1="453" y1="290" x2="545" y2="290" stroke="#ececec" stroke-width="0.6"/>
<text x="450.20" y="292.60" font-size="7.6" text-anchor="end" textLength="12.8" lengthAdjust="spacingAndGlyphs" fill="#161616" stroke="#161616" stroke-width="0.1">-0.8</text>
<line x1="453" y1="294.2" x2="545" y2="294.2" stroke="#dcdcdc" stroke-width="0.5"/>
<polyline points="452.3,256.9 458.9,259.1 460.7,259.1 526.2,292.2 527.1,290.0 528.9,290.0 529.8,289.1 531.6,289.6 533.1,282.7 534.4,277.3 535.3,273.6 536.2,272.7 536.5,264.2 537.5,263.6 537.6,254.0 541.1,256.4" fill="none" stroke="#25b54c" stroke-width="1.1" stroke-linejoin="round"/>
<rect x="457.6" y="294.2" width="0.8" height="13.8" fill="#666"/>
<rect x="485.8" y="294.2" width="0.8" height="13.8" fill="#555"/>
<rect x="517.6" y="294.2" width="0.8" height="13.8" fill="#444"/>
<rect x="525.8" y="294.2" width="0.8" height="13.8" fill="#555"/>
<rect x="527.6" y="294.2" width="0.8" height="13.8" fill="#333"/>
<rect x="530.7" y="294.2" width="7.2727272727272725" height="13.8" fill="#b8b8b8"/>
<rect x="531.2" y="294.2" width="0.8" height="13.8" fill="#555"/>
<rect x="532.7" y="294.2" width="0.8" height="13.8" fill="#444"/>
<rect x="534.1" y="294.2" width="0.8" height="13.8" fill="#333"/>
<rect x="535.6" y="294.2" width="0.8" height="13.8" fill="#555"/>
<rect x="536.7" y="294.2" width="0.8" height="13.8" fill="#666"/>
<defs><linearGradient id="g4772" x1="0" x2="1"><stop offset="0.031" stop-color="#d77b89"/><stop offset="0.110" stop-color="#d77b89"/><stop offset="0.266" stop-color="#f1cbd9"/><stop offset="0.583" stop-color="#f1cbd9"/><stop offset="0.752" stop-color="#dcdcf0"/><stop offset="0.865" stop-color="#dcdcf0"/><stop offset="0.929" stop-color="#6a5cb0"/><stop offset="0.980" stop-color="#6a5cb0"/></linearGradient></defs>
<rect x="451.6" y="308" width="90.0" height="2.9" fill="url(#g4772)"/>
<text x="454.40" y="291.60" font-size="6.6" textLength="28.0" lengthAdjust="spacingAndGlyphs" fill="#161616" stroke="#161616" stroke-width="0.1">NES:-1.27</text>
<text transform="translate(430.80,283.45) rotate(-90.0)" y="2" font-size="5.9" text-anchor="middle" textLength="53.5" lengthAdjust="spacingAndGlyphs" fill="#222">Enrichment score (ES)</text>
<text x="202.70" y="325.60" font-size="8.0" textLength="58.1" lengthAdjust="spacingAndGlyphs" fill="#161616" stroke="#161616" stroke-width="0.1">Serine Metabolism</text>
<rect x="192.4" y="330.5" width="93.0" height="60.8" fill="#fff" stroke="#a0a0a0" stroke-width="0.9"/>
<line x1="209.1" y1="331.5" x2="209.1" y2="373.3" stroke="#efefef" stroke-width="0.5"/>
<line x1="225.9" y1="331.5" x2="225.9" y2="373.3" stroke="#efefef" stroke-width="0.5"/>
<line x1="242.6" y1="331.5" x2="242.6" y2="373.3" stroke="#efefef" stroke-width="0.5"/>
<line x1="259.4" y1="331.5" x2="259.4" y2="373.3" stroke="#efefef" stroke-width="0.5"/>
<line x1="276.1" y1="331.5" x2="276.1" y2="373.3" stroke="#efefef" stroke-width="0.5"/>
<line x1="193.4" y1="336.7" x2="284.4" y2="336.7" stroke="#ececec" stroke-width="0.6"/>
<text x="190.60" y="339.30" font-size="7.6" text-anchor="end" textLength="12.0" lengthAdjust="spacingAndGlyphs" fill="#161616" stroke="#161616" stroke-width="0.1">0.15</text>
<line x1="193.4" y1="346.3" x2="284.4" y2="346.3" stroke="#d4d4d4" stroke-width="0.6"/>
<text x="190.60" y="348.90" font-size="7.6" text-anchor="end" textLength="12.0" lengthAdjust="spacingAndGlyphs" fill="#161616" stroke="#161616" stroke-width="0.1">0.00</text>
<line x1="193.4" y1="356.9" x2="284.4" y2="356.9" stroke="#ececec" stroke-width="0.6"/>
<text x="190.60" y="359.50" font-size="7.6" text-anchor="end" textLength="15.0" lengthAdjust="spacingAndGlyphs" fill="#161616" stroke="#161616" stroke-width="0.1">-0.15</text>
<line x1="193.4" y1="367.3" x2="284.4" y2="367.3" stroke="#ececec" stroke-width="0.6"/>
<text x="190.60" y="369.90" font-size="7.6" text-anchor="end" textLength="15.0" lengthAdjust="spacingAndGlyphs" fill="#161616" stroke="#161616" stroke-width="0.1">-0.30</text>
<line x1="193.4" y1="373.3" x2="284.4" y2="373.3" stroke="#dcdcdc" stroke-width="0.5"/>
<polyline points="192.7,336.5 193.6,333.7 195.0,334.2 196.4,335.2 197.9,334.7 199.4,333.3 200.9,332.6 202.7,333.6 204.5,332.6 206.3,332.9 208.2,334.3 209.7,333.5 211.1,334.0 212.6,333.4 214.0,333.6 215.5,332.8 217.3,334.4 219.1,335.6 220.6,336.2 222.0,337.6 223.5,338.6 224.9,338.8 226.4,340.6 227.9,341.9 229.4,343.1 230.9,344.4 232.5,346.1 234.0,347.3 235.5,348.8 237.0,350.3 238.5,351.5 240.0,353.0 241.5,354.1 243.0,355.7 244.5,356.9 246.0,358.0 247.4,358.9 248.9,359.5 250.3,360.4 251.8,361.4 253.3,362.5 254.7,362.9 256.2,363.7 257.6,364.3 259.1,365.1 260.6,365.9 262.0,366.8 263.5,367.8 264.9,368.7 266.4,370.2 268.2,369.4 270.0,369.3 271.4,369.0 272.8,368.9 274.1,368.3 275.5,367.3 277.3,367.0 279.1,365.8 280.9,363.3 281.5,346.0" fill="none" stroke="#25b54c" stroke-width="1.1" stroke-linejoin="round"/>
<rect x="193.6" y="373.3" width="2.727272727272727" height="13.1" fill="#aaa"/>
<rect x="196.9" y="373.3" width="0.8" height="13.1" fill="#555"/>
<rect x="198.7" y="373.3" width="0.8" height="13.1" fill="#777"/>
<rect x="201.8" y="373.3" width="5.454545454545454" height="13.1" fill="#8a8a8a"/>
<rect x="202.3" y="373.3" width="0.8" height="13.1" fill="#333"/>
<rect x="205.1" y="373.3" width="0.8" height="13.1" fill="#444"/>
<rect x="208.2" y="373.3" width="1.8181818181818181" height="13.1" fill="#999"/>
<rect x="211.8" y="373.3" width="2.727272727272727" height="13.1" fill="#666"/>
<rect x="212.3" y="373.3" width="0.8" height="13.1" fill="#222"/>
<rect x="215.1" y="373.3" width="0.8" height="13.1" fill="#555"/>
<rect x="217.8" y="373.3" width="0.8" height="13.1" fill="#777"/>
<rect x="225.5" y="373.3" width="3.6363636363636362" height="13.1" fill="#6a6a6a"/>
<rect x="226.0" y="373.3" width="0.8" height="13.1" fill="#222"/>
<rect x="230.0" y="373.3" width="7.2727272727272725" height="13.1" fill="#888"/>
<rect x="232.3" y="373.3" width="0.8" height="13.1" fill="#333"/>
<rect x="235.1" y="373.3" width="0.8" height="13.1" fill="#444"/>
<rect x="239.1" y="373.3" width="9.090909090909092" height="13.1" fill="#d4d4d4"/>
<rect x="249.1" y="373.3" width="3.6363636363636362" height="13.1" fill="#b0b0b0"/>
<rect x="254.1" y="373.3" width="0.8" height="13.1" fill="#555"/>
<rect x="257.3" y="373.3" width="2.727272727272727" height="13.1" fill="#999"/>
<rect x="258.3" y="373.3" width="0.8" height="13.1" fill="#333"/>
<rect x="261.8" y="373.3" width="2.727272727272727" height="13.1" fill="#888"/>
<rect x="266.0" y="373.3" width="0.8" height="13.1" fill="#444"/>
<rect x="267.8" y="373.3" width="0.8" height="13.1" fill="#666"/>
<rect x="269.6" y="373.3" width="0.8" height="13.1" fill="#333"/>
<rect x="271.4" y="373.3" width="0.8" height="13.1" fill="#555"/>
<rect x="273.2" y="373.3" width="0.8" height="13.1" fill="#444"/>
<rect x="276.0" y="373.3" width="0.8" height="13.1" fill="#666"/>
<rect x="278.7" y="373.3" width="0.8" height="13.1" fill="#444"/>
<defs><linearGradient id="g2254" x1="0" x2="1"><stop offset="0.034" stop-color="#d4808e"/><stop offset="0.119" stop-color="#d4808e"/><stop offset="0.189" stop-color="#e0a0b0"/><stop offset="0.280" stop-color="#e0a0b0"/><stop offset="0.352" stop-color="#eed2de"/><stop offset="0.444" stop-color="#eed2de"/><stop offset="0.540" stop-color="#d8d8f0"/><stop offset="0.694" stop-color="#d8d8f0"/><stop offset="0.789" stop-color="#a8a2dc"/><stop offset="0.874" stop-color="#a8a2dc"/><stop offset="0.928" stop-color="#6a5eb6"/><stop offset="0.980" stop-color="#6a5eb6"/></linearGradient></defs>
<rect x="192.7" y="386.4" width="89.1" height="4.3" fill="url(#g2254)"/>
<text x="195.90" y="369.60" font-size="6.6" textLength="27.3" lengthAdjust="spacingAndGlyphs" fill="#161616" stroke="#161616" stroke-width="0.1">NES:-0.98</text>
<text transform="translate(173.80,362.30) rotate(-90.0)" y="2" font-size="5.9" text-anchor="middle" textLength="53.5" lengthAdjust="spacingAndGlyphs" fill="#222">Enrichment score (ES)</text>
<text x="330.50" y="326.30" font-size="8.0" textLength="62.6" lengthAdjust="spacingAndGlyphs" fill="#161616" stroke="#161616" stroke-width="0.1">Serine Biosynthesis</text>
<rect x="321.7" y="330.6" width="93.9" height="61.0" fill="#fff" stroke="#a0a0a0" stroke-width="0.9"/>
<line x1="338.6" y1="331.6" x2="338.6" y2="373.4" stroke="#efefef" stroke-width="0.5"/>
<line x1="355.5" y1="331.6" x2="355.5" y2="373.4" stroke="#efefef" stroke-width="0.5"/>
<line x1="372.4" y1="331.6" x2="372.4" y2="373.4" stroke="#efefef" stroke-width="0.5"/>
<line x1="389.3" y1="331.6" x2="389.3" y2="373.4" stroke="#efefef" stroke-width="0.5"/>
<line x1="406.2" y1="331.6" x2="406.2" y2="373.4" stroke="#efefef" stroke-width="0.5"/>
<line x1="322.7" y1="337.2" x2="414.6" y2="337.2" stroke="#ececec" stroke-width="0.6"/>
<text x="319.90" y="339.80" font-size="7.6" text-anchor="end" textLength="12.0" lengthAdjust="spacingAndGlyphs" fill="#161616" stroke="#161616" stroke-width="0.1">0.20</text>
<line x1="322.7" y1="346.6" x2="414.6" y2="346.6" stroke="#ececec" stroke-width="0.6"/>
<text x="319.90" y="349.20" font-size="7.6" text-anchor="end" textLength="12.0" lengthAdjust="spacingAndGlyphs" fill="#161616" stroke="#161616" stroke-width="0.1">0.10</text>
<line x1="322.7" y1="356.6" x2="414.6" y2="356.6" stroke="#d4d4d4" stroke-width="0.6"/>
<text x="319.90" y="359.20" font-size="7.6" text-anchor="end" textLength="12.0" lengthAdjust="spacingAndGlyphs" fill="#161616" stroke="#161616" stroke-width="0.1">0.00</text>
<line x1="322.7" y1="363.9" x2="414.6" y2="363.9" stroke="#ececec" stroke-width="0.6"/>
<text x="319.90" y="366.50" font-size="7.6" text-anchor="end" textLength="15.0" lengthAdjust="spacingAndGlyphs" fill="#161616" stroke="#161616" stroke-width="0.1">-0.10</text>
<line x1="322.7" y1="371" x2="414.6" y2="371" stroke="#ececec" stroke-width="0.6"/>
<text x="319.90" y="373.60" font-size="7.6" text-anchor="end" textLength="15.0" lengthAdjust="spacingAndGlyphs" fill="#161616" stroke="#161616" stroke-width="0.1">-0.20</text>
<line x1="322.7" y1="373.4" x2="414.6" y2="373.4" stroke="#dcdcdc" stroke-width="0.5"/>
<polyline points="322.1,358.5 323.2,356.0 324.5,354.8 325.4,348.3 326.9,345.5 328.0,346.0 329.1,344.6 331.0,346.4 332.8,339.9 334.0,338.8 335.6,337.5 337.0,338.2 338.4,339.0 340.0,335.0 341.2,333.0 343.0,333.8 345.8,333.4 348.0,334.4 350.5,335.3 357.0,339.9 364.4,347.3 371.8,354.8 379.2,360.3 386.6,364.0 392.2,367.7 393.1,365.9 395.0,368.0 397.8,370.5 399.6,365.9 401.0,367.5 402.4,366.8 404.3,365.9 406.1,361.3 408.0,356.6 409.8,358.5 410.8,355.7 412.2,357.2" fill="none" stroke="#25b54c" stroke-width="1.1" stroke-linejoin="round"/>
<rect x="324.5" y="373.4" width="4.545454545454546" height="12.6" fill="#aaa"/>
<rect x="326.0" y="373.4" width="0.8" height="12.6" fill="#555"/>
<rect x="331.8" y="373.4" width="5.454545454545454" height="12.6" fill="#777"/>
<rect x="333.2" y="373.4" width="0.8" height="12.6" fill="#222"/>
<rect x="335.6" y="373.4" width="0.8" height="12.6" fill="#333"/>
<rect x="338.2" y="373.4" width="2.727272727272727" height="12.6" fill="#999"/>
<rect x="342.3" y="373.4" width="0.8" height="12.6" fill="#444"/>
<rect x="345.5" y="373.4" width="3.6363636363636362" height="12.6" fill="#8a8a8a"/>
<rect x="346.9" y="373.4" width="0.8" height="12.6" fill="#333"/>
<rect x="352.7" y="373.4" width="3.6363636363636362" height="12.6" fill="#5a5a5a"/>
<rect x="354.1" y="373.4" width="0.8" height="12.6" fill="#222"/>
<rect x="357.8" y="373.4" width="0.8" height="12.6" fill="#555"/>
<rect x="361.4" y="373.4" width="0.8" height="12.6" fill="#777"/>
<rect x="364.5" y="373.4" width="2.727272727272727" height="12.6" fill="#666"/>
<rect x="365.4" y="373.4" width="0.8" height="12.6" fill="#222"/>
<rect x="370.9" y="373.4" width="3.6363636363636362" height="12.6" fill="#aaa"/>
<rect x="372.3" y="373.4" width="0.8" height="12.6" fill="#555"/>
<rect x="376.0" y="373.4" width="0.8" height="12.6" fill="#666"/>
<rect x="379.1" y="373.4" width="2.727272727272727" height="12.6" fill="#999"/>
<rect x="380.0" y="373.4" width="0.8" height="12.6" fill="#333"/>
<rect x="384.1" y="373.4" width="0.8" height="12.6" fill="#444"/>
<rect x="386.0" y="373.4" width="0.8" height="12.6" fill="#666"/>
<rect x="389.6" y="373.4" width="0.8" height="12.6" fill="#333"/>
<rect x="392.3" y="373.4" width="0.8" height="12.6" fill="#555"/>
<rect x="398.2" y="373.4" width="1.8181818181818181" height="12.6" fill="#777"/>
<rect x="403.2" y="373.4" width="0.8" height="12.6" fill="#444"/>
<rect x="406.9" y="373.4" width="0.8" height="12.6" fill="#555"/>
<defs><linearGradient id="g3547" x1="0" x2="1"><stop offset="0.034" stop-color="#d4808e"/><stop offset="0.119" stop-color="#d4808e"/><stop offset="0.189" stop-color="#e0a0b0"/><stop offset="0.280" stop-color="#e0a0b0"/><stop offset="0.348" stop-color="#eed2de"/><stop offset="0.428" stop-color="#eed2de"/><stop offset="0.524" stop-color="#d8d8f0"/><stop offset="0.690" stop-color="#d8d8f0"/><stop offset="0.789" stop-color="#a8a2dc"/><stop offset="0.874" stop-color="#a8a2dc"/><stop offset="0.928" stop-color="#6a5eb6"/><stop offset="0.980" stop-color="#6a5eb6"/></linearGradient></defs>
<rect x="322.7" y="386" width="89.1" height="5.0" fill="url(#g3547)"/>
<text x="325.30" y="370.20" font-size="6.6" textLength="26.0" lengthAdjust="spacingAndGlyphs" fill="#161616" stroke="#161616" stroke-width="0.1">NES:0.88</text>
<text transform="translate(300.30,362.50) rotate(-90.0)" y="2" font-size="5.9" text-anchor="middle" textLength="53.5" lengthAdjust="spacingAndGlyphs" fill="#222">Enrichment score (ES)</text>
<text x="460.00" y="326.30" font-size="8.0" textLength="66.9" lengthAdjust="spacingAndGlyphs" fill="#161616" stroke="#161616" stroke-width="0.1">L-serine Biosynthesis</text>
<rect x="449.3" y="329.4" width="96.3" height="61.0" fill="#fff" stroke="#a0a0a0" stroke-width="0.9"/>
<line x1="466.6" y1="330.4" x2="466.6" y2="372.4" stroke="#efefef" stroke-width="0.5"/>
<line x1="484.0" y1="330.4" x2="484.0" y2="372.4" stroke="#efefef" stroke-width="0.5"/>
<line x1="501.3" y1="330.4" x2="501.3" y2="372.4" stroke="#efefef" stroke-width="0.5"/>
<line x1="518.6" y1="330.4" x2="518.6" y2="372.4" stroke="#efefef" stroke-width="0.5"/>
<line x1="536.0" y1="330.4" x2="536.0" y2="372.4" stroke="#efefef" stroke-width="0.5"/>
<line x1="450.3" y1="335.9" x2="544.6" y2="335.9" stroke="#d4d4d4" stroke-width="0.6"/>
<text x="447.50" y="338.50" font-size="7.6" text-anchor="end" textLength="9.6" lengthAdjust="spacingAndGlyphs" fill="#161616" stroke="#161616" stroke-width="0.1">0.0</text>
<line x1="450.3" y1="345.6" x2="544.6" y2="345.6" stroke="#ececec" stroke-width="0.6"/>
<text x="447.50" y="348.20" font-size="7.6" text-anchor="end" textLength="12.8" lengthAdjust="spacingAndGlyphs" fill="#161616" stroke="#161616" stroke-width="0.1">-0.2</text>
<line x1="450.3" y1="355" x2="544.6" y2="355" stroke="#ececec" stroke-width="0.6"/>
<text x="447.50" y="357.60" font-size="7.6" text-anchor="end" textLength="12.8" lengthAdjust="spacingAndGlyphs" fill="#161616" stroke="#161616" stroke-width="0.1">-0.3</text>
<line x1="450.3" y1="365.6" x2="544.6" y2="365.6" stroke="#ececec" stroke-width="0.6"/>
<text x="447.50" y="368.20" font-size="7.6" text-anchor="end" textLength="12.8" lengthAdjust="spacingAndGlyphs" fill="#161616" stroke="#161616" stroke-width="0.1">-0.4</text>
<line x1="450.3" y1="372.4" x2="544.6" y2="372.4" stroke="#dcdcdc" stroke-width="0.5"/>
<polyline points="449.5,338.4 460.4,347.5 460.5,340.5 463.5,343.3 463.6,337.0 466.7,340.5 466.8,331.8 481.6,343.3 482.5,343.3 487.0,345.6 502.5,358.7 505.3,360.2 513.5,367.5 513.6,363.3 520.7,368.2 520.8,365.1 527.1,370.0 527.2,364.2 527.8,364.0 527.9,358.7 536.7,365.1 536.8,353.3 538.5,355.1 538.6,336.5 541.1,337.8" fill="none" stroke="#25b54c" stroke-width="1.1" stroke-linejoin="round"/>
<rect x="460.1" y="372.4" width="0.8" height="14.0" fill="#777"/>
<rect x="463.8" y="372.4" width="0.8" height="14.0" fill="#666"/>
<rect x="467.4" y="372.4" width="0.8" height="14.0" fill="#555"/>
<rect x="481.1" y="372.4" width="0.8" height="14.0" fill="#666"/>
<rect x="484.7" y="372.4" width="0.8" height="14.0" fill="#777"/>
<rect x="492.4" y="372.4" width="2.727272727272727" height="14.0" fill="#aaa"/>
<rect x="493.2" y="372.4" width="0.8" height="14.0" fill="#555"/>
<rect x="502.0" y="372.4" width="0.8" height="14.0" fill="#777"/>
<rect x="504.7" y="372.4" width="0.8" height="14.0" fill="#666"/>
<rect x="513.8" y="372.4" width="0.8" height="14.0" fill="#444"/>
<rect x="520.1" y="372.4" width="0.8" height="14.0" fill="#555"/>
<rect x="527.4" y="372.4" width="0.8" height="14.0" fill="#666"/>
<rect x="532.9" y="372.4" width="0.8" height="14.0" fill="#555"/>
<rect x="535.6" y="372.4" width="0.8" height="14.0" fill="#777"/>
<rect x="539.2" y="372.4" width="0.8" height="14.0" fill="#666"/>
<defs><linearGradient id="g4822" x1="0" x2="1"><stop offset="0.035" stop-color="#d4808e"/><stop offset="0.124" stop-color="#d4808e"/><stop offset="0.193" stop-color="#e0a0b0"/><stop offset="0.282" stop-color="#e0a0b0"/><stop offset="0.352" stop-color="#eed2de"/><stop offset="0.440" stop-color="#eed2de"/><stop offset="0.536" stop-color="#dcdaf0"/><stop offset="0.691" stop-color="#dcdaf0"/><stop offset="0.787" stop-color="#a8a2dc"/><stop offset="0.876" stop-color="#a8a2dc"/><stop offset="0.930" stop-color="#6a5eb6"/><stop offset="0.980" stop-color="#6a5eb6"/></linearGradient></defs>
<rect x="449.6" y="386.4" width="91.8" height="3.4" fill="url(#g4822)"/>
<text x="452.00" y="370.20" font-size="6.6" textLength="27.9" lengthAdjust="spacingAndGlyphs" fill="#161616" stroke="#161616" stroke-width="0.1">NES:-1.00</text>
<text transform="translate(430.60,361.30) rotate(-90.0)" y="2" font-size="5.9" text-anchor="middle" textLength="53.5" lengthAdjust="spacingAndGlyphs" fill="#222">Enrichment score (ES)</text>
</svg></body></html>
